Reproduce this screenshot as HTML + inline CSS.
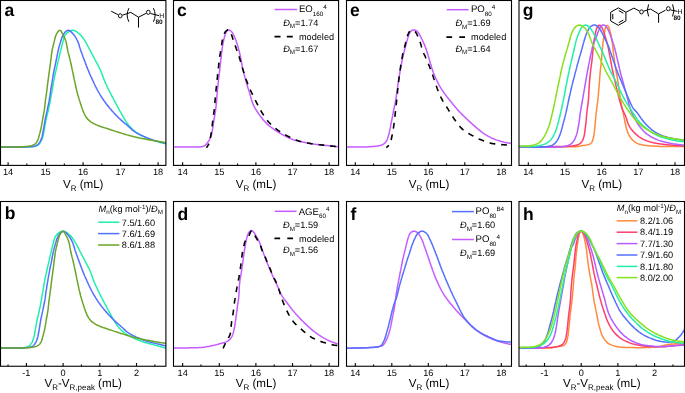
<!DOCTYPE html>
<html><head><meta charset="utf-8"><style>
html,body{margin:0;padding:0;background:#fff;}
body{width:685px;height:393px;overflow:hidden;position:relative;font-family:"Liberation Sans", sans-serif;}
svg text{font-family:"Liberation Sans", sans-serif;fill:#000;text-rendering:geometricPrecision;}
</style></head><body>
<svg xmlns="http://www.w3.org/2000/svg" width="685" height="393" viewBox="0 0 685 393" style="position:absolute;left:0;top:0;will-change:transform">
<line x1="8.10" y1="162.20" x2="8.10" y2="165.40" stroke="#000" stroke-width="1.1"/>
<line x1="45.60" y1="162.20" x2="45.60" y2="165.40" stroke="#000" stroke-width="1.1"/>
<line x1="83.10" y1="162.20" x2="83.10" y2="165.40" stroke="#000" stroke-width="1.1"/>
<line x1="120.60" y1="162.20" x2="120.60" y2="165.40" stroke="#000" stroke-width="1.1"/>
<line x1="158.10" y1="162.20" x2="158.10" y2="165.40" stroke="#000" stroke-width="1.1"/>
<line x1="26.85" y1="163.60" x2="26.85" y2="165.40" stroke="#000" stroke-width="1.1"/>
<line x1="64.35" y1="163.60" x2="64.35" y2="165.40" stroke="#000" stroke-width="1.1"/>
<line x1="101.85" y1="163.60" x2="101.85" y2="165.40" stroke="#000" stroke-width="1.1"/>
<line x1="139.35" y1="163.60" x2="139.35" y2="165.40" stroke="#000" stroke-width="1.1"/>
<text x="8.10" y="175.45" font-size="9.2" text-anchor="middle">14</text>
<text x="45.60" y="175.45" font-size="9.2" text-anchor="middle">15</text>
<text x="83.10" y="175.45" font-size="9.2" text-anchor="middle">16</text>
<text x="120.60" y="175.45" font-size="9.2" text-anchor="middle">17</text>
<text x="158.10" y="175.45" font-size="9.2" text-anchor="middle">18</text>
<text x="83.20" y="188.2" font-size="11.6" text-anchor="middle">V<tspan font-size="8.0" dy="3">R</tspan><tspan dy="-3"> (mL)</tspan></text>
<line x1="26.40" y1="363.05" x2="26.40" y2="366.25" stroke="#000" stroke-width="1.1"/>
<line x1="63.10" y1="363.05" x2="63.10" y2="366.25" stroke="#000" stroke-width="1.1"/>
<line x1="99.80" y1="363.05" x2="99.80" y2="366.25" stroke="#000" stroke-width="1.1"/>
<line x1="136.50" y1="363.05" x2="136.50" y2="366.25" stroke="#000" stroke-width="1.1"/>
<line x1="8.05" y1="364.45" x2="8.05" y2="366.25" stroke="#000" stroke-width="1.1"/>
<line x1="44.75" y1="364.45" x2="44.75" y2="366.25" stroke="#000" stroke-width="1.1"/>
<line x1="81.45" y1="364.45" x2="81.45" y2="366.25" stroke="#000" stroke-width="1.1"/>
<line x1="118.15" y1="364.45" x2="118.15" y2="366.25" stroke="#000" stroke-width="1.1"/>
<line x1="154.85" y1="364.45" x2="154.85" y2="366.25" stroke="#000" stroke-width="1.1"/>
<text x="26.40" y="375.8" font-size="9.2" text-anchor="middle">-1</text>
<text x="63.10" y="375.8" font-size="9.2" text-anchor="middle">0</text>
<text x="99.80" y="375.8" font-size="9.2" text-anchor="middle">1</text>
<text x="136.50" y="375.8" font-size="9.2" text-anchor="middle">2</text>
<text x="83.20" y="387.4" font-size="11.6" text-anchor="middle">V<tspan font-size="8.0" dy="3">R</tspan><tspan dy="-3">-V</tspan><tspan font-size="8.0" dy="3">R,peak</tspan><tspan dy="-3"> (mL)</tspan></text>
<line x1="182.65" y1="162.20" x2="182.65" y2="165.40" stroke="#000" stroke-width="1.1"/>
<line x1="219.27" y1="162.20" x2="219.27" y2="165.40" stroke="#000" stroke-width="1.1"/>
<line x1="255.89" y1="162.20" x2="255.89" y2="165.40" stroke="#000" stroke-width="1.1"/>
<line x1="292.51" y1="162.20" x2="292.51" y2="165.40" stroke="#000" stroke-width="1.1"/>
<line x1="329.13" y1="162.20" x2="329.13" y2="165.40" stroke="#000" stroke-width="1.1"/>
<line x1="200.96" y1="163.60" x2="200.96" y2="165.40" stroke="#000" stroke-width="1.1"/>
<line x1="237.58" y1="163.60" x2="237.58" y2="165.40" stroke="#000" stroke-width="1.1"/>
<line x1="274.20" y1="163.60" x2="274.20" y2="165.40" stroke="#000" stroke-width="1.1"/>
<line x1="310.82" y1="163.60" x2="310.82" y2="165.40" stroke="#000" stroke-width="1.1"/>
<text x="182.65" y="175.45" font-size="9.2" text-anchor="middle">14</text>
<text x="219.27" y="175.45" font-size="9.2" text-anchor="middle">15</text>
<text x="255.89" y="175.45" font-size="9.2" text-anchor="middle">16</text>
<text x="292.51" y="175.45" font-size="9.2" text-anchor="middle">17</text>
<text x="329.13" y="175.45" font-size="9.2" text-anchor="middle">18</text>
<text x="256.05" y="188.2" font-size="11.6" text-anchor="middle">V<tspan font-size="8.0" dy="3">R</tspan><tspan dy="-3"> (mL)</tspan></text>
<line x1="182.65" y1="363.05" x2="182.65" y2="366.25" stroke="#000" stroke-width="1.1"/>
<line x1="219.27" y1="363.05" x2="219.27" y2="366.25" stroke="#000" stroke-width="1.1"/>
<line x1="255.89" y1="363.05" x2="255.89" y2="366.25" stroke="#000" stroke-width="1.1"/>
<line x1="292.51" y1="363.05" x2="292.51" y2="366.25" stroke="#000" stroke-width="1.1"/>
<line x1="329.13" y1="363.05" x2="329.13" y2="366.25" stroke="#000" stroke-width="1.1"/>
<line x1="200.96" y1="364.45" x2="200.96" y2="366.25" stroke="#000" stroke-width="1.1"/>
<line x1="237.58" y1="364.45" x2="237.58" y2="366.25" stroke="#000" stroke-width="1.1"/>
<line x1="274.20" y1="364.45" x2="274.20" y2="366.25" stroke="#000" stroke-width="1.1"/>
<line x1="310.82" y1="364.45" x2="310.82" y2="366.25" stroke="#000" stroke-width="1.1"/>
<text x="182.65" y="375.8" font-size="9.2" text-anchor="middle">14</text>
<text x="219.27" y="375.8" font-size="9.2" text-anchor="middle">15</text>
<text x="255.89" y="375.8" font-size="9.2" text-anchor="middle">16</text>
<text x="292.51" y="375.8" font-size="9.2" text-anchor="middle">17</text>
<text x="329.13" y="375.8" font-size="9.2" text-anchor="middle">18</text>
<text x="256.05" y="387.4" font-size="11.6" text-anchor="middle">V<tspan font-size="8.0" dy="3">R</tspan><tspan dy="-3"> (mL)</tspan></text>
<line x1="355.30" y1="162.20" x2="355.30" y2="165.40" stroke="#000" stroke-width="1.1"/>
<line x1="391.80" y1="162.20" x2="391.80" y2="165.40" stroke="#000" stroke-width="1.1"/>
<line x1="428.30" y1="162.20" x2="428.30" y2="165.40" stroke="#000" stroke-width="1.1"/>
<line x1="464.80" y1="162.20" x2="464.80" y2="165.40" stroke="#000" stroke-width="1.1"/>
<line x1="501.30" y1="162.20" x2="501.30" y2="165.40" stroke="#000" stroke-width="1.1"/>
<line x1="373.55" y1="163.60" x2="373.55" y2="165.40" stroke="#000" stroke-width="1.1"/>
<line x1="410.05" y1="163.60" x2="410.05" y2="165.40" stroke="#000" stroke-width="1.1"/>
<line x1="446.55" y1="163.60" x2="446.55" y2="165.40" stroke="#000" stroke-width="1.1"/>
<line x1="483.05" y1="163.60" x2="483.05" y2="165.40" stroke="#000" stroke-width="1.1"/>
<text x="355.30" y="175.45" font-size="9.2" text-anchor="middle">14</text>
<text x="391.80" y="175.45" font-size="9.2" text-anchor="middle">15</text>
<text x="428.30" y="175.45" font-size="9.2" text-anchor="middle">16</text>
<text x="464.80" y="175.45" font-size="9.2" text-anchor="middle">17</text>
<text x="501.30" y="175.45" font-size="9.2" text-anchor="middle">18</text>
<text x="429.00" y="188.2" font-size="11.6" text-anchor="middle">V<tspan font-size="8.0" dy="3">R</tspan><tspan dy="-3"> (mL)</tspan></text>
<line x1="355.30" y1="363.05" x2="355.30" y2="366.25" stroke="#000" stroke-width="1.1"/>
<line x1="391.80" y1="363.05" x2="391.80" y2="366.25" stroke="#000" stroke-width="1.1"/>
<line x1="428.30" y1="363.05" x2="428.30" y2="366.25" stroke="#000" stroke-width="1.1"/>
<line x1="464.80" y1="363.05" x2="464.80" y2="366.25" stroke="#000" stroke-width="1.1"/>
<line x1="501.30" y1="363.05" x2="501.30" y2="366.25" stroke="#000" stroke-width="1.1"/>
<line x1="373.55" y1="364.45" x2="373.55" y2="366.25" stroke="#000" stroke-width="1.1"/>
<line x1="410.05" y1="364.45" x2="410.05" y2="366.25" stroke="#000" stroke-width="1.1"/>
<line x1="446.55" y1="364.45" x2="446.55" y2="366.25" stroke="#000" stroke-width="1.1"/>
<line x1="483.05" y1="364.45" x2="483.05" y2="366.25" stroke="#000" stroke-width="1.1"/>
<text x="355.30" y="375.8" font-size="9.2" text-anchor="middle">14</text>
<text x="391.80" y="375.8" font-size="9.2" text-anchor="middle">15</text>
<text x="428.30" y="375.8" font-size="9.2" text-anchor="middle">16</text>
<text x="464.80" y="375.8" font-size="9.2" text-anchor="middle">17</text>
<text x="501.30" y="375.8" font-size="9.2" text-anchor="middle">18</text>
<text x="429.00" y="387.4" font-size="11.6" text-anchor="middle">V<tspan font-size="8.0" dy="3">R</tspan><tspan dy="-3"> (mL)</tspan></text>
<line x1="528.30" y1="162.20" x2="528.30" y2="165.40" stroke="#000" stroke-width="1.1"/>
<line x1="564.98" y1="162.20" x2="564.98" y2="165.40" stroke="#000" stroke-width="1.1"/>
<line x1="601.66" y1="162.20" x2="601.66" y2="165.40" stroke="#000" stroke-width="1.1"/>
<line x1="638.34" y1="162.20" x2="638.34" y2="165.40" stroke="#000" stroke-width="1.1"/>
<line x1="675.02" y1="162.20" x2="675.02" y2="165.40" stroke="#000" stroke-width="1.1"/>
<line x1="546.64" y1="163.60" x2="546.64" y2="165.40" stroke="#000" stroke-width="1.1"/>
<line x1="583.32" y1="163.60" x2="583.32" y2="165.40" stroke="#000" stroke-width="1.1"/>
<line x1="620.00" y1="163.60" x2="620.00" y2="165.40" stroke="#000" stroke-width="1.1"/>
<line x1="656.68" y1="163.60" x2="656.68" y2="165.40" stroke="#000" stroke-width="1.1"/>
<text x="528.30" y="175.45" font-size="9.2" text-anchor="middle">14</text>
<text x="564.98" y="175.45" font-size="9.2" text-anchor="middle">15</text>
<text x="601.66" y="175.45" font-size="9.2" text-anchor="middle">16</text>
<text x="638.34" y="175.45" font-size="9.2" text-anchor="middle">17</text>
<text x="675.02" y="175.45" font-size="9.2" text-anchor="middle">18</text>
<text x="601.75" y="188.2" font-size="11.6" text-anchor="middle">V<tspan font-size="8.0" dy="3">R</tspan><tspan dy="-3"> (mL)</tspan></text>
<line x1="544.50" y1="363.05" x2="544.50" y2="366.25" stroke="#000" stroke-width="1.1"/>
<line x1="581.20" y1="363.05" x2="581.20" y2="366.25" stroke="#000" stroke-width="1.1"/>
<line x1="617.90" y1="363.05" x2="617.90" y2="366.25" stroke="#000" stroke-width="1.1"/>
<line x1="654.60" y1="363.05" x2="654.60" y2="366.25" stroke="#000" stroke-width="1.1"/>
<line x1="526.15" y1="364.45" x2="526.15" y2="366.25" stroke="#000" stroke-width="1.1"/>
<line x1="562.85" y1="364.45" x2="562.85" y2="366.25" stroke="#000" stroke-width="1.1"/>
<line x1="599.55" y1="364.45" x2="599.55" y2="366.25" stroke="#000" stroke-width="1.1"/>
<line x1="636.25" y1="364.45" x2="636.25" y2="366.25" stroke="#000" stroke-width="1.1"/>
<line x1="672.95" y1="364.45" x2="672.95" y2="366.25" stroke="#000" stroke-width="1.1"/>
<text x="544.50" y="375.8" font-size="9.2" text-anchor="middle">-1</text>
<text x="581.20" y="375.8" font-size="9.2" text-anchor="middle">0</text>
<text x="617.90" y="375.8" font-size="9.2" text-anchor="middle">1</text>
<text x="654.60" y="375.8" font-size="9.2" text-anchor="middle">2</text>
<text x="601.75" y="387.4" font-size="11.6" text-anchor="middle">V<tspan font-size="8.0" dy="3">R</tspan><tspan dy="-3">-V</tspan><tspan font-size="8.0" dy="3">R,peak</tspan><tspan dy="-3"> (mL)</tspan></text>
<defs>
<clipPath id="clip00"><rect x="0.5" y="0.5" width="165.4" height="164.9"/></clipPath>
<clipPath id="clip01"><rect x="0.5" y="201.5" width="165.4" height="164.75"/></clipPath>
<clipPath id="clip10"><rect x="173.5" y="0.5" width="165.10000000000002" height="164.9"/></clipPath>
<clipPath id="clip11"><rect x="173.5" y="201.5" width="165.10000000000002" height="164.75"/></clipPath>
<clipPath id="clip20"><rect x="346.5" y="0.5" width="165.0" height="164.9"/></clipPath>
<clipPath id="clip21"><rect x="346.5" y="201.5" width="165.0" height="164.75"/></clipPath>
<clipPath id="clip30"><rect x="519.0" y="0.5" width="165.5" height="164.9"/></clipPath>
<clipPath id="clip31"><rect x="519.0" y="201.5" width="165.5" height="164.75"/></clipPath>
</defs>
<path d="M1.0,147.1 L1.5,147.1 L2.1,147.1 L2.9,147.1 L3.6,147.1 L4.4,147.1 L5.1,147.1 L5.9,147.1 L6.6,147.1 L7.4,147.1 L8.1,147.1 L8.9,147.1 L9.6,147.1 L10.4,147.1 L11.1,147.1 L11.9,147.1 L12.6,147.1 L13.4,147.1 L14.1,147.1 L14.9,147.1 L15.6,147.1 L16.3,147.1 L17.1,147.1 L17.8,147.1 L18.6,147.1 L19.3,147.1 L20.1,147.1 L20.8,147.1 L21.6,147.1 L22.3,147.1 L23.1,147.1 L23.8,147.1 L24.6,147.1 L25.3,147.0 L26.1,147.0 L26.8,147.0 L27.6,147.0 L28.3,147.0 L29.1,146.9 L29.8,146.9 L30.6,146.9 L31.3,146.8 L32.1,146.8 L32.8,146.7 L33.6,146.6 L34.3,146.5 L35.0,146.3 L35.8,146.1 L36.5,145.9 L37.2,145.6 L37.8,145.2 L38.4,144.8 L38.9,144.3 L39.4,143.7 L39.9,143.1 L40.3,142.5 L40.7,141.9 L41.1,141.2 L41.4,140.5 L41.7,139.9 L42.0,139.2 L42.2,138.5 L42.5,137.7 L42.7,137.0 L42.9,136.3 L43.1,135.6 L43.3,134.9 L43.4,134.1 L43.6,133.4 L43.7,132.7 L43.8,131.9 L44.0,131.2 L44.1,130.4 L44.3,129.7 L44.4,129.0 L44.5,128.2 L44.7,127.5 L44.8,126.7 L44.9,126.0 L45.0,125.3 L45.2,124.5 L45.3,123.8 L45.4,123.1 L45.6,122.3 L45.7,121.6 L45.8,120.8 L46.0,120.1 L46.1,119.4 L46.3,118.6 L46.5,117.9 L46.6,117.2 L46.8,116.5 L47.0,115.7 L47.2,115.0 L47.4,114.3 L47.6,113.5 L47.7,112.8 L47.9,112.1 L48.1,111.4 L48.3,110.6 L48.4,109.9 L48.6,109.2 L48.7,108.4 L48.9,107.7 L49.0,107.0 L49.2,106.2 L49.3,105.5 L49.5,104.8 L49.6,104.0 L49.8,103.3 L49.9,102.5 L50.1,101.8 L50.2,101.1 L50.3,100.3 L50.5,99.6 L50.6,98.9 L50.8,98.1 L50.9,97.4 L51.0,96.6 L51.2,95.9 L51.3,95.2 L51.4,94.4 L51.5,93.7 L51.7,93.0 L51.8,92.2 L51.9,91.5 L52.1,90.7 L52.2,90.0 L52.3,89.3 L52.5,88.5 L52.6,87.8 L52.7,87.0 L52.8,86.3 L52.9,85.6 L53.1,84.8 L53.2,84.1 L53.3,83.3 L53.4,82.6 L53.6,81.9 L53.7,81.1 L53.8,80.4 L54.0,79.7 L54.1,78.9 L54.3,78.2 L54.4,77.4 L54.6,76.7 L54.7,76.0 L54.9,75.2 L55.1,74.5 L55.2,73.8 L55.4,73.1 L55.6,72.3 L55.7,71.6 L55.9,70.9 L56.1,70.1 L56.2,69.4 L56.4,68.7 L56.6,67.9 L56.7,67.2 L56.9,66.5 L57.1,65.7 L57.2,65.0 L57.4,64.3 L57.6,63.6 L57.7,62.8 L57.9,62.1 L58.1,61.4 L58.3,60.6 L58.4,59.9 L58.6,59.2 L58.8,58.4 L58.9,57.7 L59.1,57.0 L59.3,56.2 L59.5,55.5 L59.6,54.8 L59.8,54.1 L60.0,53.3 L60.2,52.6 L60.3,51.9 L60.5,51.1 L60.7,50.4 L60.9,49.7 L61.1,49.0 L61.2,48.2 L61.4,47.5 L61.6,46.8 L61.8,46.0 L61.9,45.3 L62.1,44.6 L62.3,43.9 L62.5,43.1 L62.7,42.4 L62.9,41.7 L63.1,41.0 L63.3,40.2 L63.5,39.5 L63.7,38.8 L63.9,38.1 L64.1,37.4 L64.4,36.7 L64.6,36.0 L65.0,35.3 L65.4,34.7 L65.9,34.1 L66.4,33.6 L66.9,33.0 L67.5,32.5 L68.0,32.1 L68.7,31.6 L69.3,31.2 L69.9,30.9 L70.6,30.6 L71.3,30.4 L72.1,30.2 L72.8,30.2 L73.5,30.3 L74.2,30.4 L74.9,30.7 L75.6,31.0 L76.2,31.4 L76.9,31.8 L77.5,32.3 L78.0,32.8 L78.6,33.2 L79.2,33.7 L79.7,34.2 L80.3,34.7 L80.8,35.3 L81.3,35.8 L81.8,36.4 L82.3,37.0 L82.7,37.6 L83.2,38.2 L83.6,38.8 L84.0,39.4 L84.4,40.1 L84.8,40.7 L85.2,41.3 L85.6,42.0 L86.0,42.6 L86.3,43.3 L86.7,43.9 L87.1,44.6 L87.4,45.2 L87.8,45.9 L88.1,46.6 L88.5,47.2 L88.8,47.9 L89.2,48.6 L89.5,49.2 L89.9,49.9 L90.2,50.6 L90.6,51.2 L90.9,51.9 L91.3,52.6 L91.6,53.2 L92.0,53.9 L92.3,54.5 L92.7,55.2 L93.0,55.9 L93.4,56.5 L93.7,57.2 L94.1,57.9 L94.4,58.5 L94.8,59.2 L95.1,59.8 L95.5,60.5 L95.8,61.2 L96.2,61.8 L96.5,62.5 L96.9,63.1 L97.3,63.8 L97.6,64.5 L98.0,65.1 L98.3,65.8 L98.7,66.4 L99.0,67.1 L99.4,67.8 L99.7,68.5 L100.0,69.1 L100.3,69.8 L100.6,70.5 L100.9,71.2 L101.2,71.9 L101.4,72.6 L101.7,73.3 L102.0,74.0 L102.2,74.7 L102.5,75.4 L102.7,76.1 L103.0,76.8 L103.2,77.5 L103.5,78.2 L103.8,78.9 L104.1,79.6 L104.3,80.3 L104.6,81.0 L104.9,81.7 L105.2,82.4 L105.5,83.1 L105.8,83.8 L106.2,84.4 L106.5,85.1 L106.8,85.8 L107.1,86.5 L107.4,87.2 L107.7,87.8 L108.1,88.5 L108.4,89.2 L108.7,89.9 L109.1,90.5 L109.4,91.2 L109.7,91.9 L110.1,92.5 L110.4,93.2 L110.8,93.9 L111.1,94.5 L111.5,95.2 L111.8,95.9 L112.2,96.5 L112.5,97.2 L112.9,97.9 L113.2,98.5 L113.6,99.2 L113.9,99.8 L114.3,100.5 L114.6,101.2 L115.0,101.8 L115.3,102.5 L115.7,103.1 L116.0,103.8 L116.4,104.5 L116.7,105.1 L117.1,105.8 L117.5,106.5 L117.8,107.1 L118.2,107.8 L118.5,108.4 L118.9,109.1 L119.3,109.7 L119.6,110.4 L120.0,111.1 L120.3,111.7 L120.7,112.4 L121.1,113.0 L121.4,113.7 L121.8,114.3 L122.2,115.0 L122.5,115.6 L122.9,116.3 L123.3,116.9 L123.7,117.6 L124.0,118.2 L124.4,118.9 L124.8,119.5 L125.2,120.2 L125.6,120.8 L126.0,121.4 L126.4,122.1 L126.8,122.7 L127.3,123.3 L127.7,123.9 L128.1,124.5 L128.6,125.1 L129.1,125.7 L129.6,126.2 L130.1,126.8 L130.6,127.4 L131.1,127.9 L131.6,128.4 L132.2,129.0 L132.7,129.5 L133.3,130.0 L133.8,130.4 L134.4,130.9 L135.0,131.4 L135.6,131.8 L136.2,132.3 L136.8,132.7 L137.4,133.1 L138.1,133.5 L138.7,133.9 L139.4,134.3 L140.0,134.7 L140.7,135.1 L141.3,135.4 L142.0,135.8 L142.7,136.1 L143.3,136.4 L144.0,136.7 L144.7,137.1 L145.4,137.4 L146.1,137.7 L146.8,137.9 L147.5,138.2 L148.1,138.5 L148.8,138.8 L149.5,139.1 L150.3,139.3 L151.0,139.6 L151.7,139.8 L152.4,140.1 L153.1,140.3 L153.8,140.5 L154.5,140.8 L155.2,141.0 L155.9,141.2 L156.7,141.4 L157.4,141.6 L158.1,141.9 L158.8,142.1 L159.5,142.3 L160.3,142.5 L161.0,142.7 L161.7,142.9 L162.4,143.1 L163.2,143.2 L163.9,143.4 L164.6,143.6 L165.2,143.7 L165.7,143.8 L165.7,143.8" fill="none" stroke="#1ef0a8" stroke-width="1.5" clip-path="url(#clip00)" stroke-linejoin="round"/>
<path d="M1.0,147.1 L1.5,147.1 L2.1,147.1 L2.9,147.1 L3.6,147.1 L4.3,147.0 L5.1,147.0 L5.8,147.0 L6.6,147.0 L7.3,147.0 L8.1,147.0 L8.8,147.0 L9.6,147.0 L10.3,147.0 L11.1,147.0 L11.8,147.0 L12.6,147.0 L13.3,147.0 L14.1,147.0 L14.8,147.0 L15.6,147.0 L16.3,147.0 L17.1,147.0 L17.8,147.0 L18.6,147.0 L19.3,147.0 L20.1,147.0 L20.8,147.0 L21.6,147.0 L22.3,147.0 L23.1,147.0 L23.8,147.0 L24.6,147.0 L25.3,146.9 L26.1,146.9 L26.8,146.9 L27.6,146.9 L28.3,146.8 L29.1,146.8 L29.8,146.8 L30.6,146.8 L31.3,146.7 L32.1,146.6 L32.8,146.5 L33.6,146.4 L34.3,146.2 L35.0,146.0 L35.7,145.8 L36.4,145.5 L37.0,145.1 L37.7,144.7 L38.2,144.2 L38.7,143.6 L39.2,143.0 L39.6,142.4 L40.0,141.8 L40.3,141.1 L40.7,140.5 L41.0,139.8 L41.3,139.1 L41.5,138.4 L41.7,137.7 L42.0,137.0 L42.2,136.2 L42.4,135.5 L42.5,134.8 L42.7,134.0 L42.8,133.3 L42.9,132.6 L43.1,131.8 L43.2,131.1 L43.3,130.4 L43.5,129.6 L43.6,128.9 L43.7,128.1 L43.8,127.4 L44.0,126.7 L44.1,125.9 L44.2,125.2 L44.3,124.4 L44.5,123.7 L44.6,123.0 L44.7,122.2 L44.8,121.5 L45.0,120.7 L45.1,120.0 L45.2,119.3 L45.4,118.5 L45.5,117.8 L45.7,117.1 L45.8,116.3 L46.0,115.6 L46.2,114.9 L46.3,114.1 L46.5,113.4 L46.6,112.7 L46.8,111.9 L46.9,111.2 L47.1,110.5 L47.3,109.7 L47.4,109.0 L47.6,108.3 L47.7,107.5 L47.9,106.8 L48.1,106.1 L48.2,105.3 L48.4,104.6 L48.5,103.9 L48.7,103.1 L48.8,102.4 L49.0,101.7 L49.1,100.9 L49.3,100.2 L49.4,99.4 L49.5,98.7 L49.6,98.0 L49.7,97.2 L49.9,96.5 L50.0,95.7 L50.1,95.0 L50.2,94.3 L50.3,93.5 L50.4,92.8 L50.5,92.0 L50.6,91.3 L50.7,90.5 L50.8,89.8 L50.9,89.1 L51.1,88.3 L51.2,87.6 L51.3,86.8 L51.4,86.1 L51.5,85.4 L51.6,84.6 L51.8,83.9 L51.9,83.1 L52.0,82.4 L52.1,81.7 L52.2,80.9 L52.4,80.2 L52.5,79.4 L52.6,78.7 L52.8,78.0 L52.9,77.2 L53.0,76.5 L53.1,75.7 L53.3,75.0 L53.4,74.3 L53.5,73.5 L53.7,72.8 L53.8,72.1 L53.9,71.3 L54.1,70.6 L54.2,69.8 L54.4,69.1 L54.5,68.4 L54.7,67.6 L54.8,66.9 L55.0,66.2 L55.1,65.4 L55.3,64.7 L55.5,64.0 L55.6,63.2 L55.8,62.5 L55.9,61.8 L56.1,61.0 L56.2,60.3 L56.4,59.6 L56.5,58.8 L56.7,58.1 L56.8,57.4 L57.0,56.6 L57.1,55.9 L57.2,55.2 L57.4,54.4 L57.5,53.7 L57.7,52.9 L57.8,52.2 L58.0,51.5 L58.1,50.7 L58.3,50.0 L58.5,49.3 L58.7,48.6 L58.8,47.8 L59.0,47.1 L59.2,46.4 L59.4,45.7 L59.6,44.9 L59.8,44.2 L60.0,43.5 L60.3,42.8 L60.5,42.1 L60.7,41.3 L60.9,40.6 L61.2,39.9 L61.4,39.2 L61.6,38.5 L61.8,37.8 L62.1,37.1 L62.4,36.4 L62.7,35.7 L63.0,35.0 L63.4,34.4 L63.8,33.8 L64.3,33.2 L64.7,32.6 L65.2,32.0 L65.7,31.5 L66.3,31.0 L66.9,30.6 L67.6,30.4 L68.3,30.3 L69.0,30.4 L69.6,30.7 L70.3,31.1 L70.9,31.6 L71.4,32.1 L71.9,32.6 L72.4,33.1 L72.9,33.7 L73.4,34.3 L73.9,34.8 L74.4,35.4 L74.8,36.0 L75.2,36.7 L75.6,37.3 L76.0,37.9 L76.4,38.6 L76.7,39.3 L77.0,39.9 L77.4,40.6 L77.7,41.3 L78.0,42.0 L78.3,42.7 L78.5,43.4 L78.8,44.1 L79.0,44.8 L79.2,45.5 L79.4,46.2 L79.6,47.0 L79.9,47.7 L80.1,48.4 L80.3,49.1 L80.5,49.8 L80.8,50.5 L81.0,51.2 L81.3,51.9 L81.5,52.6 L81.8,53.3 L82.1,54.1 L82.3,54.8 L82.6,55.5 L82.8,56.2 L83.1,56.9 L83.4,57.6 L83.6,58.3 L83.9,59.0 L84.2,59.7 L84.4,60.4 L84.7,61.1 L85.0,61.8 L85.2,62.5 L85.5,63.2 L85.7,63.9 L86.0,64.6 L86.3,65.3 L86.5,66.0 L86.8,66.7 L87.1,67.4 L87.3,68.1 L87.6,68.8 L87.9,69.5 L88.2,70.2 L88.5,70.9 L88.8,71.6 L89.0,72.3 L89.3,72.9 L89.6,73.6 L89.9,74.3 L90.2,75.0 L90.5,75.7 L90.8,76.4 L91.2,77.1 L91.5,77.7 L91.8,78.4 L92.1,79.1 L92.4,79.8 L92.7,80.5 L93.0,81.2 L93.4,81.8 L93.7,82.5 L94.0,83.2 L94.3,83.9 L94.6,84.5 L95.0,85.2 L95.3,85.9 L95.6,86.6 L96.0,87.2 L96.3,87.9 L96.6,88.6 L97.0,89.2 L97.3,89.9 L97.7,90.6 L98.1,91.2 L98.4,91.9 L98.8,92.5 L99.2,93.2 L99.6,93.8 L100.0,94.5 L100.3,95.1 L100.7,95.7 L101.1,96.4 L101.5,97.0 L101.9,97.6 L102.3,98.3 L102.8,98.9 L103.2,99.5 L103.6,100.1 L104.0,100.7 L104.5,101.4 L104.9,102.0 L105.3,102.6 L105.8,103.2 L106.2,103.8 L106.7,104.4 L107.2,105.0 L107.6,105.6 L108.1,106.1 L108.6,106.7 L109.0,107.3 L109.5,107.9 L110.0,108.5 L110.5,109.0 L111.0,109.6 L111.5,110.2 L111.9,110.7 L112.4,111.3 L112.9,111.8 L113.5,112.4 L114.0,113.0 L114.5,113.5 L115.0,114.1 L115.5,114.6 L116.0,115.1 L116.5,115.7 L117.1,116.2 L117.6,116.7 L118.1,117.3 L118.7,117.8 L119.2,118.3 L119.8,118.8 L120.3,119.3 L120.8,119.9 L121.4,120.4 L122.0,120.9 L122.5,121.3 L123.1,121.8 L123.7,122.3 L124.2,122.8 L124.8,123.3 L125.4,123.8 L126.0,124.2 L126.6,124.7 L127.1,125.2 L127.7,125.7 L128.2,126.2 L128.8,126.7 L129.3,127.2 L129.9,127.7 L130.4,128.2 L131.0,128.8 L131.5,129.3 L132.1,129.8 L132.7,130.2 L133.3,130.7 L133.9,131.2 L134.5,131.6 L135.1,132.0 L135.7,132.4 L136.4,132.8 L137.0,133.2 L137.7,133.5 L138.3,133.9 L139.0,134.2 L139.7,134.6 L140.3,134.9 L141.0,135.2 L141.7,135.5 L142.4,135.8 L143.1,136.1 L143.8,136.4 L144.5,136.7 L145.1,137.0 L145.8,137.3 L146.5,137.6 L147.2,137.9 L147.9,138.2 L148.6,138.4 L149.3,138.7 L150.0,139.0 L150.7,139.2 L151.4,139.5 L152.1,139.7 L152.9,139.9 L153.6,140.2 L154.3,140.4 L155.0,140.6 L155.7,140.8 L156.5,141.0 L157.2,141.2 L157.9,141.4 L158.6,141.6 L159.4,141.8 L160.1,142.0 L160.8,142.1 L161.5,142.3 L162.3,142.5 L163.0,142.6 L163.7,142.8 L164.5,142.9 L165.1,143.0 L165.6,143.1 L165.7,143.1" fill="none" stroke="#5470ff" stroke-width="1.5" clip-path="url(#clip00)" stroke-linejoin="round"/>
<path d="M1.0,147.1 L1.5,147.1 L2.1,147.1 L2.9,147.1 L3.6,147.1 L4.3,147.1 L5.1,147.1 L5.8,147.0 L6.6,147.0 L7.3,147.0 L8.1,147.0 L8.8,147.0 L9.6,147.0 L10.3,147.0 L11.1,147.0 L11.8,147.0 L12.6,147.0 L13.3,147.0 L14.1,147.0 L14.8,147.0 L15.6,147.0 L16.3,146.9 L17.1,146.9 L17.8,146.9 L18.6,146.9 L19.3,146.9 L20.1,146.9 L20.8,146.9 L21.6,146.8 L22.3,146.8 L23.1,146.8 L23.8,146.7 L24.6,146.6 L25.3,146.6 L26.1,146.5 L26.8,146.4 L27.6,146.3 L28.3,146.2 L29.1,146.1 L29.8,146.0 L30.5,145.9 L31.3,145.7 L32.0,145.5 L32.7,145.2 L33.4,144.9 L34.1,144.6 L34.7,144.2 L35.3,143.8 L35.8,143.3 L36.3,142.7 L36.7,142.1 L37.1,141.5 L37.4,140.8 L37.8,140.1 L38.0,139.4 L38.3,138.7 L38.5,138.0 L38.7,137.3 L38.9,136.5 L39.1,135.8 L39.3,135.1 L39.5,134.4 L39.7,133.7 L39.9,132.9 L40.1,132.2 L40.3,131.5 L40.5,130.8 L40.6,130.0 L40.8,129.3 L41.0,128.6 L41.1,127.8 L41.3,127.1 L41.4,126.4 L41.5,125.6 L41.7,124.9 L41.8,124.1 L41.9,123.4 L42.0,122.7 L42.2,121.9 L42.3,121.2 L42.4,120.4 L42.6,119.7 L42.7,119.0 L42.8,118.2 L43.0,117.5 L43.1,116.8 L43.3,116.0 L43.4,115.3 L43.5,114.5 L43.7,113.8 L43.8,113.1 L43.9,112.3 L44.0,111.6 L44.2,110.9 L44.3,110.1 L44.4,109.4 L44.5,108.6 L44.6,107.9 L44.7,107.1 L44.8,106.4 L44.8,105.6 L44.9,104.9 L45.0,104.2 L45.1,103.4 L45.2,102.7 L45.3,101.9 L45.4,101.2 L45.4,100.4 L45.5,99.7 L45.6,98.9 L45.7,98.2 L45.8,97.5 L46.0,96.7 L46.1,96.0 L46.2,95.2 L46.3,94.5 L46.4,93.7 L46.5,93.0 L46.6,92.3 L46.7,91.5 L46.8,90.8 L46.9,90.0 L47.0,89.3 L47.1,88.5 L47.2,87.8 L47.3,87.1 L47.3,86.3 L47.4,85.6 L47.5,84.8 L47.6,84.1 L47.7,83.3 L47.8,82.6 L47.9,81.8 L48.0,81.1 L48.1,80.3 L48.2,79.6 L48.3,78.9 L48.4,78.1 L48.5,77.4 L48.6,76.6 L48.7,75.9 L48.8,75.1 L48.9,74.4 L49.0,73.7 L49.1,72.9 L49.2,72.2 L49.3,71.4 L49.4,70.7 L49.5,70.0 L49.6,69.2 L49.7,68.5 L49.8,67.7 L49.9,67.0 L50.0,66.2 L50.1,65.5 L50.2,64.7 L50.3,64.0 L50.4,63.3 L50.5,62.5 L50.6,61.8 L50.7,61.0 L50.8,60.3 L50.9,59.5 L51.0,58.8 L51.1,58.1 L51.2,57.3 L51.2,56.6 L51.3,55.8 L51.4,55.1 L51.5,54.3 L51.6,53.6 L51.8,52.8 L51.9,52.1 L52.0,51.4 L52.1,50.6 L52.2,49.9 L52.4,49.1 L52.5,48.4 L52.7,47.7 L52.8,47.0 L53.0,46.2 L53.2,45.5 L53.4,44.8 L53.6,44.0 L53.8,43.3 L53.9,42.6 L54.1,41.9 L54.3,41.1 L54.5,40.4 L54.7,39.7 L54.8,38.9 L55.0,38.2 L55.2,37.5 L55.4,36.8 L55.6,36.1 L55.9,35.4 L56.2,34.7 L56.5,34.0 L56.9,33.3 L57.3,32.7 L57.7,32.1 L58.1,31.5 L58.6,30.9 L59.1,30.5 L59.7,30.4 L60.3,30.5 L60.9,30.9 L61.3,31.4 L61.7,32.1 L62.0,32.7 L62.4,33.4 L62.7,34.1 L63.1,34.7 L63.4,35.4 L63.8,36.1 L64.1,36.7 L64.4,37.4 L64.7,38.1 L65.0,38.8 L65.3,39.5 L65.5,40.2 L65.8,40.9 L66.0,41.6 L66.2,42.3 L66.3,43.1 L66.5,43.8 L66.6,44.5 L66.8,45.3 L66.9,46.0 L67.0,46.8 L67.1,47.5 L67.3,48.2 L67.4,49.0 L67.6,49.7 L67.7,50.4 L67.9,51.2 L68.0,51.9 L68.2,52.6 L68.4,53.4 L68.6,54.1 L68.8,54.8 L69.0,55.5 L69.2,56.3 L69.3,57.0 L69.5,57.7 L69.7,58.4 L69.9,59.2 L70.1,59.9 L70.2,60.6 L70.4,61.4 L70.6,62.1 L70.7,62.8 L70.9,63.6 L71.1,64.3 L71.2,65.0 L71.4,65.8 L71.5,66.5 L71.7,67.2 L71.9,68.0 L72.0,68.7 L72.2,69.4 L72.3,70.2 L72.5,70.9 L72.6,71.6 L72.8,72.4 L73.0,73.1 L73.1,73.8 L73.3,74.6 L73.4,75.3 L73.6,76.0 L73.7,76.8 L73.9,77.5 L74.0,78.2 L74.2,79.0 L74.3,79.7 L74.5,80.4 L74.6,81.2 L74.8,81.9 L75.0,82.6 L75.1,83.4 L75.3,84.1 L75.4,84.8 L75.6,85.6 L75.7,86.3 L75.9,87.0 L76.1,87.8 L76.2,88.5 L76.4,89.2 L76.6,90.0 L76.8,90.7 L77.0,91.4 L77.1,92.1 L77.3,92.9 L77.5,93.6 L77.7,94.3 L77.9,95.0 L78.1,95.8 L78.3,96.5 L78.5,97.2 L78.8,97.9 L79.0,98.6 L79.2,99.4 L79.4,100.1 L79.6,100.8 L79.9,101.5 L80.1,102.2 L80.3,102.9 L80.5,103.6 L80.8,104.4 L81.0,105.1 L81.3,105.8 L81.5,106.5 L81.7,107.2 L82.0,107.9 L82.2,108.6 L82.4,109.3 L82.7,110.0 L83.0,110.7 L83.3,111.4 L83.5,112.1 L83.8,112.8 L84.1,113.5 L84.5,114.2 L84.8,114.8 L85.2,115.5 L85.5,116.1 L85.9,116.8 L86.4,117.4 L86.8,118.0 L87.3,118.6 L87.7,119.2 L88.3,119.7 L88.8,120.2 L89.4,120.7 L89.9,121.2 L90.5,121.6 L91.2,122.1 L91.8,122.5 L92.4,122.8 L93.1,123.2 L93.8,123.6 L94.4,123.9 L95.1,124.2 L95.8,124.6 L96.5,124.9 L97.1,125.2 L97.8,125.4 L98.5,125.7 L99.2,126.0 L99.9,126.3 L100.6,126.5 L101.4,126.7 L102.1,127.0 L102.8,127.2 L103.5,127.4 L104.2,127.7 L104.9,127.9 L105.6,128.1 L106.4,128.3 L107.1,128.6 L107.8,128.8 L108.5,129.0 L109.2,129.2 L109.9,129.5 L110.6,129.7 L111.4,130.0 L112.1,130.2 L112.8,130.4 L113.5,130.7 L114.2,130.9 L114.9,131.1 L115.6,131.4 L116.3,131.6 L117.1,131.8 L117.8,132.0 L118.5,132.3 L119.2,132.5 L119.9,132.7 L120.6,132.9 L121.4,133.1 L122.1,133.4 L122.8,133.6 L123.5,133.8 L124.2,134.0 L124.9,134.2 L125.7,134.4 L126.4,134.7 L127.1,134.9 L127.8,135.1 L128.5,135.3 L129.3,135.5 L130.0,135.7 L130.7,135.9 L131.4,136.1 L132.2,136.3 L132.9,136.5 L133.6,136.6 L134.3,136.8 L135.1,137.0 L135.8,137.2 L136.5,137.3 L137.3,137.5 L138.0,137.7 L138.7,137.8 L139.5,138.0 L140.2,138.1 L140.9,138.3 L141.7,138.4 L142.4,138.6 L143.1,138.7 L143.9,138.8 L144.6,139.0 L145.4,139.1 L146.1,139.3 L146.8,139.4 L147.6,139.5 L148.3,139.7 L149.0,139.8 L149.8,139.9 L150.5,140.0 L151.3,140.2 L152.0,140.3 L152.7,140.4 L153.5,140.6 L154.2,140.7 L155.0,140.8 L155.7,140.9 L156.4,141.1 L157.2,141.2 L157.9,141.3 L158.7,141.4 L159.4,141.6 L160.1,141.7 L160.9,141.8 L161.6,141.9 L162.4,142.0 L163.1,142.1 L163.8,142.3 L164.5,142.4 L165.2,142.5 L165.6,142.5 L165.6,142.5" fill="none" stroke="#6aa527" stroke-width="1.5" clip-path="url(#clip00)" stroke-linejoin="round"/>
<path d="M-7.2,348.1 L-6.7,348.1 L-6.0,348.1 L-5.3,348.1 L-4.6,348.1 L-3.8,348.1 L-3.1,348.1 L-2.3,348.1 L-1.6,348.1 L-0.8,348.1 L-0.1,348.1 L0.7,348.1 L1.4,348.1 L2.2,348.1 L2.9,348.1 L3.7,348.1 L4.4,348.1 L5.2,348.1 L5.9,348.1 L6.7,348.1 L7.4,348.1 L8.2,348.1 L8.9,348.1 L9.7,348.1 L10.4,348.1 L11.2,348.1 L11.9,348.1 L12.7,348.1 L13.4,348.1 L14.2,348.1 L14.9,348.1 L15.7,348.1 L16.4,348.0 L17.2,348.0 L17.9,348.0 L18.7,348.0 L19.4,348.0 L20.2,347.9 L20.9,347.9 L21.7,347.9 L22.4,347.8 L23.2,347.8 L23.9,347.7 L24.7,347.6 L25.4,347.5 L26.1,347.3 L26.9,347.1 L27.6,346.8 L28.2,346.6 L28.9,346.2 L29.5,345.8 L30.0,345.2 L30.5,344.7 L30.9,344.1 L31.4,343.4 L31.7,342.8 L32.1,342.1 L32.4,341.5 L32.7,340.8 L33.0,340.1 L33.2,339.4 L33.4,338.7 L33.7,337.9 L33.9,337.2 L34.0,336.5 L34.2,335.8 L34.4,335.0 L34.5,334.3 L34.6,333.6 L34.8,332.8 L34.9,332.1 L35.0,331.3 L35.2,330.6 L35.3,329.9 L35.4,329.1 L35.6,328.4 L35.7,327.6 L35.8,326.9 L35.9,326.2 L36.1,325.4 L36.2,324.7 L36.3,323.9 L36.5,323.2 L36.6,322.5 L36.7,321.7 L36.9,321.0 L37.0,320.3 L37.2,319.5 L37.4,318.8 L37.5,318.1 L37.7,317.3 L37.9,316.6 L38.1,315.9 L38.2,315.2 L38.4,314.4 L38.6,313.7 L38.8,313.0 L38.9,312.2 L39.1,311.5 L39.3,310.8 L39.4,310.0 L39.6,309.3 L39.7,308.6 L39.9,307.8 L40.0,307.1 L40.2,306.4 L40.3,305.6 L40.4,304.9 L40.6,304.2 L40.7,303.4 L40.9,302.7 L41.0,301.9 L41.1,301.2 L41.3,300.5 L41.4,299.7 L41.5,299.0 L41.7,298.3 L41.8,297.5 L41.9,296.8 L42.1,296.0 L42.2,295.3 L42.3,294.6 L42.5,293.8 L42.6,293.1 L42.7,292.3 L42.8,291.6 L43.0,290.9 L43.1,290.1 L43.2,289.4 L43.3,288.6 L43.4,287.9 L43.6,287.2 L43.7,286.4 L43.8,285.7 L43.9,284.9 L44.0,284.2 L44.2,283.5 L44.3,282.7 L44.4,282.0 L44.6,281.2 L44.7,280.5 L44.8,279.8 L45.0,279.0 L45.1,278.3 L45.3,277.6 L45.5,276.8 L45.6,276.1 L45.8,275.4 L45.9,274.6 L46.1,273.9 L46.3,273.2 L46.4,272.4 L46.6,271.7 L46.8,271.0 L46.9,270.2 L47.1,269.5 L47.2,268.8 L47.4,268.1 L47.6,267.3 L47.7,266.6 L47.9,265.9 L48.1,265.1 L48.2,264.4 L48.4,263.7 L48.6,262.9 L48.7,262.2 L48.9,261.5 L49.1,260.7 L49.2,260.0 L49.4,259.3 L49.6,258.5 L49.7,257.8 L49.9,257.1 L50.1,256.4 L50.3,255.6 L50.4,254.9 L50.6,254.2 L50.8,253.4 L50.9,252.7 L51.1,252.0 L51.3,251.2 L51.5,250.5 L51.6,249.8 L51.8,249.1 L52.0,248.3 L52.2,247.6 L52.3,246.9 L52.5,246.1 L52.7,245.4 L52.9,244.7 L53.1,244.0 L53.3,243.2 L53.4,242.5 L53.6,241.8 L53.8,241.1 L54.0,240.3 L54.2,239.6 L54.4,238.9 L54.7,238.2 L54.9,237.5 L55.2,236.8 L55.6,236.1 L56.0,235.5 L56.5,235.0 L57.0,234.4 L57.5,233.9 L58.1,233.4 L58.6,232.9 L59.3,232.5 L59.9,232.1 L60.6,231.8 L61.2,231.5 L62.0,231.3 L62.7,231.2 L63.4,231.2 L64.2,231.3 L64.9,231.6 L65.5,231.9 L66.2,232.2 L66.8,232.6 L67.4,233.1 L68.0,233.6 L68.6,234.0 L69.1,234.5 L69.7,235.0 L70.2,235.5 L70.8,236.1 L71.3,236.6 L71.8,237.2 L72.2,237.8 L72.7,238.4 L73.1,239.0 L73.5,239.6 L73.9,240.2 L74.3,240.9 L74.7,241.5 L75.1,242.2 L75.5,242.8 L75.9,243.4 L76.3,244.1 L76.6,244.8 L77.0,245.4 L77.3,246.1 L77.7,246.7 L78.0,247.4 L78.4,248.1 L78.7,248.7 L79.0,249.4 L79.4,250.1 L79.7,250.8 L80.1,251.4 L80.4,252.1 L80.7,252.7 L81.1,253.4 L81.4,254.1 L81.8,254.7 L82.1,255.4 L82.5,256.1 L82.8,256.7 L83.2,257.4 L83.5,258.1 L83.9,258.7 L84.2,259.4 L84.5,260.1 L84.9,260.7 L85.2,261.4 L85.6,262.1 L85.9,262.7 L86.3,263.4 L86.6,264.1 L87.0,264.7 L87.3,265.4 L87.7,266.0 L88.0,266.7 L88.4,267.4 L88.7,268.0 L89.1,268.7 L89.4,269.4 L89.7,270.1 L90.0,270.8 L90.3,271.5 L90.6,272.1 L90.8,272.8 L91.1,273.5 L91.4,274.2 L91.6,275.0 L91.9,275.7 L92.1,276.4 L92.4,277.1 L92.6,277.8 L92.9,278.5 L93.1,279.2 L93.4,279.9 L93.7,280.6 L94.0,281.3 L94.2,282.0 L94.5,282.7 L94.8,283.4 L95.1,284.0 L95.4,284.7 L95.7,285.4 L96.0,286.1 L96.4,286.8 L96.7,287.5 L97.0,288.1 L97.3,288.8 L97.6,289.5 L97.9,290.2 L98.3,290.9 L98.6,291.5 L98.9,292.2 L99.3,292.9 L99.6,293.6 L99.9,294.2 L100.3,294.9 L100.6,295.6 L100.9,296.2 L101.3,296.9 L101.6,297.6 L102.0,298.2 L102.3,298.9 L102.7,299.6 L103.0,300.2 L103.4,300.9 L103.7,301.6 L104.1,302.2 L104.4,302.9 L104.7,303.5 L105.1,304.2 L105.4,304.9 L105.8,305.5 L106.1,306.2 L106.5,306.9 L106.8,307.5 L107.2,308.2 L107.6,308.9 L107.9,309.5 L108.3,310.2 L108.6,310.8 L109.0,311.5 L109.3,312.2 L109.7,312.8 L110.0,313.5 L110.4,314.1 L110.8,314.8 L111.1,315.5 L111.5,316.1 L111.8,316.8 L112.2,317.4 L112.6,318.1 L112.9,318.7 L113.3,319.4 L113.7,320.0 L114.1,320.7 L114.5,321.3 L114.9,321.9 L115.3,322.6 L115.7,323.2 L116.1,323.8 L116.5,324.5 L116.9,325.1 L117.4,325.7 L117.8,326.3 L118.3,326.8 L118.8,327.4 L119.3,328.0 L119.8,328.5 L120.3,329.1 L120.8,329.6 L121.4,330.1 L121.9,330.6 L122.5,331.1 L123.1,331.6 L123.6,332.1 L124.2,332.6 L124.8,333.0 L125.4,333.5 L126.0,333.9 L126.7,334.3 L127.3,334.7 L127.9,335.1 L128.6,335.5 L129.2,335.9 L129.9,336.2 L130.5,336.6 L131.2,337.0 L131.9,337.3 L132.5,337.6 L133.2,337.9 L133.9,338.3 L134.6,338.6 L135.3,338.9 L136.0,339.2 L136.7,339.4 L137.4,339.7 L138.1,340.0 L138.8,340.3 L139.5,340.5 L140.2,340.8 L140.9,341.0 L141.6,341.3 L142.3,341.5 L143.0,341.7 L143.7,342.0 L144.4,342.2 L145.2,342.4 L145.9,342.6 L146.6,342.8 L147.3,343.0 L148.0,343.2 L148.8,343.4 L149.5,343.6 L150.2,343.8 L150.9,344.0 L151.7,344.2 L152.4,344.4 L153.1,344.6 L153.8,344.8 L154.6,345.0 L155.3,345.2 L156.0,345.4 L156.7,345.6 L157.4,345.8 L158.2,346.0 L158.9,346.2 L159.6,346.4 L160.3,346.6 L161.1,346.8 L161.8,347.0 L162.5,347.2 L163.2,347.4 L163.9,347.6 L164.7,347.8 L165.4,348.0 L166.1,348.2 L166.8,348.4 L167.6,348.6 L168.3,348.8 L168.9,349.0 L169.5,349.2 L169.7,349.2" fill="none" stroke="#1ef0a8" stroke-width="1.5" clip-path="url(#clip01)" stroke-linejoin="round"/>
<path d="M-4.6,348.1 L-4.1,348.1 L-3.5,348.1 L-2.7,348.1 L-2.0,348.1 L-1.3,348.1 L-0.5,348.1 L0.2,348.1 L1.0,348.1 L1.7,348.0 L2.5,348.0 L3.2,348.0 L4.0,348.0 L4.7,348.0 L5.5,348.0 L6.2,348.0 L7.0,348.0 L7.7,348.0 L8.5,348.0 L9.2,348.0 L10.0,348.0 L10.7,348.0 L11.5,348.0 L12.2,348.0 L13.0,348.0 L13.7,348.0 L14.5,348.0 L15.2,348.0 L16.0,348.0 L16.7,348.0 L17.5,348.0 L18.2,348.0 L19.0,348.0 L19.7,348.0 L20.5,348.0 L21.2,347.9 L22.0,347.9 L22.7,347.9 L23.5,347.9 L24.2,347.8 L25.0,347.8 L25.7,347.8 L26.5,347.7 L27.2,347.7 L28.0,347.6 L28.7,347.5 L29.5,347.4 L30.2,347.2 L30.9,347.0 L31.6,346.7 L32.3,346.4 L32.9,346.0 L33.5,345.5 L34.0,345.0 L34.5,344.4 L34.9,343.8 L35.3,343.2 L35.7,342.6 L36.1,341.9 L36.4,341.2 L36.7,340.5 L36.9,339.8 L37.2,339.1 L37.4,338.4 L37.6,337.7 L37.8,337.0 L38.0,336.2 L38.1,335.5 L38.3,334.8 L38.4,334.0 L38.5,333.3 L38.7,332.5 L38.8,331.8 L38.9,331.1 L39.0,330.3 L39.2,329.6 L39.3,328.8 L39.4,328.1 L39.5,327.4 L39.7,326.6 L39.8,325.9 L39.9,325.1 L40.0,324.4 L40.1,323.7 L40.3,322.9 L40.4,322.2 L40.5,321.4 L40.6,320.7 L40.8,320.0 L40.9,319.2 L41.1,318.5 L41.2,317.8 L41.4,317.0 L41.5,316.3 L41.7,315.6 L41.8,314.8 L42.0,314.1 L42.2,313.4 L42.3,312.6 L42.5,311.9 L42.6,311.2 L42.8,310.4 L42.9,309.7 L43.1,309.0 L43.2,308.2 L43.4,307.5 L43.6,306.8 L43.7,306.0 L43.9,305.3 L44.0,304.6 L44.2,303.8 L44.3,303.1 L44.5,302.3 L44.6,301.6 L44.7,300.9 L44.8,300.1 L45.0,299.4 L45.1,298.6 L45.2,297.9 L45.3,297.2 L45.4,296.4 L45.5,295.7 L45.6,294.9 L45.7,294.2 L45.8,293.5 L45.9,292.7 L46.0,292.0 L46.1,291.2 L46.2,290.5 L46.4,289.7 L46.5,289.0 L46.6,288.3 L46.7,287.5 L46.8,286.8 L46.9,286.0 L47.0,285.3 L47.2,284.6 L47.3,283.8 L47.4,283.1 L47.5,282.3 L47.6,281.6 L47.8,280.9 L47.9,280.1 L48.0,279.4 L48.1,278.6 L48.3,277.9 L48.4,277.2 L48.5,276.4 L48.6,275.7 L48.8,274.9 L48.9,274.2 L49.0,273.5 L49.2,272.7 L49.3,272.0 L49.5,271.2 L49.6,270.5 L49.7,269.8 L49.9,269.0 L50.0,268.3 L50.2,267.6 L50.3,266.8 L50.5,266.1 L50.6,265.4 L50.8,264.6 L51.0,263.9 L51.1,263.2 L51.3,262.4 L51.4,261.7 L51.6,261.0 L51.7,260.2 L51.8,259.5 L52.0,258.8 L52.1,258.0 L52.3,257.3 L52.4,256.5 L52.5,255.8 L52.7,255.1 L52.8,254.3 L53.0,253.6 L53.1,252.9 L53.3,252.1 L53.4,251.4 L53.6,250.7 L53.8,249.9 L53.9,249.2 L54.1,248.5 L54.3,247.8 L54.5,247.0 L54.7,246.3 L54.9,245.6 L55.1,244.9 L55.3,244.1 L55.5,243.4 L55.8,242.7 L56.0,242.0 L56.2,241.3 L56.4,240.6 L56.6,239.8 L56.9,239.1 L57.1,238.4 L57.4,237.7 L57.6,237.0 L58.0,236.3 L58.3,235.7 L58.7,235.1 L59.2,234.4 L59.6,233.8 L60.1,233.3 L60.6,232.7 L61.1,232.2 L61.7,231.8 L62.3,231.4 L63.0,231.3 L63.7,231.4 L64.4,231.6 L65.0,232.0 L65.6,232.4 L66.2,232.9 L66.7,233.4 L67.2,234.0 L67.7,234.5 L68.2,235.1 L68.7,235.7 L69.1,236.3 L69.6,236.9 L70.0,237.5 L70.4,238.1 L70.8,238.8 L71.1,239.5 L71.5,240.1 L71.8,240.8 L72.1,241.5 L72.4,242.2 L72.7,242.8 L73.0,243.5 L73.2,244.2 L73.5,245.0 L73.7,245.7 L73.9,246.4 L74.1,247.1 L74.4,247.8 L74.6,248.5 L74.8,249.3 L75.0,250.0 L75.2,250.7 L75.5,251.4 L75.7,252.1 L76.0,252.8 L76.2,253.5 L76.5,254.2 L76.7,254.9 L77.0,255.6 L77.2,256.4 L77.5,257.1 L77.8,257.8 L78.0,258.5 L78.3,259.2 L78.5,259.9 L78.8,260.6 L79.1,261.3 L79.3,262.0 L79.6,262.7 L79.8,263.4 L80.1,264.1 L80.3,264.8 L80.6,265.5 L80.9,266.2 L81.1,266.9 L81.4,267.6 L81.6,268.3 L81.9,269.0 L82.2,269.7 L82.4,270.4 L82.7,271.1 L83.0,271.8 L83.3,272.5 L83.6,273.2 L83.9,273.9 L84.2,274.6 L84.4,275.3 L84.7,276.0 L85.0,276.6 L85.3,277.3 L85.6,278.0 L85.9,278.7 L86.3,279.4 L86.6,280.1 L86.9,280.8 L87.2,281.4 L87.5,282.1 L87.8,282.8 L88.1,283.5 L88.4,284.2 L88.7,284.8 L89.1,285.5 L89.4,286.2 L89.7,286.9 L90.0,287.6 L90.4,288.2 L90.7,288.9 L91.0,289.6 L91.4,290.2 L91.7,290.9 L92.1,291.6 L92.4,292.2 L92.8,292.9 L93.2,293.5 L93.5,294.2 L93.9,294.8 L94.3,295.5 L94.7,296.1 L95.1,296.8 L95.4,297.4 L95.8,298.1 L96.2,298.7 L96.6,299.3 L97.1,299.9 L97.5,300.6 L97.9,301.2 L98.3,301.8 L98.7,302.4 L99.2,303.0 L99.6,303.7 L100.0,304.3 L100.5,304.9 L100.9,305.5 L101.4,306.1 L101.8,306.7 L102.3,307.2 L102.8,307.8 L103.2,308.4 L103.7,309.0 L104.2,309.6 L104.7,310.2 L105.2,310.7 L105.6,311.3 L106.1,311.9 L106.6,312.4 L107.1,313.0 L107.6,313.6 L108.1,314.1 L108.6,314.7 L109.1,315.2 L109.7,315.8 L110.2,316.3 L110.7,316.9 L111.2,317.4 L111.7,317.9 L112.3,318.5 L112.8,319.0 L113.3,319.5 L113.9,320.0 L114.4,320.6 L115.0,321.1 L115.5,321.6 L116.1,322.1 L116.6,322.6 L117.2,323.1 L117.8,323.6 L118.3,324.0 L118.9,324.5 L119.5,325.0 L120.1,325.5 L120.6,326.0 L121.2,326.5 L121.7,327.0 L122.3,327.5 L122.8,328.0 L123.4,328.5 L123.9,329.1 L124.5,329.6 L125.0,330.1 L125.6,330.6 L126.1,331.1 L126.7,331.6 L127.3,332.0 L127.9,332.5 L128.5,332.9 L129.1,333.3 L129.8,333.7 L130.4,334.1 L131.0,334.5 L131.7,334.8 L132.4,335.2 L133.0,335.5 L133.7,335.9 L134.4,336.2 L135.1,336.5 L135.8,336.8 L136.4,337.1 L137.1,337.4 L137.8,337.7 L138.5,338.0 L139.2,338.3 L139.9,338.6 L140.6,338.9 L141.3,339.2 L142.0,339.5 L142.7,339.7 L143.4,340.0 L144.1,340.2 L144.8,340.5 L145.5,340.7 L146.2,341.0 L146.9,341.2 L147.6,341.4 L148.3,341.6 L149.1,341.8 L149.8,342.0 L150.5,342.2 L151.2,342.4 L152.0,342.6 L152.7,342.7 L153.4,342.9 L154.2,343.1 L154.9,343.2 L155.6,343.4 L156.4,343.6 L157.1,343.8 L157.8,343.9 L158.5,344.1 L159.3,344.3 L160.0,344.5 L160.7,344.7 L161.5,344.8 L162.2,345.0 L162.9,345.2 L163.6,345.4 L164.4,345.6 L165.1,345.7 L165.8,345.9 L166.6,346.1 L167.3,346.3 L168.0,346.5 L168.7,346.6 L169.3,346.8 L169.7,346.9 L169.7,346.9" fill="none" stroke="#5470ff" stroke-width="1.5" clip-path="url(#clip01)" stroke-linejoin="round"/>
<path d="M-4.6,348.1 L-4.1,348.1 L-3.5,348.1 L-2.7,348.1 L-2.0,348.1 L-1.2,348.1 L-0.5,348.1 L0.3,348.1 L1.0,348.1 L1.7,348.1 L2.5,348.1 L3.2,348.1 L4.0,348.1 L4.7,348.1 L5.5,348.1 L6.2,348.1 L7.0,348.1 L7.7,348.1 L8.5,348.1 L9.2,348.1 L10.0,348.1 L10.7,348.0 L11.5,348.0 L12.2,348.0 L13.0,348.0 L13.7,348.0 L14.5,348.0 L15.2,348.0 L16.0,348.0 L16.7,348.0 L17.5,348.0 L18.2,348.0 L19.0,348.0 L19.7,348.0 L20.5,347.9 L21.2,347.9 L22.0,347.9 L22.7,347.9 L23.5,347.9 L24.2,347.9 L25.0,347.9 L25.7,347.8 L26.5,347.8 L27.2,347.7 L28.0,347.7 L28.7,347.6 L29.5,347.6 L30.2,347.5 L31.0,347.4 L31.7,347.3 L32.5,347.2 L33.2,347.1 L33.9,346.9 L34.7,346.8 L35.4,346.6 L36.1,346.4 L36.8,346.1 L37.5,345.8 L38.1,345.4 L38.7,345.0 L39.3,344.5 L39.8,344.0 L40.2,343.4 L40.6,342.7 L41.0,342.1 L41.3,341.4 L41.6,340.7 L41.8,340.0 L42.0,339.3 L42.3,338.6 L42.4,337.8 L42.6,337.1 L42.8,336.4 L43.0,335.7 L43.2,334.9 L43.4,334.2 L43.6,333.5 L43.8,332.8 L44.0,332.0 L44.2,331.3 L44.4,330.6 L44.5,329.8 L44.7,329.1 L44.8,328.4 L45.0,327.6 L45.1,326.9 L45.2,326.2 L45.3,325.4 L45.5,324.7 L45.6,323.9 L45.7,323.2 L45.8,322.5 L46.0,321.7 L46.1,321.0 L46.2,320.2 L46.3,319.5 L46.5,318.8 L46.6,318.0 L46.8,317.3 L46.9,316.6 L47.0,315.8 L47.2,315.1 L47.3,314.3 L47.4,313.6 L47.5,312.9 L47.7,312.1 L47.8,311.4 L47.9,310.6 L48.0,309.9 L48.1,309.2 L48.2,308.4 L48.2,307.7 L48.3,306.9 L48.4,306.2 L48.5,305.4 L48.6,304.7 L48.7,303.9 L48.7,303.2 L48.8,302.4 L48.9,301.7 L49.0,301.0 L49.1,300.2 L49.2,299.5 L49.3,298.7 L49.4,298.0 L49.5,297.2 L49.6,296.5 L49.7,295.8 L49.8,295.0 L49.9,294.3 L50.0,293.5 L50.1,292.8 L50.2,292.0 L50.3,291.3 L50.4,290.6 L50.5,289.8 L50.6,289.1 L50.7,288.3 L50.8,287.6 L50.9,286.8 L51.0,286.1 L51.0,285.3 L51.1,284.6 L51.2,283.8 L51.3,283.1 L51.4,282.4 L51.5,281.6 L51.6,280.9 L51.7,280.1 L51.8,279.4 L51.9,278.6 L52.0,277.9 L52.1,277.2 L52.2,276.4 L52.3,275.7 L52.4,274.9 L52.5,274.2 L52.6,273.4 L52.7,272.7 L52.8,272.0 L52.9,271.2 L53.0,270.5 L53.1,269.7 L53.2,269.0 L53.3,268.2 L53.4,267.5 L53.5,266.7 L53.6,266.0 L53.7,265.3 L53.7,264.5 L53.8,263.8 L53.9,263.0 L54.0,262.3 L54.1,261.5 L54.2,260.8 L54.3,260.0 L54.4,259.3 L54.5,258.6 L54.6,257.8 L54.7,257.1 L54.8,256.3 L54.9,255.6 L55.0,254.8 L55.1,254.1 L55.2,253.4 L55.3,252.6 L55.4,251.9 L55.5,251.1 L55.7,250.4 L55.8,249.7 L56.0,248.9 L56.1,248.2 L56.3,247.5 L56.5,246.7 L56.7,246.0 L56.8,245.3 L57.0,244.6 L57.2,243.8 L57.4,243.1 L57.6,242.4 L57.8,241.6 L57.9,240.9 L58.1,240.2 L58.3,239.5 L58.5,238.7 L58.7,238.0 L58.9,237.3 L59.1,236.6 L59.4,235.9 L59.7,235.2 L60.0,234.5 L60.4,233.9 L60.8,233.2 L61.2,232.6 L61.7,232.1 L62.2,231.6 L62.8,231.4 L63.4,231.4 L63.9,231.8 L64.4,232.3 L64.8,232.9 L65.1,233.6 L65.5,234.3 L65.8,234.9 L66.1,235.6 L66.5,236.3 L66.8,236.9 L67.1,237.6 L67.5,238.3 L67.8,239.0 L68.0,239.7 L68.3,240.4 L68.6,241.1 L68.8,241.8 L69.0,242.5 L69.2,243.2 L69.4,244.0 L69.5,244.7 L69.7,245.4 L69.8,246.2 L69.9,246.9 L70.0,247.7 L70.2,248.4 L70.3,249.1 L70.4,249.9 L70.6,250.6 L70.7,251.3 L70.9,252.1 L71.0,252.8 L71.2,253.5 L71.4,254.3 L71.6,255.0 L71.8,255.7 L71.9,256.4 L72.1,257.2 L72.3,257.9 L72.5,258.6 L72.7,259.4 L72.9,260.1 L73.0,260.8 L73.2,261.5 L73.4,262.3 L73.5,263.0 L73.7,263.7 L73.9,264.5 L74.0,265.2 L74.2,265.9 L74.3,266.7 L74.5,267.4 L74.6,268.1 L74.8,268.9 L74.9,269.6 L75.1,270.3 L75.3,271.1 L75.4,271.8 L75.6,272.5 L75.7,273.3 L75.9,274.0 L76.0,274.7 L76.2,275.5 L76.3,276.2 L76.5,277.0 L76.6,277.7 L76.8,278.4 L76.9,279.2 L77.1,279.9 L77.2,280.6 L77.4,281.4 L77.5,282.1 L77.7,282.8 L77.8,283.6 L78.0,284.3 L78.1,285.0 L78.3,285.8 L78.4,286.5 L78.6,287.2 L78.8,288.0 L78.9,288.7 L79.1,289.4 L79.2,290.2 L79.4,290.9 L79.6,291.6 L79.8,292.3 L80.0,293.1 L80.1,293.8 L80.3,294.5 L80.5,295.3 L80.7,296.0 L80.9,296.7 L81.1,297.4 L81.3,298.1 L81.5,298.9 L81.7,299.6 L82.0,300.3 L82.2,301.0 L82.4,301.7 L82.6,302.5 L82.8,303.2 L83.1,303.9 L83.3,304.6 L83.5,305.3 L83.8,306.0 L84.0,306.7 L84.2,307.5 L84.4,308.2 L84.7,308.9 L84.9,309.6 L85.2,310.3 L85.4,311.0 L85.7,311.7 L86.0,312.4 L86.2,313.1 L86.5,313.8 L86.8,314.5 L87.1,315.2 L87.5,315.8 L87.8,316.5 L88.2,317.1 L88.6,317.8 L89.0,318.4 L89.4,319.0 L89.9,319.6 L90.4,320.2 L90.9,320.7 L91.4,321.3 L92.0,321.8 L92.5,322.2 L93.1,322.7 L93.8,323.1 L94.4,323.5 L95.0,323.9 L95.7,324.3 L96.3,324.6 L97.0,325.0 L97.7,325.3 L98.4,325.6 L99.0,325.9 L99.7,326.2 L100.4,326.5 L101.1,326.8 L101.8,327.1 L102.5,327.3 L103.2,327.6 L103.9,327.8 L104.6,328.1 L105.4,328.3 L106.1,328.5 L106.8,328.8 L107.5,329.0 L108.2,329.2 L108.9,329.5 L109.6,329.7 L110.4,329.9 L111.1,330.1 L111.8,330.4 L112.5,330.6 L113.2,330.9 L113.9,331.1 L114.6,331.4 L115.3,331.6 L116.0,331.8 L116.8,332.1 L117.5,332.3 L118.2,332.5 L118.9,332.8 L119.6,333.0 L120.3,333.2 L121.0,333.5 L121.8,333.7 L122.5,333.9 L123.2,334.1 L123.9,334.4 L124.6,334.6 L125.3,334.8 L126.0,335.0 L126.8,335.2 L127.5,335.5 L128.2,335.7 L128.9,335.9 L129.6,336.1 L130.4,336.3 L131.1,336.5 L131.8,336.7 L132.5,336.9 L133.2,337.1 L134.0,337.3 L134.7,337.5 L135.4,337.7 L136.2,337.9 L136.9,338.0 L137.6,338.2 L138.3,338.4 L139.1,338.5 L139.8,338.7 L140.5,338.9 L141.3,339.0 L142.0,339.2 L142.7,339.3 L143.5,339.5 L144.2,339.6 L144.9,339.8 L145.7,339.9 L146.4,340.1 L147.2,340.2 L147.9,340.3 L148.6,340.5 L149.4,340.6 L150.1,340.7 L150.8,340.9 L151.6,341.0 L152.3,341.1 L153.1,341.3 L153.8,341.4 L154.5,341.5 L155.3,341.7 L156.0,341.8 L156.8,341.9 L157.5,342.0 L158.2,342.2 L159.0,342.3 L159.7,342.4 L160.5,342.5 L161.2,342.7 L161.9,342.8 L162.7,342.9 L163.4,343.0 L164.2,343.1 L164.9,343.3 L165.6,343.4 L166.4,343.5 L167.1,343.6 L167.8,343.8 L168.6,343.9 L169.2,344.0 L169.6,344.0 L169.6,344.0" fill="none" stroke="#6aa527" stroke-width="1.5" clip-path="url(#clip01)" stroke-linejoin="round"/>
<path d="M173.9,146.9 L174.4,146.9 L175.0,146.9 L175.8,147.0 L176.5,147.0 L177.2,147.0 L178.0,147.0 L178.7,147.0 L179.5,147.0 L180.2,147.1 L181.0,147.1 L181.7,147.1 L182.5,147.1 L183.2,147.1 L184.0,147.1 L184.7,147.1 L185.5,147.1 L186.2,147.1 L187.0,147.1 L187.7,147.1 L188.5,147.1 L189.2,147.1 L190.0,147.1 L190.7,147.1 L191.5,147.1 L192.2,147.1 L193.0,147.1 L193.7,147.1 L194.5,147.1 L195.2,147.1 L196.0,147.1 L196.7,147.1 L197.5,147.1 L198.2,147.1 L199.0,147.0 L199.7,147.0 L200.5,146.9 L201.2,146.8 L202.0,146.7 L202.7,146.5 L203.4,146.3 L204.1,146.0 L204.7,145.6 L205.3,145.1 L205.8,144.6 L206.3,144.1 L206.8,143.5 L207.3,142.9 L207.8,142.3 L208.2,141.7 L208.6,141.1 L209.0,140.5 L209.4,139.8 L209.7,139.1 L210.1,138.5 L210.4,137.8 L210.7,137.1 L210.9,136.4 L211.2,135.7 L211.4,135.0 L211.6,134.2 L211.7,133.5 L211.9,132.8 L212.0,132.0 L212.2,131.3 L212.3,130.6 L212.4,129.8 L212.5,129.1 L212.7,128.4 L212.8,127.6 L212.9,126.9 L213.0,126.1 L213.1,125.4 L213.2,124.6 L213.3,123.9 L213.4,123.2 L213.5,122.4 L213.7,121.7 L213.8,120.9 L213.9,120.2 L214.0,119.5 L214.1,118.7 L214.3,118.0 L214.4,117.2 L214.5,116.5 L214.7,115.8 L214.8,115.0 L214.9,114.3 L215.0,113.5 L215.2,112.8 L215.3,112.1 L215.4,111.3 L215.5,110.6 L215.6,109.8 L215.7,109.1 L215.8,108.3 L215.9,107.6 L216.0,106.9 L216.1,106.1 L216.1,105.4 L216.2,104.6 L216.3,103.9 L216.4,103.1 L216.4,102.4 L216.5,101.6 L216.6,100.9 L216.6,100.1 L216.7,99.4 L216.7,98.6 L216.8,97.9 L216.9,97.2 L216.9,96.4 L217.0,95.7 L217.0,94.9 L217.1,94.2 L217.2,93.4 L217.2,92.7 L217.3,91.9 L217.4,91.2 L217.4,90.4 L217.5,89.7 L217.6,88.9 L217.7,88.2 L217.7,87.4 L217.8,86.7 L217.9,85.9 L217.9,85.2 L218.0,84.5 L218.1,83.7 L218.2,83.0 L218.3,82.2 L218.3,81.5 L218.4,80.7 L218.5,80.0 L218.6,79.2 L218.7,78.5 L218.8,77.7 L218.8,77.0 L218.9,76.3 L219.0,75.5 L219.1,74.8 L219.2,74.0 L219.3,73.3 L219.4,72.5 L219.5,71.8 L219.6,71.0 L219.7,70.3 L219.7,69.6 L219.8,68.8 L219.9,68.1 L220.0,67.3 L220.1,66.6 L220.2,65.8 L220.2,65.1 L220.3,64.3 L220.4,63.6 L220.5,62.8 L220.6,62.1 L220.7,61.4 L220.7,60.6 L220.8,59.9 L220.9,59.1 L221.0,58.4 L221.1,57.6 L221.2,56.9 L221.3,56.1 L221.3,55.4 L221.4,54.6 L221.5,53.9 L221.6,53.2 L221.7,52.4 L221.8,51.7 L221.9,50.9 L222.0,50.2 L222.0,49.4 L222.1,48.7 L222.2,47.9 L222.4,47.2 L222.5,46.5 L222.6,45.7 L222.7,45.0 L222.9,44.2 L223.0,43.5 L223.1,42.8 L223.3,42.0 L223.4,41.3 L223.6,40.6 L223.8,39.8 L223.9,39.1 L224.1,38.4 L224.3,37.7 L224.5,36.9 L224.7,36.2 L224.9,35.5 L225.2,34.8 L225.4,34.1 L225.6,33.4 L225.9,32.7 L226.2,32.0 L226.7,31.4 L227.1,30.8 L227.7,30.4 L228.3,30.1 L229.0,30.0 L229.6,30.1 L230.2,30.5 L230.8,30.9 L231.3,31.5 L231.8,32.0 L232.3,32.6 L232.7,33.2 L233.1,33.9 L233.4,34.5 L233.8,35.2 L234.1,35.9 L234.4,36.6 L234.7,37.3 L235.0,38.0 L235.3,38.6 L235.5,39.3 L235.8,40.0 L236.1,40.7 L236.3,41.5 L236.6,42.2 L236.8,42.9 L237.0,43.6 L237.2,44.3 L237.4,45.0 L237.7,45.8 L237.9,46.5 L238.1,47.2 L238.3,47.9 L238.5,48.6 L238.7,49.4 L238.9,50.1 L239.1,50.8 L239.2,51.5 L239.4,52.3 L239.6,53.0 L239.8,53.7 L239.9,54.5 L240.1,55.2 L240.3,55.9 L240.4,56.6 L240.6,57.4 L240.7,58.1 L240.9,58.9 L241.0,59.6 L241.2,60.3 L241.3,61.1 L241.4,61.8 L241.6,62.5 L241.7,63.3 L241.8,64.0 L242.0,64.8 L242.1,65.5 L242.2,66.2 L242.4,67.0 L242.5,67.7 L242.7,68.4 L242.8,69.2 L243.0,69.9 L243.2,70.6 L243.3,71.4 L243.5,72.1 L243.7,72.8 L243.9,73.5 L244.1,74.3 L244.3,75.0 L244.5,75.7 L244.7,76.4 L244.9,77.2 L245.1,77.9 L245.3,78.6 L245.5,79.3 L245.7,80.0 L245.9,80.8 L246.1,81.5 L246.3,82.2 L246.5,82.9 L246.7,83.7 L247.0,84.4 L247.2,85.1 L247.4,85.8 L247.6,86.5 L247.8,87.2 L248.0,88.0 L248.3,88.7 L248.5,89.4 L248.7,90.1 L248.9,90.8 L249.2,91.5 L249.4,92.3 L249.6,93.0 L249.8,93.7 L250.0,94.4 L250.2,95.1 L250.4,95.9 L250.6,96.6 L250.8,97.3 L251.0,98.0 L251.2,98.7 L251.4,99.5 L251.6,100.2 L251.9,100.9 L252.1,101.6 L252.3,102.3 L252.6,103.0 L252.9,103.7 L253.1,104.4 L253.5,105.1 L253.8,105.8 L254.1,106.4 L254.5,107.1 L254.9,107.8 L255.2,108.4 L255.6,109.1 L256.0,109.7 L256.4,110.3 L256.8,111.0 L257.2,111.6 L257.6,112.2 L258.0,112.8 L258.5,113.5 L258.9,114.1 L259.3,114.7 L259.8,115.3 L260.2,115.9 L260.7,116.5 L261.1,117.1 L261.6,117.7 L262.0,118.3 L262.5,118.9 L263.0,119.5 L263.4,120.0 L263.9,120.6 L264.4,121.2 L264.9,121.7 L265.4,122.3 L265.9,122.8 L266.5,123.4 L267.0,123.9 L267.6,124.4 L268.1,124.9 L268.7,125.4 L269.3,125.8 L269.9,126.3 L270.5,126.8 L271.1,127.2 L271.6,127.7 L272.3,128.1 L272.9,128.6 L273.5,129.0 L274.1,129.4 L274.7,129.9 L275.3,130.3 L276.0,130.7 L276.6,131.1 L277.2,131.5 L277.9,131.9 L278.5,132.3 L279.1,132.7 L279.8,133.0 L280.4,133.4 L281.1,133.8 L281.7,134.2 L282.4,134.5 L283.1,134.9 L283.7,135.2 L284.4,135.6 L285.0,136.0 L285.7,136.3 L286.4,136.6 L287.0,137.0 L287.7,137.3 L288.4,137.6 L289.1,138.0 L289.7,138.3 L290.4,138.6 L291.1,138.9 L291.8,139.1 L292.5,139.4 L293.2,139.7 L293.9,139.9 L294.6,140.2 L295.4,140.4 L296.1,140.6 L296.8,140.8 L297.5,140.9 L298.3,141.1 L299.0,141.3 L299.7,141.4 L300.5,141.6 L301.2,141.7 L301.9,141.8 L302.7,142.0 L303.4,142.2 L304.1,142.3 L304.9,142.5 L305.6,142.6 L306.3,142.8 L307.1,142.9 L307.8,143.1 L308.6,143.2 L309.3,143.3 L310.0,143.5 L310.8,143.6 L311.5,143.7 L312.2,143.8 L313.0,144.0 L313.7,144.1 L314.5,144.2 L315.2,144.3 L316.0,144.4 L316.7,144.5 L317.4,144.6 L318.2,144.6 L318.9,144.7 L319.7,144.8 L320.4,144.9 L321.2,144.9 L321.9,145.0 L322.7,145.1 L323.4,145.1 L324.2,145.2 L324.9,145.3 L325.7,145.4 L326.4,145.4 L327.1,145.5 L327.9,145.6 L328.6,145.7 L329.4,145.8 L330.1,145.9 L330.9,146.0 L331.6,146.1 L332.4,146.2 L333.1,146.2 L333.9,146.3 L334.6,146.4 L335.3,146.5 L336.1,146.6 L336.8,146.6 L337.5,146.7 L338.1,146.7 L338.3,146.8" fill="none" stroke="#c65cff" stroke-width="1.5" clip-path="url(#clip10)" stroke-linejoin="round"/>
<path d="M206.5,147.7 L206.8,147.3 L207.1,146.7 L207.5,146.1 L207.9,145.5 L208.3,144.8 L208.7,144.2 L209.1,143.6 L209.4,142.9 L209.6,142.2 L209.8,141.4 L209.9,140.7 L210.0,140.0 L210.2,139.2 L210.3,138.5 L210.4,137.7 L210.5,137.0 L210.7,136.3 L210.8,135.5 L211.0,134.8 L211.1,134.1 L211.2,133.3 L211.3,132.6 L211.5,131.8 L211.6,131.1 L211.7,130.4 L211.8,129.6 L211.9,128.9 L211.9,128.1 L212.0,127.4 L212.1,126.6 L212.2,125.9 L212.3,125.1 L212.3,124.4 L212.4,123.6 L212.5,122.9 L212.6,122.2 L212.7,121.4 L212.8,120.7 L212.9,119.9 L213.0,119.2 L213.1,118.4 L213.2,117.7 L213.3,117.0 L213.4,116.2 L213.5,115.5 L213.6,114.7 L213.7,114.0 L213.8,113.2 L213.9,112.5 L214.0,111.8 L214.1,111.0 L214.2,110.3 L214.3,109.5 L214.4,108.8 L214.4,108.0 L214.5,107.3 L214.6,106.5 L214.6,105.8 L214.7,105.0 L214.8,104.3 L214.8,103.5 L214.9,102.8 L214.9,102.1 L215.0,101.3 L215.1,100.6 L215.1,99.8 L215.2,99.1 L215.3,98.3 L215.3,97.6 L215.4,96.8 L215.5,96.1 L215.5,95.3 L215.6,94.6 L215.7,93.8 L215.7,93.1 L215.8,92.3 L215.9,91.6 L216.0,90.8 L216.0,90.1 L216.1,89.4 L216.2,88.6 L216.3,87.9 L216.3,87.1 L216.4,86.4 L216.5,85.6 L216.6,84.9 L216.6,84.1 L216.7,83.4 L216.8,82.6 L216.9,81.9 L217.0,81.1 L217.0,80.4 L217.1,79.7 L217.2,78.9 L217.3,78.2 L217.4,77.4 L217.5,76.7 L217.5,75.9 L217.6,75.2 L217.7,74.4 L217.8,73.7 L217.9,72.9 L218.0,72.2 L218.0,71.5 L218.1,70.7 L218.2,70.0 L218.3,69.2 L218.3,68.5 L218.4,67.7 L218.5,67.0 L218.6,66.2 L218.7,65.5 L218.7,64.7 L218.8,64.0 L218.9,63.3 L219.0,62.5 L219.1,61.8 L219.2,61.0 L219.3,60.3 L219.4,59.5 L219.5,58.8 L219.6,58.0 L219.7,57.3 L219.8,56.6 L219.9,55.8 L220.0,55.1 L220.1,54.3 L220.2,53.6 L220.4,52.9 L220.5,52.1 L220.6,51.4 L220.7,50.6 L220.9,49.9 L221.0,49.2 L221.1,48.4 L221.2,47.7 L221.3,46.9 L221.4,46.2 L221.6,45.5 L221.7,44.7 L221.8,44.0 L221.9,43.2 L222.0,42.5 L222.1,41.7 L222.3,41.0 L222.4,40.3 L222.5,39.5 L222.7,38.8 L222.9,38.1 L223.1,37.3 L223.3,36.6 L223.5,35.9 L223.7,35.2 L224.0,34.5 L224.3,33.8 L224.6,33.1 L224.9,32.5 L225.3,31.8 L225.8,31.3 L226.3,30.7 L226.9,30.3 L227.5,29.9 L228.1,29.8 L228.7,30.0 L229.3,30.4 L229.7,30.9 L230.1,31.6 L230.5,32.2 L230.8,32.9 L231.1,33.6 L231.4,34.3 L231.6,35.0 L231.9,35.7 L232.1,36.4 L232.3,37.1 L232.6,37.8 L232.8,38.6 L233.0,39.3 L233.2,40.0 L233.5,40.7 L233.7,41.4 L233.9,42.1 L234.2,42.8 L234.4,43.5 L234.7,44.2 L234.9,45.0 L235.2,45.7 L235.5,46.4 L235.7,47.1 L236.0,47.8 L236.2,48.5 L236.5,49.2 L236.7,49.9 L237.0,50.6 L237.3,51.3 L237.5,52.0 L237.8,52.7 L238.0,53.4 L238.2,54.1 L238.5,54.8 L238.7,55.5 L238.9,56.3 L239.2,57.0 L239.4,57.7 L239.6,58.4 L239.8,59.1 L240.1,59.8 L240.3,60.6 L240.5,61.3 L240.7,62.0 L240.9,62.7 L241.1,63.4 L241.4,64.2 L241.6,64.9 L241.8,65.6 L242.0,66.3 L242.2,67.0 L242.4,67.7 L242.6,68.5 L242.8,69.2 L243.1,69.9 L243.3,70.6 L243.5,71.3 L243.7,72.1 L243.9,72.8 L244.1,73.5 L244.3,74.2 L244.6,74.9 L244.8,75.6 L245.0,76.4 L245.3,77.1 L245.5,77.8 L245.8,78.5 L246.0,79.2 L246.3,79.9 L246.5,80.6 L246.8,81.3 L247.1,82.0 L247.3,82.7 L247.6,83.4 L247.9,84.1 L248.2,84.8 L248.5,85.5 L248.8,86.2 L249.1,86.9 L249.3,87.6 L249.6,88.2 L249.9,88.9 L250.2,89.6 L250.5,90.3 L250.8,91.0 L251.1,91.7 L251.5,92.4 L251.8,93.0 L252.1,93.7 L252.4,94.4 L252.7,95.1 L253.0,95.8 L253.4,96.4 L253.7,97.1 L254.0,97.8 L254.4,98.4 L254.7,99.1 L255.1,99.8 L255.4,100.4 L255.8,101.1 L256.1,101.8 L256.5,102.4 L256.8,103.1 L257.2,103.8 L257.5,104.4 L257.8,105.1 L258.2,105.8 L258.5,106.4 L258.9,107.1 L259.2,107.8 L259.6,108.4 L259.9,109.1 L260.3,109.7 L260.7,110.4 L261.0,111.0 L261.4,111.7 L261.8,112.3 L262.2,113.0 L262.6,113.6 L263.0,114.3 L263.4,114.9 L263.8,115.5 L264.2,116.2 L264.6,116.8 L265.0,117.4 L265.4,118.0 L265.9,118.6 L266.3,119.2 L266.8,119.8 L267.2,120.4 L267.7,121.0 L268.2,121.6 L268.7,122.1 L269.2,122.7 L269.7,123.2 L270.3,123.7 L270.8,124.3 L271.3,124.8 L271.9,125.3 L272.4,125.8 L273.0,126.3 L273.5,126.8 L274.1,127.3 L274.7,127.8 L275.3,128.2 L275.9,128.7 L276.5,129.2 L277.1,129.6 L277.7,130.1 L278.3,130.5 L278.9,130.9 L279.5,131.3 L280.1,131.8 L280.8,132.2 L281.4,132.6 L282.0,133.0 L282.7,133.3 L283.3,133.7 L284.0,134.1 L284.6,134.5 L285.3,134.8 L285.9,135.2 L286.6,135.5 L287.3,135.9 L287.9,136.2 L288.6,136.6 L289.3,136.9 L290.0,137.2 L290.6,137.6 L291.3,137.9 L292.0,138.2 L292.7,138.5 L293.4,138.8 L294.1,139.1 L294.7,139.4 L295.4,139.7 L296.1,139.9 L296.8,140.2 L297.5,140.5 L298.2,140.7 L299.0,141.0 L299.7,141.2 L300.4,141.4 L301.1,141.6 L301.8,141.8 L302.6,142.0 L303.3,142.2 L304.0,142.3 L304.8,142.5 L305.5,142.6 L306.2,142.8 L307.0,142.9 L307.7,143.0 L308.4,143.2 L309.2,143.3 L309.9,143.4 L310.7,143.6 L311.4,143.7 L312.1,143.8 L312.9,143.9 L313.6,144.1 L314.4,144.2 L315.1,144.3 L315.8,144.4 L316.6,144.5 L317.3,144.5 L318.1,144.6 L318.8,144.7 L319.6,144.8 L320.3,144.8 L321.1,144.9 L321.8,145.0 L322.6,145.1 L323.3,145.1 L324.1,145.2 L324.8,145.3 L325.5,145.4 L326.3,145.4 L327.0,145.5 L327.8,145.6 L328.5,145.7 L329.3,145.8 L330.0,145.9 L330.8,146.0 L331.5,146.1 L332.2,146.1 L333.0,146.2 L333.7,146.3 L334.5,146.4 L335.2,146.5 L336.0,146.5 L336.7,146.6 L337.4,146.7 L338.0,146.7 L338.3,146.8" fill="none" stroke="#000" stroke-width="1.6" stroke-dasharray="5.8,5.9" stroke-dashoffset="1.07" clip-path="url(#clip10)" stroke-linejoin="round"/>
<path d="M346.8,147.0 L347.3,147.0 L347.9,147.0 L348.7,147.0 L349.4,147.0 L350.2,147.0 L350.9,147.0 L351.7,147.0 L352.4,147.0 L353.1,147.0 L353.9,147.0 L354.6,147.0 L355.4,147.0 L356.1,147.0 L356.9,147.0 L357.6,147.0 L358.4,147.0 L359.1,147.0 L359.9,147.0 L360.6,147.0 L361.4,147.0 L362.1,147.0 L362.9,147.0 L363.6,147.0 L364.4,146.9 L365.1,146.9 L365.9,146.9 L366.6,146.9 L367.4,146.9 L368.1,146.8 L368.9,146.8 L369.6,146.8 L370.4,146.7 L371.1,146.7 L371.9,146.6 L372.6,146.5 L373.4,146.5 L374.1,146.4 L374.9,146.3 L375.6,146.3 L376.4,146.2 L377.1,146.1 L377.9,146.0 L378.6,145.9 L379.3,145.7 L380.1,145.5 L380.8,145.3 L381.5,145.1 L382.2,144.8 L382.9,144.5 L383.5,144.1 L384.1,143.7 L384.7,143.2 L385.2,142.7 L385.7,142.1 L386.1,141.5 L386.5,140.9 L386.9,140.2 L387.2,139.5 L387.5,138.8 L387.7,138.1 L388.0,137.4 L388.2,136.7 L388.4,136.0 L388.6,135.3 L388.8,134.6 L389.0,133.8 L389.2,133.1 L389.3,132.4 L389.5,131.6 L389.6,130.9 L389.8,130.2 L389.9,129.4 L390.1,128.7 L390.2,128.0 L390.4,127.2 L390.5,126.5 L390.7,125.7 L390.8,125.0 L390.9,124.3 L391.1,123.5 L391.2,122.8 L391.4,122.1 L391.5,121.3 L391.7,120.6 L391.8,119.9 L392.0,119.1 L392.1,118.4 L392.2,117.7 L392.4,116.9 L392.5,116.2 L392.7,115.4 L392.8,114.7 L393.0,114.0 L393.1,113.2 L393.2,112.5 L393.4,111.8 L393.5,111.0 L393.7,110.3 L393.8,109.6 L394.0,108.8 L394.1,108.1 L394.3,107.4 L394.4,106.6 L394.6,105.9 L394.7,105.2 L394.9,104.4 L395.0,103.7 L395.2,102.9 L395.3,102.2 L395.5,101.5 L395.6,100.7 L395.7,100.0 L395.9,99.3 L396.0,98.5 L396.1,97.8 L396.2,97.0 L396.3,96.3 L396.4,95.6 L396.5,94.8 L396.6,94.1 L396.7,93.3 L396.8,92.6 L397.0,91.8 L397.1,91.1 L397.2,90.4 L397.3,89.6 L397.4,88.9 L397.5,88.1 L397.6,87.4 L397.7,86.6 L397.8,85.9 L397.9,85.2 L398.0,84.4 L398.1,83.7 L398.2,82.9 L398.3,82.2 L398.5,81.4 L398.6,80.7 L398.7,80.0 L398.8,79.2 L398.9,78.5 L399.0,77.7 L399.2,77.0 L399.3,76.3 L399.4,75.5 L399.5,74.8 L399.6,74.0 L399.8,73.3 L399.9,72.6 L400.0,71.8 L400.1,71.1 L400.3,70.3 L400.4,69.6 L400.5,68.9 L400.7,68.1 L400.8,67.4 L400.9,66.6 L401.1,65.9 L401.2,65.2 L401.3,64.4 L401.5,63.7 L401.6,63.0 L401.7,62.2 L401.9,61.5 L402.0,60.8 L402.2,60.0 L402.3,59.3 L402.5,58.5 L402.6,57.8 L402.8,57.1 L403.0,56.4 L403.1,55.6 L403.3,54.9 L403.5,54.2 L403.7,53.4 L403.8,52.7 L404.0,52.0 L404.2,51.3 L404.4,50.5 L404.6,49.8 L404.8,49.1 L405.0,48.3 L405.2,47.6 L405.4,46.9 L405.6,46.2 L405.7,45.5 L405.9,44.7 L406.1,44.0 L406.3,43.3 L406.5,42.5 L406.7,41.8 L406.9,41.1 L407.1,40.4 L407.3,39.7 L407.5,38.9 L407.7,38.2 L408.0,37.5 L408.2,36.8 L408.4,36.1 L408.7,35.4 L408.9,34.7 L409.2,34.0 L409.5,33.3 L409.8,32.6 L410.2,32.0 L410.7,31.4 L411.2,30.9 L411.8,30.5 L412.5,30.2 L413.2,30.0 L413.9,29.9 L414.6,29.9 L415.3,30.1 L416.0,30.5 L416.6,30.9 L417.1,31.4 L417.6,31.9 L418.2,32.5 L418.6,33.0 L419.0,33.7 L419.4,34.3 L419.8,35.0 L420.1,35.6 L420.4,36.3 L420.8,37.0 L421.1,37.7 L421.4,38.3 L421.7,39.0 L422.1,39.7 L422.4,40.3 L422.7,41.0 L423.1,41.7 L423.4,42.4 L423.7,43.1 L424.0,43.7 L424.3,44.4 L424.6,45.1 L424.9,45.8 L425.1,46.5 L425.4,47.2 L425.7,47.9 L425.9,48.6 L426.2,49.3 L426.4,50.0 L426.6,50.8 L426.9,51.5 L427.1,52.2 L427.3,52.9 L427.6,53.6 L427.8,54.3 L428.0,55.0 L428.2,55.8 L428.4,56.5 L428.7,57.2 L428.9,57.9 L429.1,58.6 L429.3,59.4 L429.5,60.1 L429.7,60.8 L429.9,61.5 L430.1,62.2 L430.3,63.0 L430.5,63.7 L430.7,64.4 L430.9,65.1 L431.2,65.8 L431.4,66.6 L431.6,67.3 L431.8,68.0 L432.0,68.7 L432.3,69.4 L432.5,70.1 L432.7,70.9 L433.0,71.6 L433.2,72.3 L433.5,73.0 L433.8,73.7 L434.1,74.4 L434.3,75.1 L434.6,75.7 L434.9,76.4 L435.2,77.1 L435.5,77.8 L435.8,78.5 L436.1,79.2 L436.5,79.9 L436.8,80.5 L437.1,81.2 L437.4,81.9 L437.8,82.6 L438.1,83.2 L438.5,83.9 L438.8,84.5 L439.2,85.2 L439.5,85.9 L439.9,86.5 L440.3,87.2 L440.7,87.8 L441.1,88.4 L441.5,89.1 L441.9,89.7 L442.3,90.3 L442.7,90.9 L443.1,91.6 L443.6,92.2 L444.0,92.8 L444.4,93.4 L444.9,94.0 L445.3,94.6 L445.8,95.2 L446.2,95.8 L446.7,96.4 L447.1,97.0 L447.6,97.6 L448.1,98.2 L448.5,98.8 L449.0,99.3 L449.5,99.9 L450.0,100.5 L450.4,101.1 L450.9,101.7 L451.4,102.2 L451.9,102.8 L452.3,103.4 L452.8,104.0 L453.3,104.6 L453.8,105.2 L454.2,105.7 L454.7,106.3 L455.2,106.9 L455.7,107.5 L456.1,108.0 L456.6,108.6 L457.1,109.2 L457.6,109.7 L458.1,110.3 L458.6,110.9 L459.1,111.4 L459.7,111.9 L460.2,112.5 L460.7,113.0 L461.2,113.6 L461.7,114.1 L462.3,114.6 L462.8,115.1 L463.4,115.7 L463.9,116.2 L464.4,116.7 L465.0,117.2 L465.5,117.8 L466.1,118.3 L466.6,118.8 L467.1,119.3 L467.7,119.8 L468.2,120.3 L468.8,120.9 L469.3,121.4 L469.9,121.9 L470.4,122.4 L471.0,122.9 L471.5,123.4 L472.1,123.9 L472.6,124.4 L473.2,124.9 L473.7,125.4 L474.3,125.9 L474.9,126.4 L475.5,126.9 L476.0,127.4 L476.6,127.9 L477.2,128.3 L477.7,128.8 L478.3,129.3 L478.9,129.8 L479.5,130.3 L480.0,130.7 L480.6,131.2 L481.2,131.7 L481.8,132.1 L482.4,132.6 L483.0,133.0 L483.6,133.4 L484.3,133.9 L484.9,134.3 L485.5,134.6 L486.2,135.0 L486.8,135.4 L487.5,135.8 L488.1,136.2 L488.8,136.5 L489.4,136.9 L490.1,137.2 L490.8,137.6 L491.4,137.9 L492.1,138.2 L492.8,138.5 L493.5,138.8 L494.2,139.1 L494.9,139.4 L495.6,139.7 L496.3,139.9 L497.0,140.1 L497.7,140.4 L498.4,140.6 L499.2,140.8 L499.9,141.0 L500.6,141.2 L501.3,141.4 L502.0,141.6 L502.8,141.8 L503.5,142.0 L504.2,142.2 L505.0,142.4 L505.7,142.5 L506.4,142.7 L507.2,142.8 L507.9,143.0 L508.6,143.1 L509.4,143.2 L510.1,143.3 L510.6,143.3 L510.9,143.4" fill="none" stroke="#c65cff" stroke-width="1.5" clip-path="url(#clip20)" stroke-linejoin="round"/>
<path d="M386.2,147.6 L386.6,147.3 L387.1,146.9 L387.7,146.4 L388.3,146.0 L388.8,145.5 L389.4,145.0 L389.9,144.4 L390.3,143.8 L390.5,143.1 L390.7,142.4 L390.9,141.7 L391.0,140.9 L391.2,140.2 L391.3,139.5 L391.4,138.7 L391.6,138.0 L391.7,137.3 L391.9,136.5 L392.0,135.8 L392.2,135.1 L392.3,134.3 L392.5,133.6 L392.6,132.9 L392.8,132.1 L392.9,131.4 L393.0,130.6 L393.2,129.9 L393.3,129.2 L393.4,128.4 L393.5,127.7 L393.6,126.9 L393.7,126.2 L393.8,125.4 L393.9,124.7 L394.0,124.0 L394.1,123.2 L394.2,122.5 L394.3,121.7 L394.4,121.0 L394.5,120.2 L394.6,119.5 L394.7,118.7 L394.7,118.0 L394.8,117.3 L394.9,116.5 L395.0,115.8 L395.1,115.0 L395.2,114.3 L395.2,113.5 L395.3,112.8 L395.4,112.0 L395.5,111.3 L395.6,110.5 L395.7,109.8 L395.7,109.1 L395.8,108.3 L395.9,107.6 L396.0,106.8 L396.1,106.1 L396.1,105.3 L396.2,104.6 L396.3,103.8 L396.4,103.1 L396.4,102.3 L396.5,101.6 L396.6,100.9 L396.7,100.1 L396.8,99.4 L396.8,98.6 L396.9,97.9 L397.0,97.1 L397.1,96.4 L397.1,95.6 L397.2,94.9 L397.3,94.1 L397.4,93.4 L397.4,92.6 L397.5,91.9 L397.6,91.2 L397.6,90.4 L397.7,89.7 L397.8,88.9 L397.9,88.2 L397.9,87.4 L398.0,86.7 L398.1,85.9 L398.2,85.2 L398.3,84.4 L398.4,83.7 L398.4,82.9 L398.5,82.2 L398.6,81.5 L398.7,80.7 L398.8,80.0 L398.9,79.2 L399.0,78.5 L399.1,77.7 L399.1,77.0 L399.2,76.2 L399.3,75.5 L399.4,74.8 L399.5,74.0 L399.6,73.3 L399.7,72.5 L399.8,71.8 L399.9,71.0 L400.0,70.3 L400.2,69.6 L400.3,68.8 L400.4,68.1 L400.5,67.3 L400.6,66.6 L400.7,65.9 L400.8,65.1 L401.0,64.4 L401.1,63.6 L401.2,62.9 L401.3,62.2 L401.4,61.4 L401.6,60.7 L401.7,59.9 L401.8,59.2 L402.0,58.5 L402.1,57.7 L402.2,57.0 L402.4,56.2 L402.5,55.5 L402.6,54.8 L402.8,54.0 L402.9,53.3 L403.1,52.6 L403.2,51.8 L403.4,51.1 L403.6,50.4 L403.8,49.7 L404.1,48.9 L404.3,48.2 L404.5,47.5 L404.7,46.8 L404.9,46.1 L405.1,45.3 L405.2,44.6 L405.4,43.9 L405.5,43.1 L405.7,42.4 L405.8,41.7 L406.0,40.9 L406.2,40.2 L406.4,39.5 L406.6,38.8 L406.8,38.0 L407.0,37.3 L407.2,36.6 L407.4,35.9 L407.7,35.2 L408.0,34.5 L408.3,33.8 L408.6,33.1 L408.9,32.5 L409.3,31.8 L409.8,31.3 L410.3,30.7 L410.9,30.3 L411.5,30.0 L412.2,29.9 L412.9,30.1 L413.5,30.4 L414.2,30.8 L414.7,31.3 L415.3,31.8 L415.7,32.4 L416.2,33.0 L416.6,33.6 L416.9,34.3 L417.2,34.9 L417.5,35.6 L417.8,36.3 L418.1,37.0 L418.3,37.7 L418.6,38.4 L418.9,39.1 L419.2,39.8 L419.5,40.5 L419.8,41.2 L420.0,41.9 L420.3,42.6 L420.5,43.3 L420.8,44.0 L421.0,44.7 L421.2,45.5 L421.4,46.2 L421.5,46.9 L421.7,47.6 L421.9,48.4 L422.1,49.1 L422.3,49.8 L422.5,50.5 L422.8,51.2 L423.0,51.9 L423.4,52.6 L423.7,53.3 L424.0,54.0 L424.3,54.6 L424.7,55.3 L425.0,56.0 L425.3,56.7 L425.6,57.4 L425.9,58.1 L426.2,58.7 L426.5,59.4 L426.7,60.1 L427.0,60.8 L427.3,61.5 L427.6,62.2 L427.9,62.9 L428.2,63.6 L428.5,64.3 L428.8,65.0 L429.1,65.7 L429.4,66.3 L429.7,67.0 L429.9,67.7 L430.2,68.4 L430.5,69.1 L430.8,69.8 L431.1,70.5 L431.3,71.2 L431.6,71.9 L431.9,72.6 L432.1,73.3 L432.4,74.0 L432.6,74.7 L432.8,75.5 L433.1,76.2 L433.3,76.9 L433.5,77.6 L433.7,78.3 L434.0,79.0 L434.2,79.8 L434.4,80.5 L434.6,81.2 L434.9,81.9 L435.1,82.6 L435.3,83.3 L435.6,84.0 L435.8,84.7 L436.1,85.4 L436.3,86.1 L436.6,86.8 L436.9,87.6 L437.1,88.3 L437.4,89.0 L437.7,89.7 L437.9,90.4 L438.2,91.1 L438.5,91.7 L438.8,92.4 L439.1,93.1 L439.3,93.8 L439.6,94.5 L439.9,95.2 L440.3,95.9 L440.6,96.6 L440.9,97.2 L441.2,97.9 L441.6,98.6 L441.9,99.3 L442.3,99.9 L442.6,100.6 L443.0,101.2 L443.4,101.9 L443.8,102.5 L444.2,103.1 L444.6,103.8 L445.0,104.4 L445.4,105.0 L445.8,105.7 L446.2,106.3 L446.6,106.9 L447.0,107.5 L447.4,108.2 L447.8,108.8 L448.2,109.4 L448.6,110.1 L449.0,110.7 L449.4,111.4 L449.8,112.0 L450.2,112.7 L450.6,113.3 L451.0,113.9 L451.3,114.6 L451.7,115.2 L452.1,115.8 L452.5,116.5 L453.0,117.1 L453.4,117.7 L453.8,118.4 L454.2,119.0 L454.6,119.6 L455.1,120.2 L455.5,120.8 L455.9,121.4 L456.4,122.0 L456.8,122.6 L457.3,123.2 L457.7,123.9 L458.2,124.4 L458.6,125.0 L459.1,125.6 L459.6,126.2 L460.0,126.8 L460.5,127.3 L461.1,127.9 L461.6,128.4 L462.1,128.9 L462.7,129.4 L463.3,129.9 L463.9,130.3 L464.5,130.8 L465.1,131.2 L465.7,131.6 L466.3,132.1 L467.0,132.5 L467.6,132.9 L468.3,133.2 L468.9,133.6 L469.5,134.0 L470.2,134.4 L470.9,134.7 L471.5,135.1 L472.2,135.5 L472.8,135.8 L473.5,136.2 L474.1,136.5 L474.8,136.9 L475.5,137.2 L476.1,137.6 L476.8,137.9 L477.5,138.2 L478.2,138.6 L478.8,138.9 L479.5,139.2 L480.2,139.5 L480.9,139.8 L481.6,140.1 L482.3,140.3 L483.0,140.6 L483.7,140.9 L484.4,141.1 L485.1,141.4 L485.8,141.6 L486.5,141.9 L487.2,142.1 L487.9,142.4 L488.7,142.6 L489.4,142.8 L490.1,143.0 L490.8,143.2 L491.5,143.4 L492.3,143.5 L493.0,143.7 L493.8,143.8 L494.5,143.9 L495.2,144.0 L496.0,144.1 L496.7,144.2 L497.5,144.2 L498.2,144.3 L499.0,144.4 L499.7,144.5 L500.5,144.5 L501.2,144.6 L502.0,144.6 L502.7,144.7 L503.5,144.8 L504.2,144.8 L505.0,144.9 L505.7,145.0 L506.4,145.0 L507.2,145.1 L507.9,145.2 L508.7,145.3 L509.4,145.3 L510.1,145.4 L510.7,145.4 L511.0,145.5" fill="none" stroke="#000" stroke-width="1.6" stroke-dasharray="5.8,5.9" stroke-dashoffset="2.17" clip-path="url(#clip20)" stroke-linejoin="round"/>
<path d="M173.9,348.0 L174.4,348.0 L175.0,348.0 L175.8,348.0 L176.5,348.0 L177.2,348.0 L178.0,348.0 L178.7,348.0 L179.5,348.0 L180.2,348.0 L181.0,347.9 L181.7,347.9 L182.5,347.9 L183.2,347.9 L184.0,347.9 L184.7,347.9 L185.5,347.9 L186.2,347.9 L187.0,347.9 L187.7,347.9 L188.5,347.9 L189.2,347.8 L190.0,347.8 L190.7,347.8 L191.5,347.8 L192.2,347.8 L193.0,347.8 L193.7,347.8 L194.5,347.8 L195.2,347.7 L196.0,347.7 L196.7,347.7 L197.5,347.7 L198.2,347.7 L199.0,347.6 L199.7,347.6 L200.5,347.6 L201.2,347.5 L202.0,347.4 L202.7,347.4 L203.5,347.3 L204.2,347.2 L205.0,347.1 L205.7,346.9 L206.4,346.8 L207.2,346.6 L207.9,346.5 L208.6,346.4 L209.4,346.2 L210.1,346.0 L210.8,345.9 L211.6,345.7 L212.3,345.6 L213.0,345.4 L213.8,345.3 L214.5,345.1 L215.2,344.9 L216.0,344.8 L216.7,344.6 L217.4,344.4 L218.2,344.2 L218.9,344.0 L219.6,343.8 L220.3,343.6 L221.1,343.4 L221.8,343.2 L222.5,343.0 L223.2,342.8 L223.9,342.6 L224.6,342.4 L225.4,342.1 L226.1,341.9 L226.7,341.6 L227.4,341.2 L228.1,340.9 L228.7,340.4 L229.2,339.9 L229.8,339.4 L230.3,338.9 L230.7,338.3 L231.2,337.7 L231.6,337.1 L232.0,336.4 L232.3,335.7 L232.5,335.0 L232.8,334.3 L233.0,333.6 L233.2,332.9 L233.4,332.2 L233.6,331.4 L233.8,330.7 L233.9,330.0 L234.1,329.2 L234.3,328.5 L234.4,327.8 L234.6,327.0 L234.7,326.3 L234.8,325.6 L235.0,324.8 L235.1,324.1 L235.2,323.3 L235.3,322.6 L235.4,321.9 L235.5,321.1 L235.6,320.4 L235.7,319.6 L235.8,318.9 L235.9,318.1 L236.0,317.4 L236.1,316.7 L236.2,315.9 L236.3,315.2 L236.4,314.4 L236.5,313.7 L236.6,312.9 L236.7,312.2 L236.8,311.5 L236.9,310.7 L237.0,310.0 L237.1,309.2 L237.1,308.5 L237.2,307.7 L237.3,307.0 L237.4,306.2 L237.5,305.5 L237.6,304.8 L237.8,304.0 L237.9,303.3 L238.0,302.5 L238.1,301.8 L238.2,301.1 L238.4,300.3 L238.5,299.6 L238.6,298.8 L238.6,298.1 L238.7,297.3 L238.8,296.6 L238.8,295.8 L238.9,295.1 L238.9,294.3 L239.0,293.6 L239.0,292.9 L239.1,292.1 L239.1,291.4 L239.1,290.6 L239.2,289.9 L239.2,289.1 L239.2,288.4 L239.3,287.6 L239.3,286.9 L239.4,286.1 L239.4,285.4 L239.5,284.6 L239.6,283.9 L239.6,283.1 L239.7,282.4 L239.8,281.6 L239.9,280.9 L240.0,280.1 L240.1,279.4 L240.2,278.7 L240.4,277.9 L240.5,277.2 L240.6,276.4 L240.7,275.7 L240.9,275.0 L241.0,274.2 L241.1,273.5 L241.3,272.7 L241.4,272.0 L241.5,271.3 L241.6,270.5 L241.7,269.8 L241.8,269.0 L241.9,268.3 L242.0,267.6 L242.1,266.8 L242.2,266.1 L242.4,265.3 L242.5,264.6 L242.6,263.8 L242.7,263.1 L242.8,262.4 L242.9,261.6 L243.0,260.9 L243.1,260.1 L243.2,259.4 L243.3,258.6 L243.4,257.9 L243.5,257.2 L243.6,256.4 L243.7,255.7 L243.8,254.9 L243.9,254.2 L244.0,253.4 L244.1,252.7 L244.2,252.0 L244.3,251.2 L244.4,250.5 L244.5,249.7 L244.7,249.0 L244.8,248.3 L244.9,247.5 L245.1,246.8 L245.2,246.0 L245.3,245.3 L245.5,244.6 L245.6,243.8 L245.7,243.1 L245.8,242.3 L246.0,241.6 L246.1,240.9 L246.3,240.1 L246.4,239.4 L246.6,238.7 L246.8,237.9 L247.0,237.2 L247.2,236.5 L247.4,235.8 L247.7,235.1 L247.9,234.4 L248.2,233.7 L248.5,233.0 L248.9,232.4 L249.3,231.8 L249.8,231.3 L250.4,230.9 L251.1,230.6 L251.7,230.6 L252.3,230.9 L252.9,231.3 L253.4,231.9 L253.8,232.5 L254.3,233.1 L254.7,233.7 L255.1,234.3 L255.5,235.0 L255.9,235.6 L256.3,236.3 L256.6,236.9 L257.0,237.5 L257.4,238.2 L257.8,238.8 L258.1,239.5 L258.5,240.2 L258.8,240.8 L259.1,241.5 L259.4,242.2 L259.7,242.9 L260.0,243.6 L260.2,244.3 L260.5,245.0 L260.7,245.7 L261.0,246.4 L261.2,247.1 L261.5,247.8 L261.8,248.5 L262.0,249.2 L262.3,250.0 L262.5,250.7 L262.8,251.4 L263.0,252.1 L263.3,252.8 L263.5,253.5 L263.8,254.2 L264.1,254.9 L264.3,255.6 L264.6,256.3 L264.9,257.0 L265.2,257.7 L265.4,258.4 L265.7,259.1 L266.0,259.8 L266.3,260.5 L266.5,261.2 L266.8,261.9 L267.1,262.6 L267.4,263.3 L267.6,264.0 L267.9,264.7 L268.2,265.3 L268.5,266.0 L268.7,266.7 L269.0,267.4 L269.3,268.1 L269.6,268.8 L269.9,269.5 L270.2,270.2 L270.5,270.9 L270.8,271.6 L271.1,272.3 L271.4,273.0 L271.7,273.6 L272.0,274.3 L272.3,275.0 L272.6,275.7 L272.9,276.4 L273.3,277.0 L273.6,277.7 L273.9,278.4 L274.2,279.1 L274.6,279.7 L274.9,280.4 L275.2,281.1 L275.5,281.8 L275.8,282.5 L276.2,283.1 L276.5,283.8 L276.8,284.5 L277.1,285.2 L277.4,285.9 L277.7,286.6 L278.0,287.3 L278.3,287.9 L278.6,288.6 L278.8,289.3 L279.1,290.0 L279.4,290.7 L279.7,291.4 L280.0,292.1 L280.3,292.8 L280.6,293.5 L281.0,294.1 L281.3,294.8 L281.7,295.4 L282.1,296.1 L282.5,296.7 L282.9,297.3 L283.3,297.9 L283.8,298.6 L284.2,299.2 L284.7,299.7 L285.2,300.3 L285.6,300.9 L286.1,301.5 L286.5,302.1 L287.0,302.7 L287.4,303.3 L287.9,303.9 L288.3,304.5 L288.8,305.1 L289.2,305.7 L289.7,306.3 L290.1,306.9 L290.6,307.5 L291.0,308.1 L291.5,308.7 L292.0,309.3 L292.4,309.9 L292.9,310.5 L293.4,311.0 L293.9,311.6 L294.3,312.2 L294.8,312.8 L295.3,313.3 L295.8,313.9 L296.3,314.5 L296.8,315.0 L297.3,315.6 L297.8,316.1 L298.3,316.7 L298.8,317.2 L299.4,317.8 L299.9,318.3 L300.4,318.8 L300.9,319.4 L301.4,319.9 L302.0,320.5 L302.5,321.0 L303.0,321.5 L303.6,322.0 L304.1,322.6 L304.6,323.1 L305.2,323.6 L305.7,324.1 L306.2,324.7 L306.8,325.2 L307.3,325.7 L307.9,326.2 L308.4,326.7 L309.0,327.2 L309.5,327.7 L310.1,328.2 L310.7,328.7 L311.2,329.2 L311.8,329.7 L312.4,330.2 L313.0,330.6 L313.6,331.1 L314.2,331.5 L314.8,332.0 L315.3,332.5 L315.9,332.9 L316.6,333.4 L317.2,333.8 L317.8,334.2 L318.4,334.7 L319.0,335.1 L319.6,335.5 L320.3,335.9 L320.9,336.3 L321.5,336.7 L322.2,337.1 L322.8,337.5 L323.5,337.9 L324.1,338.2 L324.8,338.6 L325.4,338.9 L326.1,339.3 L326.8,339.7 L327.4,340.0 L328.1,340.3 L328.8,340.6 L329.5,341.0 L330.1,341.3 L330.8,341.5 L331.5,341.8 L332.2,342.1 L332.9,342.3 L333.6,342.6 L334.4,342.8 L335.1,343.0 L335.8,343.3 L336.5,343.5 L337.2,343.7 L337.8,343.8 L338.3,343.9 L338.3,343.9" fill="none" stroke="#c65cff" stroke-width="1.5" clip-path="url(#clip11)" stroke-linejoin="round"/>
<path d="M223.0,348.5 L223.2,348.1 L223.5,347.5 L223.8,346.8 L224.1,346.1 L224.4,345.4 L224.7,344.8 L225.0,344.1 L225.3,343.4 L225.7,342.7 L226.0,342.1 L226.4,341.4 L226.8,340.8 L227.2,340.2 L227.5,339.5 L227.9,338.9 L228.3,338.2 L228.6,337.5 L229.0,336.9 L229.3,336.2 L229.7,335.5 L229.9,334.8 L230.2,334.1 L230.4,333.4 L230.5,332.7 L230.6,331.9 L230.7,331.2 L230.8,330.4 L230.8,329.7 L230.9,329.0 L231.0,328.2 L231.0,327.5 L231.1,326.7 L231.2,326.0 L231.2,325.2 L231.3,324.5 L231.4,323.7 L231.5,323.0 L231.6,322.2 L231.6,321.5 L231.7,320.7 L231.9,320.0 L232.0,319.3 L232.1,318.5 L232.2,317.8 L232.4,317.1 L232.5,316.3 L232.7,315.6 L232.8,314.8 L233.0,314.1 L233.1,313.4 L233.2,312.6 L233.3,311.9 L233.4,311.1 L233.5,310.4 L233.6,309.7 L233.7,308.9 L233.8,308.2 L233.9,307.4 L234.0,306.7 L234.1,305.9 L234.2,305.2 L234.2,304.4 L234.3,303.7 L234.4,303.0 L234.5,302.2 L234.6,301.5 L234.7,300.7 L234.8,300.0 L235.0,299.2 L235.1,298.5 L235.2,297.8 L235.3,297.0 L235.4,296.3 L235.5,295.5 L235.7,294.8 L235.8,294.1 L235.9,293.3 L236.1,292.6 L236.2,291.8 L236.3,291.1 L236.4,290.4 L236.6,289.6 L236.7,288.9 L236.8,288.2 L237.0,287.4 L237.1,286.7 L237.3,285.9 L237.4,285.2 L237.6,284.5 L237.7,283.7 L237.9,283.0 L238.0,282.3 L238.2,281.5 L238.3,280.8 L238.4,280.1 L238.6,279.3 L238.7,278.6 L238.9,277.9 L239.0,277.1 L239.1,276.4 L239.2,275.6 L239.4,274.9 L239.5,274.2 L239.6,273.4 L239.7,272.7 L239.8,271.9 L239.9,271.2 L240.1,270.4 L240.2,269.7 L240.3,269.0 L240.4,268.2 L240.5,267.5 L240.6,266.7 L240.7,266.0 L240.8,265.2 L240.9,264.5 L241.0,263.8 L241.1,263.0 L241.2,262.3 L241.3,261.5 L241.4,260.8 L241.5,260.0 L241.6,259.3 L241.6,258.6 L241.7,257.8 L241.8,257.1 L241.9,256.3 L242.0,255.6 L242.1,254.8 L242.2,254.1 L242.3,253.3 L242.4,252.6 L242.5,251.9 L242.7,251.1 L242.9,250.4 L243.0,249.7 L243.2,248.9 L243.4,248.2 L243.6,247.5 L243.7,246.8 L243.9,246.0 L244.0,245.3 L244.2,244.6 L244.3,243.8 L244.5,243.1 L244.7,242.4 L245.0,241.7 L245.3,241.0 L245.7,240.4 L246.1,239.8 L246.6,239.2 L247.1,238.6 L247.6,238.1 L248.0,237.5 L248.4,236.8 L248.8,236.2 L249.1,235.5 L249.4,234.8 L249.6,234.1 L249.9,233.4 L250.2,232.7 L250.5,232.1 L250.9,231.4 L251.3,231.0 L251.8,230.8 L252.3,231.0 L252.8,231.4 L253.1,232.0 L253.5,232.7 L253.8,233.4 L254.1,234.0 L254.4,234.7 L254.8,235.4 L255.2,236.0 L255.5,236.7 L255.9,237.3 L256.3,238.0 L256.7,238.6 L257.0,239.3 L257.4,239.9 L257.8,240.6 L258.2,241.2 L258.6,241.9 L258.9,242.5 L259.3,243.2 L259.7,243.8 L260.0,244.5 L260.3,245.2 L260.6,245.9 L260.8,246.6 L261.1,247.3 L261.3,248.0 L261.5,248.7 L261.7,249.4 L262.0,250.1 L262.3,250.8 L262.5,251.5 L262.8,252.2 L263.1,252.9 L263.5,253.6 L263.8,254.3 L264.1,254.9 L264.4,255.6 L264.7,256.3 L265.1,257.0 L265.4,257.7 L265.7,258.3 L266.0,259.0 L266.2,259.7 L266.5,260.4 L266.8,261.1 L267.1,261.8 L267.4,262.5 L267.7,263.2 L268.0,263.9 L268.3,264.6 L268.6,265.2 L268.9,265.9 L269.2,266.6 L269.5,267.3 L269.8,268.0 L270.1,268.7 L270.4,269.4 L270.7,270.1 L270.9,270.8 L271.2,271.5 L271.5,272.2 L271.8,272.9 L272.0,273.6 L272.3,274.3 L272.6,275.0 L272.9,275.7 L273.1,276.4 L273.5,277.0 L273.8,277.7 L274.1,278.4 L274.5,279.0 L274.8,279.7 L275.2,280.4 L275.5,281.0 L275.9,281.7 L276.2,282.4 L276.5,283.0 L276.8,283.7 L277.1,284.4 L277.4,285.1 L277.7,285.8 L278.0,286.5 L278.2,287.2 L278.4,287.9 L278.7,288.6 L278.9,289.4 L279.1,290.1 L279.3,290.8 L279.6,291.5 L279.8,292.2 L280.0,292.9 L280.2,293.7 L280.4,294.4 L280.6,295.1 L280.9,295.8 L281.1,296.5 L281.3,297.2 L281.6,298.0 L281.8,298.7 L282.1,299.4 L282.3,300.1 L282.6,300.8 L282.9,301.5 L283.1,302.2 L283.4,302.9 L283.7,303.6 L284.0,304.3 L284.2,305.0 L284.5,305.6 L284.8,306.3 L285.1,307.0 L285.4,307.7 L285.7,308.4 L286.0,309.1 L286.4,309.8 L286.7,310.4 L287.0,311.1 L287.3,311.8 L287.7,312.4 L288.0,313.1 L288.4,313.8 L288.7,314.4 L289.1,315.1 L289.5,315.7 L289.8,316.4 L290.2,317.0 L290.6,317.7 L291.0,318.3 L291.4,319.0 L291.8,319.6 L292.3,320.2 L292.7,320.8 L293.2,321.4 L293.6,322.0 L294.1,322.5 L294.6,323.1 L295.1,323.6 L295.7,324.2 L296.2,324.7 L296.7,325.2 L297.3,325.7 L297.8,326.2 L298.4,326.7 L299.0,327.2 L299.5,327.7 L300.1,328.2 L300.7,328.7 L301.2,329.2 L301.8,329.7 L302.4,330.2 L302.9,330.7 L303.5,331.2 L304.0,331.7 L304.6,332.2 L305.2,332.7 L305.7,333.2 L306.3,333.6 L306.9,334.1 L307.5,334.6 L308.1,335.0 L308.7,335.5 L309.3,335.9 L309.9,336.3 L310.5,336.7 L311.2,337.1 L311.8,337.5 L312.5,337.9 L313.2,338.2 L313.8,338.5 L314.5,338.9 L315.2,339.2 L315.9,339.5 L316.6,339.8 L317.2,340.1 L317.9,340.4 L318.6,340.6 L319.3,340.9 L320.0,341.2 L320.7,341.4 L321.4,341.7 L322.2,341.9 L322.9,342.2 L323.6,342.4 L324.3,342.6 L325.0,342.8 L325.7,343.1 L326.4,343.3 L327.2,343.5 L327.9,343.7 L328.6,343.9 L329.3,344.1 L330.1,344.3 L330.8,344.5 L331.5,344.6 L332.2,344.8 L333.0,344.9 L333.7,345.1 L334.5,345.2 L335.2,345.3 L336.0,345.4 L336.7,345.5 L337.4,345.5 L338.0,345.6 L338.2,345.6" fill="none" stroke="#000" stroke-width="1.6" stroke-dasharray="5.8,5.9" stroke-dashoffset="11.62" clip-path="url(#clip11)" stroke-linejoin="round"/>
<path d="M346.8,348.2 L347.3,348.2 L347.9,348.2 L348.7,348.2 L349.4,348.2 L350.1,348.2 L350.9,348.2 L351.6,348.2 L352.4,348.1 L353.1,348.1 L353.9,348.1 L354.6,348.1 L355.4,348.1 L356.1,348.1 L356.9,348.1 L357.6,348.0 L358.4,348.0 L359.1,348.0 L359.9,348.0 L360.6,347.9 L361.4,347.9 L362.1,347.9 L362.9,347.9 L363.6,347.8 L364.4,347.8 L365.1,347.8 L365.9,347.8 L366.6,347.7 L367.4,347.7 L368.1,347.7 L368.9,347.6 L369.6,347.6 L370.4,347.6 L371.1,347.5 L371.9,347.5 L372.6,347.4 L373.4,347.3 L374.1,347.3 L374.9,347.2 L375.6,347.1 L376.4,347.1 L377.1,347.0 L377.9,346.9 L378.6,346.8 L379.3,346.6 L380.1,346.4 L380.8,346.2 L381.5,346.0 L382.2,345.7 L382.8,345.3 L383.4,344.8 L383.9,344.3 L384.3,343.7 L384.7,343.1 L385.1,342.4 L385.5,341.8 L385.8,341.1 L386.1,340.4 L386.5,339.8 L386.8,339.1 L387.1,338.4 L387.4,337.7 L387.7,337.0 L387.9,336.3 L388.2,335.6 L388.4,334.9 L388.7,334.2 L388.9,333.5 L389.1,332.8 L389.3,332.0 L389.5,331.3 L389.7,330.6 L389.9,329.9 L390.1,329.1 L390.3,328.4 L390.4,327.7 L390.6,326.9 L390.8,326.2 L390.9,325.5 L391.1,324.7 L391.2,324.0 L391.3,323.3 L391.5,322.5 L391.6,321.8 L391.8,321.1 L391.9,320.3 L392.0,319.6 L392.2,318.8 L392.3,318.1 L392.5,317.4 L392.6,316.6 L392.8,315.9 L392.9,315.2 L393.1,314.4 L393.2,313.7 L393.4,313.0 L393.5,312.2 L393.7,311.5 L393.8,310.8 L394.0,310.0 L394.1,309.3 L394.2,308.5 L394.3,307.8 L394.5,307.1 L394.6,306.3 L394.7,305.6 L394.8,304.8 L394.9,304.1 L395.0,303.3 L395.1,302.6 L395.2,301.9 L395.3,301.1 L395.4,300.4 L395.5,299.6 L395.6,298.9 L395.7,298.1 L395.8,297.4 L395.9,296.7 L396.0,295.9 L396.1,295.2 L396.2,294.4 L396.3,293.7 L396.4,293.0 L396.6,292.2 L396.7,291.5 L396.8,290.7 L396.9,290.0 L397.1,289.3 L397.2,288.5 L397.3,287.8 L397.4,287.0 L397.6,286.3 L397.7,285.6 L397.8,284.8 L398.0,284.1 L398.1,283.3 L398.3,282.6 L398.4,281.9 L398.5,281.1 L398.7,280.4 L398.8,279.7 L399.0,278.9 L399.1,278.2 L399.3,277.5 L399.4,276.7 L399.5,276.0 L399.7,275.2 L399.8,274.5 L400.0,273.8 L400.1,273.0 L400.3,272.3 L400.4,271.6 L400.6,270.8 L400.7,270.1 L400.9,269.4 L401.0,268.6 L401.1,267.9 L401.3,267.2 L401.4,266.4 L401.6,265.7 L401.7,264.9 L401.8,264.2 L402.0,263.5 L402.1,262.7 L402.3,262.0 L402.4,261.3 L402.6,260.5 L402.7,259.8 L402.9,259.1 L403.0,258.3 L403.2,257.6 L403.4,256.9 L403.5,256.1 L403.7,255.4 L403.9,254.7 L404.1,253.9 L404.2,253.2 L404.4,252.5 L404.6,251.8 L404.8,251.0 L405.0,250.3 L405.2,249.6 L405.4,248.9 L405.5,248.1 L405.7,247.4 L405.9,246.7 L406.1,245.9 L406.2,245.2 L406.4,244.5 L406.6,243.8 L406.8,243.0 L406.9,242.3 L407.1,241.6 L407.3,240.8 L407.5,240.1 L407.7,239.4 L407.9,238.7 L408.1,238.0 L408.4,237.2 L408.6,236.5 L408.9,235.8 L409.1,235.1 L409.4,234.4 L409.8,233.8 L410.2,233.2 L410.7,232.7 L411.3,232.2 L411.9,231.8 L412.6,231.5 L413.3,231.2 L414.0,231.2 L414.7,231.2 L415.4,231.4 L416.1,231.7 L416.7,232.1 L417.3,232.5 L417.9,233.0 L418.4,233.5 L418.9,234.1 L419.3,234.8 L419.7,235.4 L420.0,236.0 L420.4,236.7 L420.8,237.4 L421.1,238.0 L421.5,238.7 L421.8,239.4 L422.1,240.0 L422.4,240.7 L422.7,241.4 L422.9,242.1 L423.2,242.8 L423.4,243.5 L423.7,244.3 L423.9,245.0 L424.1,245.7 L424.4,246.4 L424.6,247.1 L424.9,247.8 L425.1,248.5 L425.4,249.2 L425.7,249.9 L425.9,250.6 L426.2,251.3 L426.4,252.0 L426.7,252.7 L426.9,253.4 L427.2,254.2 L427.4,254.9 L427.7,255.6 L427.9,256.3 L428.1,257.0 L428.4,257.7 L428.6,258.4 L428.9,259.1 L429.1,259.8 L429.3,260.6 L429.6,261.3 L429.8,262.0 L430.0,262.7 L430.3,263.4 L430.5,264.1 L430.8,264.8 L431.0,265.5 L431.2,266.2 L431.5,266.9 L431.7,267.6 L432.0,268.4 L432.3,269.1 L432.5,269.8 L432.8,270.5 L433.0,271.2 L433.3,271.9 L433.5,272.6 L433.8,273.3 L434.1,274.0 L434.3,274.7 L434.6,275.4 L434.9,276.1 L435.1,276.8 L435.4,277.5 L435.7,278.2 L436.0,278.9 L436.3,279.6 L436.6,280.2 L436.9,280.9 L437.2,281.6 L437.5,282.3 L437.8,283.0 L438.1,283.7 L438.4,284.3 L438.8,285.0 L439.1,285.7 L439.4,286.4 L439.8,287.0 L440.1,287.7 L440.4,288.4 L440.8,289.1 L441.1,289.7 L441.5,290.4 L441.8,291.0 L442.2,291.7 L442.6,292.3 L443.0,293.0 L443.3,293.6 L443.7,294.3 L444.1,294.9 L444.5,295.5 L445.0,296.2 L445.4,296.8 L445.8,297.4 L446.2,298.0 L446.7,298.6 L447.1,299.2 L447.6,299.8 L448.0,300.4 L448.5,301.0 L448.9,301.6 L449.4,302.2 L449.9,302.8 L450.3,303.4 L450.8,303.9 L451.3,304.5 L451.8,305.1 L452.3,305.7 L452.7,306.3 L453.2,306.8 L453.7,307.4 L454.2,308.0 L454.7,308.5 L455.2,309.1 L455.7,309.7 L456.2,310.2 L456.7,310.8 L457.2,311.3 L457.7,311.9 L458.2,312.4 L458.7,313.0 L459.2,313.5 L459.7,314.1 L460.2,314.6 L460.8,315.2 L461.3,315.7 L461.8,316.3 L462.3,316.8 L462.8,317.3 L463.4,317.9 L463.9,318.4 L464.4,318.9 L464.9,319.5 L465.5,320.0 L466.0,320.5 L466.5,321.1 L467.0,321.6 L467.6,322.2 L468.1,322.7 L468.6,323.2 L469.1,323.8 L469.7,324.3 L470.2,324.8 L470.7,325.4 L471.3,325.9 L471.8,326.4 L472.3,326.9 L472.9,327.4 L473.5,327.9 L474.0,328.4 L474.6,328.9 L475.2,329.4 L475.8,329.8 L476.3,330.3 L477.0,330.8 L477.6,331.2 L478.2,331.6 L478.8,332.0 L479.4,332.4 L480.1,332.9 L480.7,333.3 L481.3,333.6 L482.0,334.0 L482.6,334.4 L483.3,334.8 L483.9,335.1 L484.6,335.5 L485.2,335.9 L485.9,336.2 L486.6,336.5 L487.3,336.9 L487.9,337.2 L488.6,337.5 L489.3,337.8 L490.0,338.1 L490.7,338.4 L491.3,338.7 L492.0,339.0 L492.7,339.3 L493.4,339.6 L494.1,339.9 L494.8,340.1 L495.5,340.4 L496.2,340.6 L496.9,340.9 L497.7,341.1 L498.4,341.4 L499.1,341.6 L499.8,341.8 L500.5,342.0 L501.3,342.2 L502.0,342.4 L502.7,342.6 L503.4,342.8 L504.2,342.9 L504.9,343.1 L505.6,343.3 L506.3,343.5 L507.1,343.6 L507.8,343.8 L508.5,343.9 L509.3,344.1 L510.0,344.2 L510.6,344.3 L511.0,344.4 L511.0,344.4" fill="none" stroke="#c65cff" stroke-width="1.5" clip-path="url(#clip21)" stroke-linejoin="round"/>
<path d="M346.8,348.2 L347.3,348.2 L347.9,348.2 L348.7,348.2 L349.4,348.2 L350.1,348.2 L350.9,348.2 L351.6,348.2 L352.4,348.1 L353.1,348.1 L353.9,348.1 L354.6,348.1 L355.4,348.1 L356.1,348.1 L356.9,348.1 L357.6,348.0 L358.4,348.0 L359.1,348.0 L359.9,348.0 L360.6,347.9 L361.4,347.9 L362.1,347.9 L362.9,347.9 L363.6,347.8 L364.4,347.8 L365.1,347.8 L365.9,347.8 L366.6,347.7 L367.4,347.7 L368.1,347.7 L368.9,347.7 L369.6,347.6 L370.4,347.6 L371.1,347.5 L371.9,347.5 L372.6,347.4 L373.4,347.4 L374.1,347.3 L374.9,347.2 L375.6,347.2 L376.4,347.1 L377.1,347.0 L377.8,346.8 L378.6,346.7 L379.3,346.4 L380.0,346.1 L380.6,345.8 L381.2,345.3 L381.7,344.8 L382.2,344.3 L382.6,343.6 L383.0,343.0 L383.3,342.3 L383.6,341.6 L383.9,340.9 L384.2,340.3 L384.5,339.6 L384.8,338.9 L385.0,338.1 L385.3,337.4 L385.5,336.7 L385.7,336.0 L385.9,335.3 L386.1,334.6 L386.3,333.8 L386.5,333.1 L386.7,332.4 L386.9,331.7 L387.1,331.0 L387.3,330.2 L387.5,329.5 L387.7,328.8 L387.9,328.1 L388.1,327.3 L388.3,326.6 L388.5,325.9 L388.7,325.2 L388.8,324.4 L389.0,323.7 L389.2,323.0 L389.4,322.2 L389.6,321.5 L389.7,320.8 L389.9,320.1 L390.1,319.3 L390.3,318.6 L390.5,317.9 L390.6,317.1 L390.8,316.4 L391.0,315.7 L391.2,315.0 L391.3,314.2 L391.5,313.5 L391.7,312.8 L391.9,312.0 L392.0,311.3 L392.2,310.6 L392.4,309.9 L392.6,309.1 L392.8,308.4 L393.0,307.7 L393.2,307.0 L393.4,306.2 L393.6,305.5 L393.8,304.8 L394.1,304.1 L394.3,303.4 L394.6,302.7 L394.9,302.0 L395.2,301.3 L395.4,300.6 L395.7,299.9 L396.0,299.2 L396.2,298.5 L396.5,297.8 L396.7,297.1 L396.9,296.3 L397.1,295.6 L397.3,294.9 L397.5,294.2 L397.6,293.4 L397.8,292.7 L398.0,292.0 L398.2,291.3 L398.3,290.5 L398.5,289.8 L398.7,289.1 L398.8,288.3 L399.0,287.6 L399.2,286.9 L399.4,286.1 L399.6,285.4 L399.8,284.7 L400.0,284.0 L400.2,283.2 L400.4,282.5 L400.6,281.8 L400.8,281.1 L401.0,280.4 L401.2,279.6 L401.4,278.9 L401.6,278.2 L401.9,277.5 L402.1,276.8 L402.3,276.1 L402.5,275.3 L402.7,274.6 L403.0,273.9 L403.2,273.2 L403.4,272.5 L403.6,271.8 L403.8,271.0 L404.1,270.3 L404.3,269.6 L404.5,268.9 L404.7,268.2 L404.9,267.4 L405.1,266.7 L405.3,266.0 L405.5,265.3 L405.8,264.6 L406.0,263.9 L406.2,263.1 L406.4,262.4 L406.6,261.7 L406.8,261.0 L407.1,260.3 L407.3,259.6 L407.5,258.8 L407.8,258.1 L408.0,257.4 L408.3,256.7 L408.5,256.0 L408.8,255.3 L409.0,254.6 L409.2,253.9 L409.5,253.2 L409.7,252.4 L409.9,251.7 L410.1,251.0 L410.3,250.3 L410.6,249.6 L410.8,248.9 L411.0,248.1 L411.3,247.4 L411.5,246.7 L411.8,246.0 L412.0,245.3 L412.3,244.6 L412.5,243.9 L412.8,243.2 L413.1,242.5 L413.3,241.8 L413.6,241.1 L413.9,240.4 L414.2,239.7 L414.5,239.1 L414.9,238.4 L415.2,237.7 L415.5,237.0 L415.8,236.4 L416.2,235.7 L416.6,235.0 L417.0,234.4 L417.4,233.8 L417.9,233.3 L418.5,232.8 L419.1,232.3 L419.7,231.9 L420.3,231.6 L421.0,231.3 L421.7,231.2 L422.5,231.2 L423.2,231.3 L423.9,231.6 L424.5,231.9 L425.1,232.3 L425.8,232.7 L426.3,233.2 L426.8,233.8 L427.3,234.3 L427.7,235.0 L428.1,235.6 L428.4,236.3 L428.8,237.0 L429.1,237.6 L429.4,238.3 L429.7,239.0 L430.0,239.7 L430.4,240.3 L430.7,241.0 L431.0,241.7 L431.3,242.4 L431.6,243.1 L431.9,243.8 L432.2,244.4 L432.5,245.1 L432.8,245.8 L433.0,246.5 L433.3,247.2 L433.6,247.9 L433.9,248.6 L434.2,249.3 L434.4,250.0 L434.7,250.7 L435.0,251.4 L435.3,252.1 L435.5,252.8 L435.8,253.5 L436.1,254.2 L436.3,254.9 L436.6,255.6 L436.9,256.3 L437.1,257.0 L437.4,257.7 L437.7,258.4 L437.9,259.1 L438.2,259.8 L438.4,260.5 L438.7,261.2 L438.9,261.9 L439.2,262.6 L439.5,263.3 L439.7,264.1 L440.0,264.8 L440.2,265.5 L440.5,266.2 L440.8,266.9 L441.0,267.6 L441.3,268.3 L441.6,269.0 L441.9,269.7 L442.1,270.4 L442.4,271.1 L442.7,271.7 L443.0,272.4 L443.2,273.1 L443.5,273.8 L443.8,274.5 L444.1,275.2 L444.4,275.9 L444.7,276.6 L444.9,277.3 L445.2,278.0 L445.5,278.7 L445.8,279.4 L446.1,280.1 L446.4,280.8 L446.7,281.5 L447.0,282.2 L447.3,282.8 L447.6,283.5 L447.9,284.2 L448.2,284.9 L448.5,285.6 L448.8,286.3 L449.1,287.0 L449.4,287.6 L449.7,288.3 L450.0,289.0 L450.3,289.7 L450.6,290.4 L450.9,291.1 L451.2,291.7 L451.6,292.4 L451.9,293.1 L452.2,293.8 L452.5,294.5 L452.8,295.1 L453.2,295.8 L453.5,296.5 L453.8,297.2 L454.1,297.8 L454.5,298.5 L454.8,299.2 L455.1,299.9 L455.5,300.5 L455.8,301.2 L456.1,301.9 L456.5,302.5 L456.8,303.2 L457.1,303.9 L457.4,304.6 L457.8,305.3 L458.1,305.9 L458.4,306.6 L458.7,307.3 L459.0,308.0 L459.4,308.6 L459.7,309.3 L460.0,310.0 L460.4,310.7 L460.7,311.3 L461.0,312.0 L461.4,312.7 L461.7,313.3 L462.1,314.0 L462.5,314.6 L462.8,315.3 L463.2,315.9 L463.6,316.6 L464.0,317.2 L464.5,317.8 L464.9,318.4 L465.4,319.0 L465.8,319.6 L466.3,320.2 L466.8,320.8 L467.2,321.3 L467.7,321.9 L468.2,322.5 L468.7,323.0 L469.2,323.6 L469.8,324.1 L470.3,324.7 L470.8,325.2 L471.3,325.7 L471.9,326.2 L472.4,326.7 L473.0,327.2 L473.6,327.7 L474.1,328.2 L474.7,328.7 L475.3,329.1 L475.9,329.6 L476.5,330.0 L477.1,330.5 L477.7,330.9 L478.4,331.3 L479.0,331.7 L479.6,332.1 L480.3,332.5 L480.9,332.9 L481.6,333.3 L482.2,333.7 L482.9,334.0 L483.5,334.4 L484.2,334.7 L484.9,335.0 L485.5,335.4 L486.2,335.7 L486.9,336.0 L487.6,336.3 L488.3,336.7 L488.9,337.0 L489.6,337.3 L490.3,337.6 L491.0,337.9 L491.7,338.2 L492.3,338.5 L493.0,338.8 L493.7,339.1 L494.4,339.4 L495.1,339.7 L495.8,340.0 L496.5,340.2 L497.2,340.5 L497.9,340.7 L498.7,340.8 L499.4,341.0 L500.1,341.1 L500.9,341.2 L501.6,341.3 L502.4,341.4 L503.1,341.5 L503.9,341.6 L504.6,341.7 L505.4,341.8 L506.1,341.8 L506.8,341.9 L507.6,342.0 L508.3,342.0 L509.1,342.0 L509.8,342.1 L510.5,342.1 L510.9,342.1 L510.9,342.1" fill="none" stroke="#5470ff" stroke-width="1.5" clip-path="url(#clip21)" stroke-linejoin="round"/>
<path d="M519.7,146.9 L520.1,146.9 L520.8,146.9 L521.5,146.9 L522.2,146.9 L523.0,146.9 L523.7,146.9 L524.4,146.9 L525.2,146.9 L525.9,146.9 L526.7,146.9 L527.4,146.9 L528.2,146.9 L528.9,146.9 L529.7,146.9 L530.4,146.9 L531.2,146.9 L531.9,146.9 L532.7,146.9 L533.4,146.9 L534.2,146.9 L534.9,146.9 L535.7,146.9 L536.4,146.9 L537.2,146.9 L537.9,146.9 L538.7,146.9 L539.4,146.9 L540.2,146.9 L540.9,146.9 L541.7,146.9 L542.4,146.9 L543.2,146.9 L543.9,146.9 L544.7,146.9 L545.4,146.9 L546.2,146.9 L546.9,146.9 L547.7,146.9 L548.4,146.9 L549.2,146.9 L549.9,146.9 L550.7,146.9 L551.4,146.8 L552.2,146.8 L552.9,146.8 L553.7,146.8 L554.4,146.8 L555.2,146.8 L555.9,146.8 L556.7,146.8 L557.4,146.8 L558.2,146.8 L558.9,146.8 L559.7,146.8 L560.4,146.8 L561.2,146.8 L561.9,146.8 L562.7,146.8 L563.4,146.8 L564.2,146.8 L564.9,146.8 L565.7,146.8 L566.4,146.8 L567.2,146.8 L567.9,146.8 L568.7,146.8 L569.4,146.7 L570.2,146.7 L570.9,146.7 L571.7,146.7 L572.4,146.7 L573.2,146.7 L573.9,146.7 L574.7,146.7 L575.4,146.7 L576.2,146.6 L576.9,146.5 L577.7,146.5 L578.4,146.4 L579.2,146.2 L579.9,146.1 L580.6,146.0 L581.4,145.8 L582.1,145.7 L582.9,145.6 L583.6,145.5 L584.3,145.4 L585.1,145.3 L585.8,145.2 L586.6,145.1 L587.3,144.9 L588.0,144.7 L588.7,144.5 L589.4,144.2 L590.1,143.9 L590.7,143.5 L591.2,143.0 L591.7,142.4 L592.1,141.8 L592.4,141.1 L592.6,140.4 L592.8,139.7 L593.0,139.0 L593.2,138.3 L593.4,137.5 L593.6,136.8 L593.7,136.1 L593.9,135.3 L594.0,134.6 L594.1,133.8 L594.2,133.1 L594.3,132.4 L594.4,131.6 L594.5,130.9 L594.6,130.1 L594.6,129.4 L594.7,128.6 L594.8,127.9 L594.9,127.1 L594.9,126.4 L595.0,125.6 L595.1,124.9 L595.2,124.2 L595.2,123.4 L595.3,122.7 L595.4,121.9 L595.4,121.2 L595.5,120.4 L595.6,119.7 L595.6,118.9 L595.7,118.2 L595.8,117.4 L595.8,116.7 L595.9,115.9 L596.0,115.2 L596.1,114.4 L596.1,113.7 L596.2,113.0 L596.3,112.2 L596.4,111.5 L596.5,110.7 L596.6,110.0 L596.6,109.2 L596.7,108.5 L596.8,107.7 L596.9,107.0 L597.0,106.3 L597.1,105.5 L597.2,104.8 L597.3,104.0 L597.4,103.3 L597.5,102.5 L597.6,101.8 L597.7,101.0 L597.8,100.3 L597.8,99.6 L597.9,98.8 L598.0,98.1 L598.1,97.3 L598.2,96.6 L598.2,95.8 L598.3,95.1 L598.4,94.3 L598.4,93.6 L598.5,92.8 L598.6,92.1 L598.6,91.3 L598.7,90.6 L598.8,89.9 L598.8,89.1 L598.9,88.4 L599.0,87.6 L599.0,86.9 L599.1,86.1 L599.2,85.4 L599.2,84.6 L599.3,83.9 L599.3,83.1 L599.4,82.4 L599.5,81.6 L599.5,80.9 L599.6,80.1 L599.6,79.4 L599.7,78.6 L599.7,77.9 L599.8,77.1 L599.8,76.4 L599.9,75.6 L600.0,74.9 L600.0,74.1 L600.1,73.4 L600.1,72.7 L600.2,71.9 L600.3,71.2 L600.4,70.4 L600.4,69.7 L600.5,68.9 L600.6,68.2 L600.7,67.4 L600.8,66.7 L600.9,65.9 L601.0,65.2 L601.0,64.5 L601.1,63.7 L601.2,63.0 L601.3,62.2 L601.4,61.5 L601.4,60.7 L601.5,60.0 L601.6,59.2 L601.6,58.5 L601.7,57.7 L601.7,57.0 L601.8,56.2 L601.8,55.5 L601.9,54.7 L601.9,54.0 L602.0,53.2 L602.0,52.5 L602.1,51.7 L602.1,51.0 L602.2,50.3 L602.3,49.5 L602.3,48.8 L602.4,48.0 L602.5,47.3 L602.6,46.5 L602.7,45.8 L602.7,45.0 L602.8,44.3 L602.9,43.5 L603.0,42.8 L603.1,42.1 L603.2,41.3 L603.3,40.6 L603.4,39.8 L603.5,39.1 L603.6,38.3 L603.7,37.6 L603.8,36.9 L603.9,36.1 L604.0,35.4 L604.1,34.6 L604.2,33.9 L604.4,33.1 L604.5,32.4 L604.6,31.7 L604.8,30.9 L604.9,30.2 L605.1,29.5 L605.2,28.7 L605.4,28.0 L605.7,27.3 L606.0,26.6 L606.3,26.0 L606.7,25.6 L607.2,25.4 L607.6,25.5 L608.0,25.8 L608.4,26.4 L608.7,27.1 L609.0,27.7 L609.2,28.4 L609.5,29.2 L609.7,29.9 L609.9,30.6 L610.1,31.3 L610.2,32.1 L610.4,32.8 L610.6,33.5 L610.8,34.2 L610.9,35.0 L611.1,35.7 L611.2,36.4 L611.4,37.2 L611.5,37.9 L611.6,38.7 L611.8,39.4 L611.9,40.1 L612.0,40.9 L612.1,41.6 L612.2,42.4 L612.4,43.1 L612.5,43.8 L612.6,44.6 L612.7,45.3 L612.7,46.1 L612.8,46.8 L612.9,47.6 L613.0,48.3 L613.1,49.1 L613.1,49.8 L613.2,50.6 L613.3,51.3 L613.4,52.0 L613.4,52.8 L613.5,53.5 L613.6,54.3 L613.7,55.0 L613.8,55.8 L613.9,56.5 L614.0,57.3 L614.1,58.0 L614.2,58.7 L614.3,59.5 L614.4,60.2 L614.5,61.0 L614.6,61.7 L614.7,62.5 L614.8,63.2 L614.9,63.9 L615.0,64.7 L615.1,65.4 L615.2,66.2 L615.4,66.9 L615.5,67.6 L615.6,68.4 L615.7,69.1 L615.8,69.9 L616.0,70.6 L616.1,71.3 L616.2,72.1 L616.4,72.8 L616.5,73.6 L616.6,74.3 L616.8,75.0 L616.9,75.8 L617.1,76.5 L617.2,77.2 L617.3,78.0 L617.5,78.7 L617.6,79.5 L617.7,80.2 L617.8,80.9 L618.0,81.7 L618.1,82.4 L618.2,83.2 L618.3,83.9 L618.4,84.6 L618.5,85.4 L618.6,86.1 L618.7,86.9 L618.8,87.6 L618.9,88.4 L619.0,89.1 L619.0,89.9 L619.1,90.6 L619.2,91.3 L619.3,92.1 L619.4,92.8 L619.5,93.6 L619.6,94.3 L619.7,95.1 L619.8,95.8 L620.0,96.5 L620.1,97.3 L620.2,98.0 L620.3,98.8 L620.5,99.5 L620.6,100.2 L620.7,101.0 L620.9,101.7 L621.0,102.5 L621.2,103.2 L621.3,103.9 L621.4,104.7 L621.6,105.4 L621.7,106.1 L621.9,106.9 L622.0,107.6 L622.2,108.3 L622.3,109.1 L622.5,109.8 L622.6,110.5 L622.8,111.3 L623.0,112.0 L623.1,112.7 L623.3,113.5 L623.4,114.2 L623.6,114.9 L623.7,115.7 L623.9,116.4 L624.0,117.1 L624.2,117.9 L624.3,118.6 L624.5,119.4 L624.6,120.1 L624.7,120.8 L624.9,121.6 L625.0,122.3 L625.2,123.0 L625.3,123.8 L625.5,124.5 L625.7,125.2 L625.8,126.0 L626.0,126.7 L626.2,127.4 L626.3,128.2 L626.5,128.9 L626.7,129.6 L627.0,130.3 L627.2,131.0 L627.5,131.7 L627.7,132.4 L628.0,133.1 L628.3,133.8 L628.7,134.5 L629.0,135.1 L629.4,135.8 L629.7,136.4 L630.1,137.1 L630.6,137.7 L631.0,138.3 L631.5,138.9 L632.0,139.4 L632.5,140.0 L633.1,140.5 L633.6,141.0 L634.2,141.4 L634.8,141.9 L635.4,142.3 L636.0,142.7 L636.7,143.1 L637.4,143.4 L638.0,143.7 L638.7,144.0 L639.5,144.2 L640.2,144.4 L640.9,144.6 L641.6,144.7 L642.4,144.9 L643.1,145.1 L643.8,145.2 L644.6,145.3 L645.3,145.4 L646.1,145.5 L646.8,145.6 L647.6,145.7 L648.3,145.7 L649.1,145.8 L649.8,145.8 L650.6,145.9 L651.3,145.9 L652.0,146.0 L652.8,146.0 L653.5,146.1 L654.3,146.1 L655.0,146.2 L655.8,146.2 L656.5,146.2 L657.3,146.3 L658.0,146.3 L658.8,146.3 L659.5,146.4 L660.3,146.4 L661.0,146.4 L661.8,146.4 L662.5,146.5 L663.3,146.5 L664.0,146.5 L664.8,146.5 L665.5,146.5 L666.3,146.5 L667.0,146.5 L667.8,146.5 L668.5,146.5 L669.3,146.5 L670.0,146.5 L670.8,146.5 L671.5,146.6 L672.3,146.6 L673.0,146.6 L673.8,146.6 L674.5,146.6 L675.3,146.6 L676.0,146.6 L676.8,146.6 L677.5,146.6 L678.3,146.6 L679.0,146.6 L679.8,146.6 L680.5,146.6 L681.3,146.6 L682.0,146.6 L682.7,146.6 L683.3,146.6 L683.8,146.6 L683.9,146.6" fill="none" stroke="#ff8a3d" stroke-width="1.5" clip-path="url(#clip30)" stroke-linejoin="round"/>
<path d="M519.7,146.9 L520.1,146.9 L520.8,146.9 L521.5,146.9 L522.2,146.9 L523.0,146.9 L523.7,146.9 L524.4,146.9 L525.2,146.9 L525.9,146.9 L526.7,146.9 L527.4,146.9 L528.2,146.9 L528.9,146.9 L529.7,146.9 L530.4,146.9 L531.2,146.9 L531.9,146.9 L532.7,146.9 L533.4,146.9 L534.2,146.9 L534.9,146.9 L535.7,146.9 L536.4,146.8 L537.2,146.8 L537.9,146.8 L538.7,146.8 L539.4,146.8 L540.2,146.8 L540.9,146.8 L541.7,146.8 L542.4,146.8 L543.2,146.8 L543.9,146.8 L544.7,146.8 L545.4,146.8 L546.2,146.8 L546.9,146.7 L547.7,146.7 L548.4,146.7 L549.2,146.7 L549.9,146.7 L550.7,146.7 L551.4,146.7 L552.2,146.7 L552.9,146.7 L553.7,146.7 L554.4,146.6 L555.2,146.6 L555.9,146.6 L556.7,146.6 L557.4,146.6 L558.2,146.6 L558.9,146.6 L559.7,146.5 L560.4,146.5 L561.2,146.5 L561.9,146.5 L562.7,146.5 L563.4,146.5 L564.2,146.4 L564.9,146.4 L565.7,146.4 L566.4,146.4 L567.2,146.4 L567.9,146.3 L568.7,146.3 L569.4,146.3 L570.2,146.2 L570.9,146.2 L571.7,146.1 L572.4,146.0 L573.2,145.8 L573.9,145.7 L574.6,145.5 L575.4,145.4 L576.1,145.2 L576.8,145.0 L577.5,144.7 L578.2,144.5 L578.9,144.2 L579.5,143.8 L580.2,143.4 L580.8,142.9 L581.3,142.4 L581.7,141.9 L582.1,141.2 L582.5,140.6 L582.8,139.9 L583.1,139.2 L583.3,138.5 L583.6,137.8 L583.8,137.1 L584.0,136.3 L584.2,135.6 L584.3,134.9 L584.5,134.1 L584.6,133.4 L584.7,132.7 L584.8,131.9 L584.9,131.2 L585.0,130.4 L585.1,129.7 L585.2,129.0 L585.3,128.2 L585.4,127.5 L585.5,126.7 L585.5,126.0 L585.6,125.2 L585.7,124.5 L585.8,123.7 L585.9,123.0 L586.0,122.2 L586.0,121.5 L586.1,120.8 L586.2,120.0 L586.2,119.3 L586.3,118.5 L586.4,117.8 L586.4,117.0 L586.5,116.3 L586.6,115.5 L586.6,114.8 L586.7,114.0 L586.8,113.3 L586.9,112.5 L586.9,111.8 L587.0,111.0 L587.1,110.3 L587.2,109.6 L587.3,108.8 L587.4,108.1 L587.5,107.3 L587.6,106.6 L587.7,105.8 L587.8,105.1 L587.9,104.4 L588.0,103.6 L588.1,102.9 L588.2,102.1 L588.3,101.4 L588.3,100.6 L588.4,99.9 L588.5,99.1 L588.5,98.4 L588.6,97.6 L588.6,96.9 L588.7,96.1 L588.7,95.4 L588.7,94.6 L588.8,93.9 L588.8,93.1 L588.9,92.4 L588.9,91.6 L588.9,90.9 L589.0,90.2 L589.0,89.4 L589.1,88.7 L589.1,87.9 L589.2,87.2 L589.2,86.4 L589.3,85.7 L589.3,84.9 L589.4,84.2 L589.4,83.4 L589.5,82.7 L589.5,81.9 L589.6,81.2 L589.7,80.4 L589.7,79.7 L589.8,78.9 L589.9,78.2 L589.9,77.4 L590.0,76.7 L590.1,75.9 L590.2,75.2 L590.2,74.5 L590.3,73.7 L590.4,73.0 L590.5,72.2 L590.6,71.5 L590.6,70.7 L590.7,70.0 L590.8,69.2 L590.9,68.5 L591.0,67.7 L591.1,67.0 L591.2,66.3 L591.3,65.5 L591.4,64.8 L591.5,64.0 L591.6,63.3 L591.7,62.5 L591.8,61.8 L591.9,61.1 L592.0,60.3 L592.0,59.6 L592.1,58.8 L592.2,58.1 L592.3,57.3 L592.3,56.6 L592.4,55.8 L592.5,55.1 L592.6,54.3 L592.6,53.6 L592.7,52.8 L592.8,52.1 L592.9,51.4 L592.9,50.6 L593.0,49.9 L593.1,49.1 L593.2,48.4 L593.3,47.6 L593.3,46.9 L593.4,46.1 L593.5,45.4 L593.6,44.6 L593.7,43.9 L593.8,43.2 L593.9,42.4 L594.0,41.7 L594.1,40.9 L594.2,40.2 L594.3,39.4 L594.4,38.7 L594.6,38.0 L594.7,37.2 L594.9,36.5 L595.0,35.8 L595.1,35.0 L595.3,34.3 L595.4,33.5 L595.5,32.8 L595.7,32.1 L595.8,31.3 L596.0,30.6 L596.2,29.9 L596.4,29.2 L596.6,28.4 L596.9,27.8 L597.2,27.1 L597.6,26.5 L598.0,25.9 L598.5,25.5 L599.1,25.2 L599.7,25.2 L600.2,25.5 L600.7,25.9 L601.2,26.5 L601.6,27.1 L602.0,27.8 L602.3,28.4 L602.6,29.1 L602.9,29.8 L603.2,30.5 L603.5,31.2 L603.7,31.9 L604.0,32.6 L604.2,33.3 L604.5,34.0 L604.7,34.7 L604.9,35.5 L605.1,36.2 L605.3,36.9 L605.6,37.6 L605.8,38.3 L606.0,39.1 L606.2,39.8 L606.4,40.5 L606.6,41.2 L606.8,41.9 L607.0,42.7 L607.2,43.4 L607.4,44.1 L607.6,44.8 L607.8,45.6 L607.9,46.3 L608.1,47.0 L608.3,47.8 L608.4,48.5 L608.6,49.2 L608.7,50.0 L608.8,50.7 L609.0,51.4 L609.1,52.2 L609.3,52.9 L609.4,53.6 L609.5,54.4 L609.7,55.1 L609.8,55.9 L610.0,56.6 L610.1,57.3 L610.2,58.1 L610.4,58.8 L610.5,59.5 L610.6,60.3 L610.8,61.0 L610.9,61.8 L611.0,62.5 L611.2,63.2 L611.3,64.0 L611.4,64.7 L611.6,65.4 L611.7,66.2 L611.8,66.9 L612.0,67.7 L612.1,68.4 L612.3,69.1 L612.4,69.9 L612.6,70.6 L612.7,71.3 L612.9,72.1 L613.0,72.8 L613.2,73.5 L613.4,74.3 L613.5,75.0 L613.7,75.7 L613.9,76.5 L614.0,77.2 L614.2,77.9 L614.4,78.6 L614.6,79.4 L614.7,80.1 L614.9,80.8 L615.1,81.6 L615.2,82.3 L615.4,83.0 L615.6,83.8 L615.8,84.5 L615.9,85.2 L616.1,86.0 L616.3,86.7 L616.4,87.4 L616.6,88.1 L616.8,88.9 L616.9,89.6 L617.1,90.3 L617.3,91.1 L617.4,91.8 L617.6,92.5 L617.8,93.3 L618.0,94.0 L618.2,94.7 L618.3,95.4 L618.5,96.2 L618.7,96.9 L618.9,97.6 L619.1,98.3 L619.3,99.1 L619.5,99.8 L619.7,100.5 L619.9,101.2 L620.1,102.0 L620.3,102.7 L620.5,103.4 L620.7,104.1 L620.9,104.8 L621.1,105.6 L621.4,106.3 L621.6,107.0 L621.8,107.7 L622.1,108.4 L622.3,109.1 L622.6,109.8 L622.9,110.5 L623.2,111.2 L623.6,111.8 L623.9,112.5 L624.2,113.2 L624.6,113.8 L624.9,114.5 L625.2,115.2 L625.5,115.9 L625.8,116.6 L626.0,117.3 L626.3,118.0 L626.5,118.7 L626.7,119.4 L626.9,120.2 L627.1,120.9 L627.4,121.6 L627.6,122.3 L627.8,123.0 L628.1,123.7 L628.4,124.4 L628.7,125.1 L629.1,125.7 L629.5,126.4 L629.8,127.0 L630.2,127.7 L630.7,128.3 L631.1,128.9 L631.6,129.5 L632.0,130.1 L632.5,130.6 L633.0,131.2 L633.5,131.8 L634.0,132.3 L634.5,132.8 L635.1,133.4 L635.6,133.9 L636.2,134.4 L636.7,134.9 L637.3,135.4 L637.9,135.9 L638.4,136.3 L639.0,136.8 L639.7,137.2 L640.3,137.6 L640.9,138.0 L641.6,138.4 L642.2,138.8 L642.9,139.1 L643.6,139.4 L644.2,139.7 L644.9,140.0 L645.6,140.3 L646.3,140.6 L647.0,140.9 L647.7,141.1 L648.4,141.4 L649.1,141.6 L649.9,141.8 L650.6,142.1 L651.3,142.3 L652.0,142.4 L652.8,142.6 L653.5,142.8 L654.2,142.9 L655.0,143.1 L655.7,143.2 L656.4,143.3 L657.2,143.4 L657.9,143.6 L658.7,143.7 L659.4,143.8 L660.1,143.9 L660.9,144.0 L661.6,144.1 L662.4,144.2 L663.1,144.3 L663.9,144.4 L664.6,144.5 L665.4,144.6 L666.1,144.6 L666.8,144.7 L667.6,144.8 L668.3,144.9 L669.1,144.9 L669.8,145.0 L670.6,145.1 L671.3,145.1 L672.1,145.2 L672.8,145.3 L673.6,145.3 L674.3,145.4 L675.1,145.5 L675.8,145.5 L676.6,145.6 L677.3,145.6 L678.1,145.7 L678.8,145.7 L679.6,145.8 L680.3,145.8 L681.0,145.8 L681.8,145.9 L682.5,145.9 L683.2,146.0 L683.7,146.0 L683.9,146.0" fill="none" stroke="#ff3d6e" stroke-width="1.5" clip-path="url(#clip30)" stroke-linejoin="round"/>
<path d="M519.7,146.9 L520.1,146.9 L520.8,146.9 L521.5,146.9 L522.2,146.9 L523.0,146.9 L523.7,146.9 L524.5,146.9 L525.2,146.9 L526.0,146.9 L526.7,146.9 L527.5,146.9 L528.2,146.9 L529.0,146.9 L529.7,146.9 L530.5,146.9 L531.2,146.9 L532.0,146.9 L532.7,146.9 L533.5,146.9 L534.2,146.9 L535.0,146.9 L535.7,146.9 L536.5,146.9 L537.2,146.9 L538.0,146.9 L538.7,146.9 L539.5,146.9 L540.2,146.9 L541.0,146.9 L541.7,146.9 L542.5,146.9 L543.2,146.9 L544.0,146.9 L544.7,146.9 L545.5,146.9 L546.2,146.9 L547.0,146.9 L547.7,146.9 L548.5,146.9 L549.2,146.9 L550.0,146.9 L550.7,146.9 L551.5,146.9 L552.2,146.9 L553.0,146.9 L553.7,146.9 L554.5,146.9 L555.2,146.9 L555.9,146.9 L556.7,146.9 L557.4,146.9 L558.2,146.9 L558.9,146.9 L559.7,146.9 L560.4,146.9 L561.2,146.8 L561.9,146.8 L562.7,146.7 L563.4,146.6 L564.2,146.5 L564.9,146.3 L565.6,146.2 L566.4,146.0 L567.1,145.8 L567.8,145.6 L568.5,145.3 L569.2,145.0 L569.8,144.7 L570.5,144.3 L571.1,143.8 L571.7,143.4 L572.2,142.8 L572.7,142.3 L573.2,141.7 L573.6,141.1 L574.0,140.5 L574.4,139.9 L574.8,139.2 L575.1,138.5 L575.4,137.8 L575.7,137.1 L575.9,136.4 L576.2,135.7 L576.4,135.0 L576.7,134.3 L576.9,133.6 L577.1,132.9 L577.2,132.1 L577.4,131.4 L577.6,130.7 L577.7,129.9 L577.9,129.2 L578.0,128.5 L578.1,127.7 L578.3,127.0 L578.4,126.3 L578.6,125.5 L578.7,124.8 L578.8,124.0 L578.9,123.3 L579.0,122.6 L579.1,121.8 L579.2,121.1 L579.3,120.3 L579.4,119.6 L579.5,118.8 L579.6,118.1 L579.7,117.4 L579.8,116.6 L579.9,115.9 L580.0,115.1 L580.1,114.4 L580.2,113.6 L580.3,112.9 L580.4,112.2 L580.5,111.4 L580.7,110.7 L580.8,109.9 L580.9,109.2 L581.0,108.5 L581.2,107.7 L581.3,107.0 L581.4,106.2 L581.5,105.5 L581.7,104.8 L581.8,104.0 L581.9,103.3 L582.1,102.5 L582.2,101.8 L582.3,101.1 L582.4,100.3 L582.6,99.6 L582.7,98.8 L582.8,98.1 L583.0,97.4 L583.1,96.6 L583.2,95.9 L583.3,95.2 L583.5,94.4 L583.6,93.7 L583.7,92.9 L583.9,92.2 L584.0,91.5 L584.1,90.7 L584.2,90.0 L584.4,89.2 L584.5,88.5 L584.6,87.8 L584.8,87.0 L584.9,86.3 L585.0,85.5 L585.1,84.8 L585.3,84.1 L585.4,83.3 L585.5,82.6 L585.6,81.8 L585.8,81.1 L585.9,80.4 L586.0,79.6 L586.1,78.9 L586.2,78.1 L586.4,77.4 L586.5,76.7 L586.6,75.9 L586.7,75.2 L586.9,74.5 L587.0,73.7 L587.1,73.0 L587.3,72.2 L587.4,71.5 L587.5,70.8 L587.7,70.0 L587.8,69.3 L588.0,68.6 L588.1,67.8 L588.3,67.1 L588.4,66.3 L588.5,65.6 L588.7,64.9 L588.8,64.1 L589.0,63.4 L589.1,62.7 L589.3,61.9 L589.5,61.2 L589.6,60.5 L589.8,59.7 L589.9,59.0 L590.1,58.3 L590.2,57.5 L590.3,56.8 L590.5,56.1 L590.6,55.3 L590.8,54.6 L590.9,53.9 L591.1,53.1 L591.3,52.4 L591.4,51.7 L591.6,50.9 L591.8,50.2 L591.9,49.5 L592.1,48.7 L592.3,48.0 L592.4,47.3 L592.6,46.5 L592.8,45.8 L593.0,45.1 L593.2,44.4 L593.4,43.6 L593.6,42.9 L593.9,42.2 L594.1,41.5 L594.5,40.9 L594.9,40.3 L595.3,39.6 L595.6,39.0 L595.9,38.3 L596.2,37.6 L596.4,36.9 L596.6,36.2 L596.9,35.5 L597.1,34.7 L597.3,34.0 L597.6,33.3 L597.9,32.6 L598.1,31.9 L598.4,31.2 L598.7,30.5 L598.9,29.8 L599.2,29.1 L599.5,28.4 L599.8,27.8 L600.2,27.1 L600.6,26.5 L601.1,26.0 L601.7,25.6 L602.3,25.2 L603.0,25.0 L603.7,25.0 L604.3,25.2 L604.9,25.5 L605.5,26.0 L606.0,26.5 L606.5,27.1 L607.0,27.7 L607.4,28.3 L607.7,29.0 L608.1,29.6 L608.4,30.3 L608.7,31.0 L609.0,31.7 L609.3,32.4 L609.6,33.1 L609.8,33.8 L610.1,34.5 L610.4,35.2 L610.6,35.9 L610.9,36.6 L611.1,37.3 L611.4,38.0 L611.6,38.7 L611.8,39.4 L612.1,40.1 L612.3,40.8 L612.6,41.5 L612.8,42.2 L613.1,42.9 L613.3,43.7 L613.6,44.4 L613.8,45.1 L614.0,45.8 L614.2,46.5 L614.4,47.3 L614.6,48.0 L614.8,48.7 L615.0,49.4 L615.2,50.2 L615.3,50.9 L615.5,51.6 L615.7,52.3 L615.9,53.1 L616.1,53.8 L616.2,54.5 L616.4,55.3 L616.6,56.0 L616.8,56.7 L616.9,57.4 L617.1,58.2 L617.3,58.9 L617.4,59.6 L617.6,60.4 L617.8,61.1 L617.9,61.8 L618.1,62.6 L618.3,63.3 L618.4,64.0 L618.6,64.8 L618.7,65.5 L618.9,66.2 L619.1,67.0 L619.3,67.7 L619.4,68.4 L619.6,69.1 L619.8,69.9 L620.0,70.6 L620.1,71.3 L620.3,72.1 L620.5,72.8 L620.7,73.5 L620.9,74.2 L621.1,75.0 L621.3,75.7 L621.5,76.4 L621.7,77.1 L621.9,77.8 L622.1,78.6 L622.3,79.3 L622.5,80.0 L622.7,80.7 L622.9,81.5 L623.1,82.2 L623.3,82.9 L623.5,83.6 L623.7,84.4 L623.9,85.1 L624.1,85.8 L624.3,86.5 L624.5,87.2 L624.7,88.0 L624.9,88.7 L625.1,89.4 L625.3,90.1 L625.5,90.8 L625.7,91.6 L625.9,92.3 L626.1,93.0 L626.3,93.7 L626.5,94.5 L626.7,95.2 L626.9,95.9 L627.1,96.6 L627.3,97.3 L627.5,98.1 L627.7,98.8 L627.9,99.5 L628.0,100.3 L628.2,101.0 L628.4,101.7 L628.6,102.5 L628.7,103.2 L628.9,103.9 L629.1,104.6 L629.3,105.4 L629.5,106.1 L629.7,106.8 L629.9,107.5 L630.1,108.3 L630.3,109.0 L630.5,109.7 L630.8,110.4 L631.1,111.1 L631.4,111.8 L631.7,112.5 L632.0,113.1 L632.3,113.8 L632.6,114.5 L632.9,115.2 L633.3,115.8 L633.6,116.5 L634.0,117.2 L634.3,117.8 L634.7,118.5 L635.0,119.2 L635.4,119.8 L635.8,120.5 L636.2,121.1 L636.5,121.8 L636.9,122.4 L637.3,123.0 L637.7,123.7 L638.1,124.3 L638.5,124.9 L639.0,125.5 L639.4,126.1 L639.9,126.7 L640.3,127.3 L640.8,127.9 L641.3,128.5 L641.8,129.0 L642.3,129.6 L642.8,130.2 L643.3,130.7 L643.8,131.3 L644.3,131.8 L644.9,132.3 L645.4,132.8 L646.0,133.3 L646.6,133.8 L647.2,134.2 L647.8,134.7 L648.4,135.1 L649.0,135.5 L649.7,135.9 L650.3,136.3 L650.9,136.7 L651.6,137.0 L652.3,137.4 L652.9,137.8 L653.6,138.1 L654.3,138.4 L654.9,138.7 L655.6,139.0 L656.3,139.3 L657.0,139.6 L657.7,139.9 L658.4,140.1 L659.1,140.4 L659.8,140.6 L660.5,140.9 L661.3,141.1 L662.0,141.3 L662.7,141.5 L663.4,141.7 L664.1,141.9 L664.9,142.1 L665.6,142.3 L666.3,142.5 L667.1,142.6 L667.8,142.8 L668.5,143.0 L669.3,143.1 L670.0,143.2 L670.7,143.4 L671.5,143.5 L672.2,143.6 L672.9,143.8 L673.7,143.9 L674.4,144.0 L675.2,144.1 L675.9,144.2 L676.7,144.3 L677.4,144.4 L678.1,144.5 L678.9,144.6 L679.6,144.7 L680.4,144.8 L681.1,144.8 L681.9,144.9 L682.6,145.0 L683.2,145.0 L683.7,145.1 L683.9,145.1" fill="none" stroke="#b45cff" stroke-width="1.5" clip-path="url(#clip30)" stroke-linejoin="round"/>
<path d="M519.7,146.7 L520.1,146.7 L520.8,146.7 L521.5,146.8 L522.2,146.8 L522.9,146.8 L523.7,146.8 L524.4,146.8 L525.2,146.8 L525.9,146.8 L526.7,146.8 L527.4,146.8 L528.2,146.9 L528.9,146.9 L529.7,146.9 L530.4,146.9 L531.2,146.9 L531.9,146.9 L532.7,146.9 L533.4,146.9 L534.2,146.9 L534.9,146.9 L535.7,146.9 L536.4,146.9 L537.2,146.9 L537.9,146.9 L538.7,146.9 L539.4,146.9 L540.2,146.9 L540.9,146.9 L541.7,146.9 L542.4,146.9 L543.2,146.9 L543.9,146.8 L544.7,146.8 L545.4,146.7 L546.2,146.6 L546.9,146.5 L547.7,146.4 L548.4,146.3 L549.1,146.2 L549.9,146.0 L550.6,145.8 L551.3,145.6 L552.0,145.4 L552.7,145.0 L553.3,144.7 L553.9,144.2 L554.5,143.7 L555.0,143.2 L555.5,142.7 L556.0,142.1 L556.5,141.5 L556.9,140.9 L557.3,140.3 L557.7,139.6 L558.1,139.0 L558.4,138.3 L558.7,137.6 L559.0,136.9 L559.3,136.3 L559.6,135.6 L559.9,134.9 L560.1,134.2 L560.4,133.5 L560.6,132.8 L560.9,132.0 L561.1,131.3 L561.3,130.6 L561.5,129.9 L561.7,129.2 L561.9,128.4 L562.1,127.7 L562.3,127.0 L562.5,126.3 L562.7,125.5 L562.9,124.8 L563.0,124.1 L563.2,123.4 L563.4,122.6 L563.6,121.9 L563.8,121.2 L564.0,120.5 L564.2,119.7 L564.4,119.0 L564.6,118.3 L564.8,117.6 L564.9,116.8 L565.1,116.1 L565.3,115.4 L565.5,114.7 L565.7,113.9 L565.8,113.2 L566.0,112.5 L566.2,111.7 L566.4,111.0 L566.5,110.3 L566.7,109.5 L566.8,108.8 L567.0,108.1 L567.1,107.3 L567.3,106.6 L567.5,105.9 L567.6,105.1 L567.8,104.4 L567.9,103.7 L568.1,102.9 L568.2,102.2 L568.4,101.5 L568.5,100.7 L568.7,100.0 L568.9,99.3 L569.0,98.5 L569.2,97.8 L569.3,97.1 L569.5,96.3 L569.7,95.6 L569.8,94.9 L570.0,94.1 L570.2,93.4 L570.3,92.7 L570.5,91.9 L570.6,91.2 L570.8,90.5 L571.0,89.7 L571.2,89.0 L571.3,88.3 L571.5,87.6 L571.7,86.8 L571.8,86.1 L572.0,85.4 L572.2,84.6 L572.4,83.9 L572.6,83.2 L572.7,82.5 L572.9,81.7 L573.1,81.0 L573.3,80.3 L573.5,79.6 L573.7,78.8 L573.9,78.1 L574.1,77.4 L574.3,76.7 L574.5,75.9 L574.6,75.2 L574.8,74.5 L575.0,73.8 L575.2,73.0 L575.4,72.3 L575.6,71.6 L575.8,70.9 L576.0,70.1 L576.2,69.4 L576.4,68.7 L576.6,68.0 L576.8,67.2 L576.9,66.5 L577.1,65.8 L577.3,65.1 L577.5,64.3 L577.7,63.6 L577.9,62.9 L578.1,62.2 L578.3,61.4 L578.5,60.7 L578.7,60.0 L578.9,59.3 L579.1,58.5 L579.3,57.8 L579.5,57.1 L579.7,56.4 L579.9,55.7 L580.2,54.9 L580.4,54.2 L580.6,53.5 L580.8,52.8 L581.0,52.1 L581.2,51.3 L581.4,50.6 L581.6,49.9 L581.8,49.2 L582.0,48.5 L582.2,47.7 L582.4,47.0 L582.6,46.3 L582.8,45.6 L583.0,44.8 L583.2,44.1 L583.4,43.4 L583.6,42.7 L583.8,42.0 L584.0,41.2 L584.2,40.5 L584.4,39.8 L584.7,39.1 L584.9,38.3 L585.1,37.6 L585.3,36.9 L585.5,36.2 L585.8,35.5 L586.0,34.8 L586.3,34.1 L586.6,33.4 L586.9,32.7 L587.2,32.0 L587.5,31.4 L587.9,30.7 L588.2,30.0 L588.5,29.3 L588.9,28.7 L589.3,28.1 L589.7,27.5 L590.2,26.9 L590.8,26.5 L591.4,26.0 L592.1,25.7 L592.7,25.3 L593.4,25.1 L594.1,25.0 L594.8,25.0 L595.5,25.2 L596.2,25.5 L596.8,25.8 L597.5,26.3 L598.0,26.7 L598.6,27.2 L599.1,27.8 L599.5,28.4 L599.9,29.0 L600.3,29.7 L600.7,30.3 L601.0,31.0 L601.4,31.6 L601.7,32.3 L602.1,33.0 L602.4,33.6 L602.8,34.3 L603.1,35.0 L603.4,35.6 L603.8,36.3 L604.1,37.0 L604.4,37.7 L604.7,38.3 L605.0,39.0 L605.4,39.7 L605.7,40.4 L606.0,41.0 L606.4,41.7 L606.7,42.4 L607.0,43.1 L607.3,43.8 L607.6,44.4 L607.9,45.1 L608.2,45.8 L608.5,46.5 L608.8,47.2 L609.0,47.9 L609.3,48.6 L609.5,49.3 L609.8,50.0 L610.0,50.7 L610.3,51.4 L610.5,52.2 L610.8,52.9 L611.0,53.6 L611.3,54.3 L611.5,55.0 L611.8,55.7 L612.0,56.4 L612.3,57.1 L612.5,57.8 L612.8,58.5 L613.0,59.2 L613.2,60.0 L613.5,60.7 L613.7,61.4 L614.0,62.1 L614.2,62.8 L614.4,63.5 L614.7,64.2 L614.9,64.9 L615.2,65.6 L615.4,66.3 L615.6,67.1 L615.9,67.8 L616.1,68.5 L616.4,69.2 L616.7,69.9 L616.9,70.6 L617.2,71.3 L617.5,72.0 L617.7,72.7 L618.0,73.4 L618.3,74.1 L618.6,74.8 L618.9,75.5 L619.2,76.1 L619.4,76.8 L619.7,77.5 L620.0,78.2 L620.3,78.9 L620.6,79.6 L620.9,80.3 L621.2,81.0 L621.5,81.7 L621.8,82.4 L622.1,83.1 L622.3,83.8 L622.6,84.5 L622.9,85.1 L623.2,85.8 L623.5,86.5 L623.8,87.2 L624.0,87.9 L624.3,88.6 L624.6,89.3 L624.9,90.0 L625.2,90.7 L625.5,91.4 L625.7,92.1 L626.0,92.8 L626.3,93.5 L626.6,94.2 L626.9,94.8 L627.2,95.5 L627.5,96.2 L627.8,96.9 L628.1,97.6 L628.4,98.3 L628.7,99.0 L629.0,99.7 L629.3,100.3 L629.6,101.0 L629.9,101.7 L630.2,102.4 L630.5,103.1 L630.8,103.8 L631.2,104.5 L631.5,105.1 L631.8,105.8 L632.2,106.5 L632.5,107.1 L632.9,107.8 L633.3,108.4 L633.7,109.0 L634.2,109.6 L634.7,110.1 L635.2,110.7 L635.8,111.2 L636.3,111.7 L636.8,112.3 L637.3,112.9 L637.7,113.5 L638.2,114.1 L638.6,114.7 L639.0,115.3 L639.4,115.9 L639.8,116.6 L640.3,117.2 L640.7,117.8 L641.1,118.4 L641.6,119.0 L642.0,119.6 L642.5,120.2 L642.9,120.8 L643.4,121.4 L643.9,121.9 L644.4,122.5 L644.9,123.1 L645.4,123.6 L645.9,124.2 L646.4,124.7 L646.9,125.2 L647.5,125.8 L648.0,126.3 L648.6,126.8 L649.1,127.3 L649.7,127.8 L650.2,128.3 L650.8,128.8 L651.3,129.3 L651.9,129.8 L652.5,130.3 L653.1,130.7 L653.7,131.2 L654.3,131.6 L655.0,132.0 L655.6,132.4 L656.3,132.7 L656.9,133.1 L657.6,133.5 L658.2,133.8 L658.9,134.2 L659.6,134.5 L660.2,134.8 L660.9,135.1 L661.6,135.4 L662.3,135.7 L663.0,136.0 L663.7,136.2 L664.4,136.4 L665.2,136.6 L665.9,136.8 L666.6,137.0 L667.3,137.2 L668.1,137.4 L668.8,137.6 L669.5,137.8 L670.2,138.0 L671.0,138.1 L671.7,138.3 L672.4,138.5 L673.2,138.6 L673.9,138.8 L674.6,138.9 L675.4,139.1 L676.1,139.2 L676.9,139.3 L677.6,139.4 L678.3,139.6 L679.1,139.6 L679.8,139.7 L680.6,139.8 L681.3,139.9 L682.1,139.9 L682.8,140.0 L683.4,140.0 L683.8,140.0 L683.8,140.0" fill="none" stroke="#5470ff" stroke-width="1.5" clip-path="url(#clip30)" stroke-linejoin="round"/>
<path d="M519.7,146.5 L520.1,146.5 L520.8,146.5 L521.5,146.5 L522.2,146.5 L523.0,146.5 L523.7,146.5 L524.4,146.5 L525.2,146.5 L525.9,146.5 L526.7,146.4 L527.4,146.4 L528.2,146.4 L528.9,146.4 L529.7,146.4 L530.4,146.4 L531.2,146.4 L531.9,146.3 L532.7,146.3 L533.4,146.3 L534.2,146.3 L534.9,146.2 L535.7,146.2 L536.4,146.1 L537.2,146.0 L537.9,145.9 L538.7,145.8 L539.4,145.7 L540.1,145.5 L540.9,145.3 L541.6,145.1 L542.3,144.9 L543.0,144.7 L543.7,144.4 L544.4,144.2 L545.1,143.9 L545.8,143.6 L546.5,143.2 L547.1,142.8 L547.7,142.4 L548.3,142.0 L548.9,141.5 L549.5,141.0 L550.0,140.5 L550.6,140.0 L551.1,139.4 L551.5,138.8 L552.0,138.2 L552.4,137.6 L552.8,137.0 L553.2,136.3 L553.5,135.7 L553.9,135.0 L554.2,134.3 L554.5,133.7 L554.8,133.0 L555.1,132.3 L555.4,131.6 L555.7,130.9 L556.0,130.2 L556.2,129.5 L556.4,128.8 L556.7,128.1 L556.9,127.4 L557.1,126.6 L557.3,125.9 L557.5,125.2 L557.7,124.5 L557.9,123.7 L558.1,123.0 L558.3,122.3 L558.5,121.6 L558.7,120.9 L558.9,120.1 L559.1,119.4 L559.2,118.7 L559.4,117.9 L559.6,117.2 L559.8,116.5 L560.0,115.8 L560.1,115.0 L560.3,114.3 L560.5,113.6 L560.6,112.8 L560.8,112.1 L561.0,111.4 L561.1,110.6 L561.3,109.9 L561.5,109.2 L561.6,108.4 L561.8,107.7 L561.9,107.0 L562.1,106.2 L562.3,105.5 L562.4,104.8 L562.6,104.0 L562.7,103.3 L562.9,102.6 L563.0,101.8 L563.2,101.1 L563.3,100.4 L563.5,99.6 L563.6,98.9 L563.8,98.2 L563.9,97.4 L564.1,96.7 L564.2,96.0 L564.3,95.2 L564.5,94.5 L564.6,93.7 L564.8,93.0 L564.9,92.3 L565.0,91.5 L565.2,90.8 L565.3,90.1 L565.5,89.3 L565.6,88.6 L565.7,87.9 L565.9,87.1 L566.0,86.4 L566.2,85.6 L566.3,84.9 L566.5,84.2 L566.6,83.4 L566.8,82.7 L566.9,82.0 L567.0,81.2 L567.2,80.5 L567.3,79.8 L567.5,79.0 L567.6,78.3 L567.8,77.5 L567.9,76.8 L568.1,76.1 L568.2,75.3 L568.4,74.6 L568.5,73.9 L568.7,73.1 L568.8,72.4 L569.0,71.7 L569.1,70.9 L569.3,70.2 L569.4,69.5 L569.6,68.7 L569.8,68.0 L569.9,67.3 L570.1,66.5 L570.3,65.8 L570.4,65.1 L570.6,64.4 L570.8,63.6 L570.9,62.9 L571.1,62.2 L571.3,61.4 L571.4,60.7 L571.6,60.0 L571.8,59.2 L572.0,58.5 L572.1,57.8 L572.3,57.0 L572.5,56.3 L572.7,55.6 L572.8,54.9 L573.0,54.1 L573.2,53.4 L573.4,52.7 L573.5,51.9 L573.7,51.2 L573.9,50.5 L574.1,49.8 L574.2,49.0 L574.4,48.3 L574.5,47.6 L574.7,46.8 L574.9,46.1 L575.0,45.4 L575.2,44.6 L575.3,43.9 L575.5,43.2 L575.7,42.4 L575.9,41.7 L576.0,41.0 L576.2,40.3 L576.4,39.5 L576.7,38.8 L576.9,38.1 L577.1,37.4 L577.4,36.7 L577.6,36.0 L577.9,35.3 L578.2,34.6 L578.5,33.9 L578.8,33.2 L579.1,32.5 L579.4,31.8 L579.7,31.2 L580.0,30.5 L580.3,29.8 L580.6,29.1 L581.0,28.4 L581.3,27.8 L581.8,27.2 L582.3,26.7 L582.8,26.2 L583.4,25.8 L584.1,25.4 L584.8,25.2 L585.5,25.1 L586.2,25.2 L586.8,25.4 L587.5,25.8 L588.1,26.2 L588.7,26.6 L589.3,27.1 L589.8,27.7 L590.3,28.2 L590.8,28.8 L591.2,29.4 L591.6,30.0 L592.0,30.6 L592.4,31.3 L592.8,31.9 L593.2,32.6 L593.6,33.2 L593.9,33.9 L594.3,34.5 L594.6,35.2 L594.9,35.9 L595.2,36.6 L595.6,37.3 L595.9,37.9 L596.2,38.6 L596.5,39.3 L596.8,40.0 L597.1,40.7 L597.4,41.3 L597.8,42.0 L598.1,42.7 L598.4,43.4 L598.7,44.0 L599.1,44.7 L599.4,45.4 L599.7,46.1 L600.0,46.8 L600.3,47.4 L600.6,48.1 L601.0,48.8 L601.3,49.5 L601.6,50.2 L601.9,50.9 L602.2,51.5 L602.5,52.2 L602.8,52.9 L603.1,53.6 L603.4,54.3 L603.7,55.0 L604.0,55.7 L604.3,56.3 L604.6,57.0 L604.9,57.7 L605.1,58.4 L605.4,59.1 L605.7,59.8 L606.0,60.5 L606.3,61.2 L606.5,61.9 L606.8,62.6 L607.1,63.3 L607.4,64.0 L607.7,64.7 L608.0,65.4 L608.2,66.1 L608.5,66.8 L608.8,67.5 L609.1,68.2 L609.4,68.8 L609.7,69.5 L610.0,70.2 L610.3,70.9 L610.7,71.6 L611.0,72.2 L611.3,72.9 L611.7,73.6 L612.0,74.2 L612.4,74.9 L612.8,75.5 L613.1,76.2 L613.5,76.9 L613.8,77.5 L614.2,78.2 L614.5,78.8 L614.9,79.5 L615.2,80.2 L615.6,80.8 L615.9,81.5 L616.3,82.2 L616.6,82.8 L616.9,83.5 L617.2,84.2 L617.5,84.9 L617.9,85.6 L618.2,86.2 L618.5,86.9 L618.8,87.6 L619.1,88.3 L619.4,89.0 L619.7,89.7 L620.0,90.3 L620.4,91.0 L620.7,91.7 L621.0,92.4 L621.3,93.1 L621.6,93.7 L622.0,94.4 L622.3,95.1 L622.6,95.8 L623.0,96.4 L623.3,97.1 L623.7,97.7 L624.1,98.4 L624.4,99.0 L624.8,99.7 L625.2,100.3 L625.6,101.0 L625.9,101.6 L626.3,102.3 L626.7,102.9 L627.1,103.5 L627.5,104.2 L627.9,104.8 L628.3,105.5 L628.7,106.1 L629.1,106.7 L629.5,107.4 L629.9,108.0 L630.3,108.6 L630.7,109.2 L631.1,109.9 L631.5,110.5 L631.9,111.1 L632.3,111.8 L632.7,112.4 L633.1,113.1 L633.5,113.7 L633.9,114.3 L634.3,115.0 L634.7,115.6 L635.2,116.2 L635.6,116.8 L636.0,117.5 L636.4,118.1 L636.8,118.7 L637.3,119.3 L637.7,119.9 L638.2,120.5 L638.7,121.1 L639.2,121.6 L639.7,122.2 L640.2,122.8 L640.7,123.3 L641.2,123.8 L641.7,124.4 L642.3,124.9 L642.8,125.4 L643.4,125.9 L644.0,126.4 L644.5,126.9 L645.1,127.3 L645.7,127.8 L646.3,128.3 L646.8,128.8 L647.4,129.2 L648.0,129.7 L648.6,130.2 L649.2,130.6 L649.8,131.1 L650.4,131.5 L651.0,132.0 L651.6,132.4 L652.3,132.8 L652.9,133.2 L653.6,133.5 L654.2,133.9 L654.9,134.2 L655.6,134.6 L656.2,134.9 L656.9,135.2 L657.6,135.5 L658.3,135.8 L659.0,136.1 L659.7,136.4 L660.4,136.7 L661.1,136.9 L661.8,137.2 L662.5,137.4 L663.2,137.6 L663.9,137.9 L664.6,138.1 L665.4,138.3 L666.1,138.5 L666.8,138.6 L667.5,138.8 L668.3,139.0 L669.0,139.2 L669.7,139.4 L670.5,139.5 L671.2,139.7 L671.9,139.9 L672.6,140.0 L673.4,140.2 L674.1,140.3 L674.9,140.5 L675.6,140.6 L676.3,140.8 L677.1,140.9 L677.8,141.0 L678.5,141.1 L679.3,141.2 L680.0,141.3 L680.8,141.4 L681.5,141.5 L682.2,141.6 L682.9,141.6 L683.5,141.6 L683.9,141.7 L683.9,141.7" fill="none" stroke="#1ef0a8" stroke-width="1.5" clip-path="url(#clip30)" stroke-linejoin="round"/>
<path d="M519.7,146.1 L520.1,146.1 L520.8,146.1 L521.5,146.1 L522.2,146.1 L523.0,146.1 L523.7,146.1 L524.4,146.1 L525.2,146.1 L525.9,146.1 L526.7,146.0 L527.4,146.0 L528.2,145.9 L528.9,145.9 L529.7,145.8 L530.4,145.7 L531.2,145.6 L531.9,145.5 L532.7,145.3 L533.4,145.2 L534.1,145.0 L534.8,144.8 L535.5,144.5 L536.2,144.2 L536.9,143.9 L537.6,143.6 L538.2,143.2 L538.9,142.8 L539.5,142.4 L540.0,141.9 L540.6,141.4 L541.1,140.9 L541.6,140.3 L542.1,139.7 L542.5,139.1 L543.0,138.5 L543.4,137.9 L543.8,137.3 L544.2,136.7 L544.6,136.0 L544.9,135.3 L545.3,134.7 L545.6,134.0 L545.9,133.3 L546.3,132.7 L546.6,132.0 L546.9,131.3 L547.2,130.6 L547.4,129.9 L547.7,129.2 L548.0,128.5 L548.3,127.8 L548.5,127.1 L548.8,126.4 L549.0,125.7 L549.3,125.0 L549.5,124.3 L549.7,123.5 L549.9,122.8 L550.1,122.1 L550.4,121.4 L550.5,120.7 L550.7,119.9 L550.9,119.2 L551.1,118.5 L551.3,117.8 L551.5,117.0 L551.6,116.3 L551.8,115.6 L552.0,114.8 L552.1,114.1 L552.3,113.4 L552.5,112.6 L552.6,111.9 L552.8,111.2 L553.0,110.5 L553.1,109.7 L553.3,109.0 L553.5,108.3 L553.6,107.5 L553.8,106.8 L553.9,106.1 L554.1,105.3 L554.2,104.6 L554.4,103.9 L554.5,103.1 L554.7,102.4 L554.9,101.6 L555.0,100.9 L555.2,100.2 L555.3,99.4 L555.5,98.7 L555.6,98.0 L555.8,97.2 L555.9,96.5 L556.1,95.8 L556.2,95.0 L556.4,94.3 L556.5,93.6 L556.7,92.8 L556.8,92.1 L557.0,91.4 L557.1,90.6 L557.3,89.9 L557.4,89.2 L557.6,88.4 L557.7,87.7 L557.9,87.0 L558.0,86.2 L558.2,85.5 L558.3,84.8 L558.5,84.0 L558.7,83.3 L558.8,82.6 L559.0,81.8 L559.1,81.1 L559.2,80.3 L559.4,79.6 L559.5,78.9 L559.7,78.1 L559.8,77.4 L560.0,76.7 L560.2,75.9 L560.3,75.2 L560.5,74.5 L560.6,73.7 L560.8,73.0 L560.9,72.3 L561.1,71.5 L561.3,70.8 L561.4,70.1 L561.6,69.3 L561.8,68.6 L561.9,67.9 L562.1,67.2 L562.3,66.4 L562.5,65.7 L562.6,65.0 L562.8,64.2 L563.0,63.5 L563.2,62.8 L563.4,62.1 L563.6,61.3 L563.7,60.6 L563.9,59.9 L564.1,59.2 L564.3,58.4 L564.5,57.7 L564.7,57.0 L564.9,56.3 L565.2,55.6 L565.4,54.8 L565.6,54.1 L565.8,53.4 L566.0,52.7 L566.2,52.0 L566.4,51.2 L566.6,50.5 L566.9,49.8 L567.1,49.1 L567.3,48.4 L567.5,47.6 L567.7,46.9 L567.9,46.2 L568.1,45.5 L568.3,44.8 L568.5,44.0 L568.7,43.3 L569.0,42.6 L569.2,41.9 L569.4,41.2 L569.6,40.4 L569.8,39.7 L570.0,39.0 L570.1,38.3 L570.3,37.5 L570.5,36.8 L570.7,36.1 L570.9,35.4 L571.2,34.6 L571.4,33.9 L571.7,33.2 L572.0,32.6 L572.3,31.9 L572.6,31.2 L572.9,30.5 L573.3,29.9 L573.7,29.2 L574.1,28.6 L574.5,28.0 L575.0,27.4 L575.5,26.9 L576.0,26.4 L576.7,26.0 L577.3,25.6 L578.0,25.3 L578.7,25.2 L579.4,25.1 L580.1,25.2 L580.8,25.3 L581.5,25.6 L582.1,26.0 L582.8,26.4 L583.4,26.8 L584.0,27.3 L584.5,27.8 L585.0,28.3 L585.5,28.9 L585.9,29.5 L586.4,30.1 L586.8,30.8 L587.2,31.4 L587.5,32.1 L587.9,32.7 L588.3,33.4 L588.6,34.0 L588.9,34.7 L589.2,35.4 L589.5,36.1 L589.7,36.8 L590.0,37.5 L590.2,38.2 L590.5,38.9 L590.7,39.6 L591.0,40.3 L591.3,41.0 L591.6,41.7 L591.9,42.4 L592.2,43.1 L592.5,43.8 L592.8,44.5 L593.1,45.1 L593.4,45.8 L593.7,46.5 L594.1,47.2 L594.4,47.8 L594.8,48.5 L595.1,49.2 L595.5,49.8 L595.9,50.5 L596.2,51.1 L596.6,51.8 L596.9,52.4 L597.3,53.1 L597.7,53.8 L598.0,54.4 L598.3,55.1 L598.7,55.8 L599.0,56.4 L599.3,57.1 L599.6,57.8 L600.0,58.5 L600.3,59.2 L600.6,59.8 L600.9,60.5 L601.2,61.2 L601.5,61.9 L601.8,62.6 L602.1,63.2 L602.5,63.9 L602.8,64.6 L603.1,65.3 L603.4,66.0 L603.7,66.7 L604.0,67.3 L604.3,68.0 L604.7,68.7 L605.0,69.4 L605.3,70.0 L605.7,70.7 L606.0,71.4 L606.3,72.0 L606.7,72.7 L607.0,73.4 L607.4,74.0 L607.8,74.7 L608.1,75.3 L608.5,76.0 L608.9,76.7 L609.2,77.3 L609.6,78.0 L610.0,78.6 L610.3,79.3 L610.7,79.9 L611.0,80.6 L611.4,81.2 L611.8,81.9 L612.1,82.6 L612.5,83.2 L612.8,83.9 L613.2,84.6 L613.5,85.2 L613.9,85.9 L614.2,86.6 L614.5,87.2 L614.9,87.9 L615.2,88.5 L615.6,89.2 L615.9,89.9 L616.3,90.5 L616.6,91.2 L617.0,91.9 L617.3,92.5 L617.7,93.2 L618.0,93.9 L618.4,94.5 L618.8,95.2 L619.1,95.8 L619.5,96.5 L619.9,97.1 L620.2,97.8 L620.6,98.4 L621.0,99.1 L621.4,99.7 L621.8,100.4 L622.1,101.0 L622.5,101.7 L622.9,102.3 L623.3,102.9 L623.7,103.6 L624.1,104.2 L624.5,104.9 L624.9,105.5 L625.3,106.1 L625.7,106.8 L626.1,107.4 L626.5,108.0 L626.9,108.6 L627.4,109.3 L627.8,109.9 L628.2,110.5 L628.6,111.1 L629.1,111.7 L629.5,112.3 L629.9,112.9 L630.4,113.5 L630.8,114.1 L631.3,114.7 L631.7,115.3 L632.2,115.9 L632.7,116.5 L633.1,117.1 L633.6,117.7 L634.1,118.3 L634.6,118.8 L635.0,119.4 L635.5,120.0 L636.1,120.5 L636.6,121.1 L637.1,121.6 L637.6,122.1 L638.2,122.6 L638.7,123.2 L639.3,123.7 L639.8,124.2 L640.4,124.7 L641.0,125.2 L641.5,125.6 L642.1,126.1 L642.7,126.6 L643.3,127.0 L643.9,127.5 L644.5,127.9 L645.1,128.3 L645.8,128.7 L646.4,129.1 L647.0,129.6 L647.7,129.9 L648.3,130.3 L648.9,130.7 L649.6,131.1 L650.3,131.4 L650.9,131.8 L651.6,132.1 L652.3,132.5 L652.9,132.8 L653.6,133.1 L654.3,133.4 L655.0,133.7 L655.7,134.0 L656.4,134.3 L657.1,134.5 L657.8,134.8 L658.5,135.1 L659.2,135.3 L659.9,135.6 L660.6,135.8 L661.3,136.0 L662.0,136.3 L662.8,136.5 L663.5,136.7 L664.2,136.9 L664.9,137.0 L665.7,137.2 L666.4,137.4 L667.1,137.5 L667.9,137.7 L668.6,137.8 L669.3,138.0 L670.1,138.1 L670.8,138.2 L671.5,138.4 L672.3,138.5 L673.0,138.6 L673.8,138.7 L674.5,138.8 L675.3,138.9 L676.0,139.0 L676.7,139.1 L677.5,139.2 L678.2,139.3 L679.0,139.4 L679.7,139.5 L680.5,139.6 L681.2,139.6 L681.9,139.7 L682.7,139.8 L683.3,139.8 L683.8,139.9 L683.9,139.9" fill="none" stroke="#86e01e" stroke-width="1.5" clip-path="url(#clip30)" stroke-linejoin="round"/>
<path d="M493.6,348.1 L494.0,348.1 L494.7,348.1 L495.4,348.1 L496.1,348.1 L496.9,348.1 L497.6,348.1 L498.3,348.1 L499.1,348.1 L499.8,348.1 L500.6,348.1 L501.3,348.1 L502.1,348.1 L502.8,348.1 L503.6,348.1 L504.3,348.1 L505.1,348.1 L505.8,348.1 L506.6,348.1 L507.3,348.1 L508.1,348.1 L508.8,348.1 L509.6,348.1 L510.3,348.1 L511.1,348.1 L511.8,348.1 L512.6,348.1 L513.3,348.1 L514.1,348.1 L514.8,348.1 L515.6,348.1 L516.3,348.1 L517.1,348.1 L517.8,348.1 L518.6,348.1 L519.3,348.1 L520.1,348.1 L520.8,348.1 L521.6,348.1 L522.3,348.0 L523.1,348.0 L523.8,348.0 L524.6,348.0 L525.3,348.0 L526.1,348.0 L526.8,348.0 L527.6,348.0 L528.3,348.0 L529.1,348.0 L529.8,348.0 L530.6,348.0 L531.3,348.0 L532.1,348.0 L532.8,348.0 L533.6,348.0 L534.3,348.0 L535.1,348.0 L535.8,348.0 L536.6,348.0 L537.3,348.0 L538.1,348.0 L538.8,348.0 L539.6,348.0 L540.3,348.0 L541.1,348.0 L541.8,348.0 L542.6,347.9 L543.3,347.9 L544.1,347.9 L544.8,347.9 L545.6,347.9 L546.3,347.9 L547.1,347.9 L547.8,347.9 L548.6,347.9 L549.3,347.9 L550.1,347.8 L550.8,347.8 L551.6,347.7 L552.3,347.6 L553.1,347.5 L553.8,347.3 L554.5,347.2 L555.3,347.1 L556.0,347.0 L556.8,346.8 L557.5,346.7 L558.3,346.6 L559.0,346.5 L559.7,346.4 L560.5,346.3 L561.2,346.2 L561.9,346.0 L562.7,345.8 L563.3,345.5 L564.0,345.2 L564.6,344.8 L565.1,344.3 L565.6,343.7 L566.0,343.1 L566.3,342.4 L566.6,341.7 L566.8,341.0 L567.0,340.3 L567.2,339.6 L567.4,338.8 L567.5,338.1 L567.7,337.4 L567.8,336.6 L567.9,335.9 L568.1,335.2 L568.2,334.4 L568.3,333.7 L568.3,332.9 L568.4,332.2 L568.5,331.4 L568.6,330.7 L568.7,329.9 L568.7,329.2 L568.8,328.5 L568.9,327.7 L569.0,327.0 L569.1,326.2 L569.1,325.5 L569.2,324.7 L569.3,324.0 L569.4,323.2 L569.4,322.5 L569.5,321.7 L569.6,321.0 L569.6,320.2 L569.7,319.5 L569.8,318.8 L569.8,318.0 L569.9,317.3 L570.0,316.5 L570.1,315.8 L570.2,315.0 L570.2,314.3 L570.3,313.5 L570.4,312.8 L570.5,312.0 L570.6,311.3 L570.7,310.6 L570.8,309.8 L570.9,309.1 L571.0,308.3 L571.1,307.6 L571.2,306.8 L571.3,306.1 L571.4,305.4 L571.5,304.6 L571.6,303.9 L571.7,303.1 L571.8,302.4 L571.9,301.6 L571.9,300.9 L572.0,300.1 L572.1,299.4 L572.2,298.6 L572.2,297.9 L572.3,297.2 L572.4,296.4 L572.5,295.7 L572.5,294.9 L572.6,294.2 L572.7,293.4 L572.7,292.7 L572.8,291.9 L572.9,291.2 L572.9,290.4 L573.0,289.7 L573.1,288.9 L573.1,288.2 L573.2,287.4 L573.3,286.7 L573.3,286.0 L573.4,285.2 L573.4,284.5 L573.5,283.7 L573.5,283.0 L573.6,282.2 L573.7,281.5 L573.7,280.7 L573.8,280.0 L573.8,279.2 L573.9,278.5 L574.0,277.7 L574.0,277.0 L574.1,276.2 L574.2,275.5 L574.2,274.7 L574.3,274.0 L574.4,273.2 L574.5,272.5 L574.6,271.8 L574.7,271.0 L574.8,270.3 L574.9,269.5 L575.0,268.8 L575.0,268.0 L575.1,267.3 L575.2,266.5 L575.3,265.8 L575.4,265.1 L575.4,264.3 L575.5,263.6 L575.5,262.8 L575.6,262.1 L575.6,261.3 L575.7,260.6 L575.7,259.8 L575.8,259.1 L575.8,258.3 L575.9,257.6 L576.0,256.8 L576.0,256.1 L576.1,255.3 L576.1,254.6 L576.2,253.8 L576.3,253.1 L576.4,252.3 L576.5,251.6 L576.6,250.9 L576.7,250.1 L576.8,249.4 L576.9,248.6 L577.0,247.9 L577.1,247.1 L577.2,246.4 L577.3,245.7 L577.4,244.9 L577.5,244.2 L577.6,243.4 L577.7,242.7 L577.8,241.9 L577.9,241.2 L578.0,240.5 L578.1,239.7 L578.2,239.0 L578.4,238.2 L578.5,237.5 L578.6,236.8 L578.8,236.0 L579.0,235.3 L579.1,234.6 L579.3,233.9 L579.6,233.2 L579.9,232.5 L580.3,231.9 L580.7,231.5 L581.2,231.3 L581.6,231.5 L582.0,231.9 L582.4,232.5 L582.7,233.2 L583.0,233.9 L583.2,234.6 L583.5,235.3 L583.7,236.0 L583.9,236.7 L584.1,237.4 L584.2,238.2 L584.4,238.9 L584.6,239.6 L584.8,240.4 L584.9,241.1 L585.1,241.8 L585.2,242.6 L585.4,243.3 L585.5,244.0 L585.7,244.8 L585.8,245.5 L585.9,246.3 L586.0,247.0 L586.2,247.7 L586.3,248.5 L586.4,249.2 L586.5,250.0 L586.6,250.7 L586.7,251.4 L586.8,252.2 L586.8,252.9 L586.9,253.7 L587.0,254.4 L587.1,255.2 L587.1,255.9 L587.2,256.7 L587.3,257.4 L587.4,258.2 L587.5,258.9 L587.6,259.6 L587.7,260.4 L587.8,261.1 L587.9,261.9 L588.0,262.6 L588.1,263.4 L588.2,264.1 L588.3,264.8 L588.4,265.6 L588.5,266.3 L588.6,267.1 L588.7,267.8 L588.8,268.6 L588.9,269.3 L589.1,270.0 L589.2,270.8 L589.3,271.5 L589.4,272.3 L589.6,273.0 L589.7,273.7 L589.8,274.5 L589.9,275.2 L590.1,276.0 L590.2,276.7 L590.4,277.4 L590.5,278.2 L590.6,278.9 L590.8,279.6 L590.9,280.4 L591.1,281.1 L591.2,281.8 L591.4,282.6 L591.5,283.3 L591.6,284.1 L591.8,284.8 L591.9,285.5 L592.0,286.3 L592.1,287.0 L592.2,287.8 L592.3,288.5 L592.4,289.2 L592.5,290.0 L592.6,290.7 L592.7,291.5 L592.8,292.2 L592.9,293.0 L593.0,293.7 L593.1,294.4 L593.2,295.2 L593.3,295.9 L593.4,296.7 L593.5,297.4 L593.6,298.2 L593.7,298.9 L593.8,299.6 L594.0,300.4 L594.1,301.1 L594.2,301.9 L594.4,302.6 L594.5,303.3 L594.7,304.1 L594.8,304.8 L595.0,305.5 L595.1,306.3 L595.3,307.0 L595.4,307.7 L595.6,308.5 L595.7,309.2 L595.9,309.9 L596.0,310.7 L596.2,311.4 L596.3,312.2 L596.5,312.9 L596.6,313.6 L596.8,314.4 L596.9,315.1 L597.0,315.8 L597.2,316.6 L597.3,317.3 L597.4,318.0 L597.6,318.8 L597.7,319.5 L597.9,320.3 L598.0,321.0 L598.1,321.7 L598.3,322.5 L598.5,323.2 L598.6,323.9 L598.8,324.7 L599.0,325.4 L599.2,326.1 L599.4,326.8 L599.6,327.6 L599.8,328.3 L600.0,329.0 L600.2,329.7 L600.4,330.4 L600.6,331.2 L600.8,331.9 L601.1,332.6 L601.3,333.3 L601.6,334.0 L601.8,334.7 L602.1,335.4 L602.4,336.1 L602.8,336.7 L603.2,337.4 L603.6,338.0 L604.0,338.6 L604.4,339.3 L604.8,339.9 L605.3,340.5 L605.8,341.0 L606.3,341.6 L606.8,342.1 L607.3,342.7 L607.9,343.1 L608.5,343.6 L609.1,343.9 L609.8,344.3 L610.5,344.6 L611.2,344.9 L611.9,345.1 L612.6,345.4 L613.3,345.6 L614.0,345.9 L614.7,346.1 L615.5,346.3 L616.2,346.4 L616.9,346.6 L617.6,346.7 L618.4,346.9 L619.1,347.0 L619.9,347.1 L620.6,347.1 L621.4,347.2 L622.1,347.2 L622.9,347.3 L623.6,347.3 L624.4,347.3 L625.1,347.4 L625.9,347.4 L626.6,347.4 L627.4,347.5 L628.1,347.5 L628.9,347.5 L629.6,347.5 L630.4,347.5 L631.1,347.6 L631.9,347.6 L632.6,347.6 L633.4,347.6 L634.1,347.6 L634.9,347.6 L635.6,347.7 L636.4,347.7 L637.1,347.7 L637.9,347.7 L638.6,347.7 L639.4,347.7 L640.1,347.7 L640.9,347.7 L641.6,347.7 L642.4,347.7 L643.1,347.7 L643.9,347.7 L644.6,347.6 L645.4,347.6 L646.1,347.6 L646.9,347.6 L647.6,347.5 L648.4,347.5 L649.1,347.5 L649.9,347.4 L650.6,347.4 L651.3,347.3 L652.1,347.3 L652.8,347.2 L653.6,347.2 L654.3,347.1 L655.1,347.1 L655.8,347.0 L656.6,346.9 L657.3,346.9 L658.1,346.8 L658.8,346.7 L659.6,346.6 L660.3,346.4 L661.0,346.2 L661.7,346.1 L662.5,345.9 L663.2,345.7 L663.9,345.5 L664.6,345.3 L665.4,345.1 L666.1,344.9 L666.8,344.7 L667.6,344.6 L668.3,344.5 L669.0,344.4 L669.8,344.3 L670.5,344.2 L671.3,344.1 L672.0,344.1 L672.8,344.0 L673.5,343.9 L674.3,343.9 L675.0,343.8 L675.8,343.7 L676.5,343.7 L677.3,343.6 L678.0,343.6 L678.8,343.5 L679.5,343.5 L680.2,343.5 L681.0,343.4 L681.7,343.4 L682.5,343.4 L683.2,343.3 L684.0,343.3 L684.7,343.3 L685.2,343.3 L685.6,343.3 L685.6,343.3" fill="none" stroke="#ff8a3d" stroke-width="1.5" clip-path="url(#clip31)" stroke-linejoin="round"/>
<path d="M501.5,348.1 L501.9,348.1 L502.6,348.1 L503.3,348.1 L504.0,348.1 L504.8,348.1 L505.5,348.1 L506.2,348.1 L507.0,348.1 L507.7,348.1 L508.5,348.1 L509.2,348.1 L510.0,348.1 L510.7,348.1 L511.5,348.1 L512.2,348.1 L513.0,348.1 L513.7,348.1 L514.5,348.1 L515.2,348.1 L516.0,348.1 L516.7,348.0 L517.5,348.0 L518.2,348.0 L519.0,348.0 L519.7,348.0 L520.5,348.0 L521.2,348.0 L522.0,348.0 L522.7,348.0 L523.5,348.0 L524.2,348.0 L525.0,348.0 L525.7,348.0 L526.5,348.0 L527.2,348.0 L528.0,348.0 L528.7,347.9 L529.5,347.9 L530.2,347.9 L531.0,347.9 L531.7,347.9 L532.5,347.9 L533.2,347.9 L534.0,347.9 L534.7,347.9 L535.5,347.8 L536.2,347.8 L537.0,347.8 L537.7,347.8 L538.5,347.8 L539.2,347.8 L540.0,347.8 L540.7,347.8 L541.5,347.7 L542.2,347.7 L543.0,347.7 L543.7,347.7 L544.5,347.7 L545.2,347.7 L546.0,347.6 L546.7,347.6 L547.5,347.6 L548.2,347.6 L549.0,347.6 L549.7,347.5 L550.5,347.5 L551.2,347.5 L552.0,347.4 L552.7,347.4 L553.5,347.3 L554.2,347.2 L555.0,347.1 L555.7,346.9 L556.4,346.8 L557.2,346.6 L557.9,346.4 L558.6,346.2 L559.3,346.0 L560.0,345.7 L560.7,345.4 L561.4,345.1 L562.0,344.7 L562.6,344.3 L563.1,343.7 L563.6,343.2 L564.0,342.6 L564.3,341.9 L564.7,341.2 L564.9,340.5 L565.2,339.8 L565.4,339.1 L565.7,338.4 L565.9,337.7 L566.0,336.9 L566.2,336.2 L566.3,335.5 L566.4,334.7 L566.6,334.0 L566.7,333.3 L566.8,332.5 L566.9,331.8 L567.0,331.0 L567.1,330.3 L567.2,329.5 L567.2,328.8 L567.3,328.0 L567.4,327.3 L567.5,326.6 L567.6,325.8 L567.7,325.1 L567.8,324.3 L567.8,323.6 L567.9,322.8 L568.0,322.1 L568.0,321.3 L568.1,320.6 L568.2,319.8 L568.2,319.1 L568.3,318.3 L568.4,317.6 L568.5,316.9 L568.5,316.1 L568.6,315.4 L568.7,314.6 L568.8,313.9 L568.9,313.1 L569.0,312.4 L569.1,311.6 L569.2,310.9 L569.3,310.2 L569.4,309.4 L569.5,308.7 L569.6,307.9 L569.7,307.2 L569.8,306.4 L569.9,305.7 L570.0,305.0 L570.1,304.2 L570.2,303.5 L570.2,302.7 L570.3,302.0 L570.3,301.2 L570.4,300.5 L570.4,299.7 L570.5,299.0 L570.5,298.2 L570.6,297.5 L570.6,296.7 L570.7,296.0 L570.7,295.2 L570.7,294.5 L570.8,293.7 L570.8,293.0 L570.9,292.2 L570.9,291.5 L571.0,290.7 L571.0,290.0 L571.1,289.2 L571.1,288.5 L571.2,287.7 L571.2,287.0 L571.3,286.3 L571.4,285.5 L571.4,284.8 L571.5,284.0 L571.6,283.3 L571.6,282.5 L571.7,281.8 L571.8,281.0 L571.9,280.3 L571.9,279.5 L572.0,278.8 L572.1,278.0 L572.2,277.3 L572.3,276.6 L572.3,275.8 L572.4,275.1 L572.5,274.3 L572.6,273.6 L572.7,272.8 L572.8,272.1 L572.9,271.3 L573.0,270.6 L573.1,269.9 L573.2,269.1 L573.3,268.4 L573.4,267.6 L573.5,266.9 L573.6,266.1 L573.7,265.4 L573.8,264.7 L573.9,263.9 L574.0,263.2 L574.0,262.4 L574.1,261.7 L574.2,260.9 L574.3,260.2 L574.3,259.4 L574.4,258.7 L574.5,257.9 L574.6,257.2 L574.6,256.4 L574.7,255.7 L574.8,255.0 L574.9,254.2 L575.0,253.5 L575.1,252.7 L575.1,252.0 L575.2,251.2 L575.3,250.5 L575.4,249.7 L575.5,249.0 L575.6,248.3 L575.7,247.5 L575.8,246.8 L575.9,246.0 L576.0,245.3 L576.2,244.5 L576.3,243.8 L576.4,243.1 L576.6,242.3 L576.7,241.6 L576.9,240.9 L577.0,240.1 L577.2,239.4 L577.3,238.7 L577.4,237.9 L577.6,237.2 L577.7,236.5 L577.9,235.7 L578.2,235.0 L578.4,234.3 L578.7,233.6 L579.0,233.0 L579.4,232.3 L579.9,231.8 L580.4,231.4 L581.0,231.2 L581.6,231.2 L582.1,231.5 L582.6,232.0 L583.1,232.6 L583.5,233.2 L583.9,233.8 L584.2,234.5 L584.6,235.2 L584.9,235.9 L585.1,236.6 L585.4,237.3 L585.7,238.0 L585.9,238.7 L586.2,239.4 L586.4,240.1 L586.6,240.8 L586.9,241.5 L587.1,242.2 L587.3,242.9 L587.5,243.7 L587.7,244.4 L587.9,245.1 L588.2,245.8 L588.4,246.5 L588.6,247.3 L588.8,248.0 L589.0,248.7 L589.2,249.4 L589.4,250.1 L589.6,250.9 L589.8,251.6 L589.9,252.3 L590.1,253.1 L590.3,253.8 L590.4,254.5 L590.6,255.3 L590.7,256.0 L590.9,256.7 L591.0,257.5 L591.1,258.2 L591.3,258.9 L591.4,259.7 L591.6,260.4 L591.7,261.1 L591.9,261.9 L592.0,262.6 L592.2,263.4 L592.3,264.1 L592.4,264.8 L592.6,265.6 L592.7,266.3 L592.8,267.0 L593.0,267.8 L593.1,268.5 L593.3,269.3 L593.4,270.0 L593.5,270.7 L593.7,271.5 L593.8,272.2 L594.0,272.9 L594.1,273.7 L594.3,274.4 L594.4,275.1 L594.6,275.9 L594.8,276.6 L594.9,277.3 L595.1,278.1 L595.3,278.8 L595.4,279.5 L595.6,280.2 L595.8,281.0 L596.0,281.7 L596.2,282.4 L596.3,283.2 L596.5,283.9 L596.7,284.6 L596.9,285.3 L597.1,286.1 L597.2,286.8 L597.4,287.5 L597.6,288.3 L597.8,289.0 L597.9,289.7 L598.1,290.5 L598.3,291.2 L598.5,291.9 L598.6,292.6 L598.8,293.4 L599.0,294.1 L599.2,294.8 L599.3,295.6 L599.5,296.3 L599.7,297.0 L599.9,297.7 L600.1,298.5 L600.3,299.2 L600.5,299.9 L600.7,300.6 L600.9,301.4 L601.1,302.1 L601.3,302.8 L601.5,303.5 L601.7,304.2 L601.9,305.0 L602.2,305.7 L602.4,306.4 L602.6,307.1 L602.8,307.8 L603.1,308.5 L603.3,309.2 L603.5,310.0 L603.8,310.7 L604.0,311.4 L604.2,312.1 L604.5,312.8 L604.7,313.5 L605.0,314.2 L605.2,314.9 L605.4,315.6 L605.7,316.4 L605.9,317.1 L606.2,317.8 L606.4,318.5 L606.7,319.2 L607.0,319.9 L607.3,320.6 L607.6,321.3 L607.9,321.9 L608.2,322.6 L608.5,323.3 L608.8,324.0 L609.2,324.6 L609.5,325.3 L609.9,325.9 L610.3,326.6 L610.6,327.3 L611.0,327.9 L611.4,328.5 L611.8,329.2 L612.2,329.8 L612.7,330.4 L613.1,331.0 L613.6,331.6 L614.0,332.2 L614.5,332.8 L615.0,333.3 L615.5,333.9 L616.1,334.4 L616.6,334.9 L617.1,335.4 L617.7,335.9 L618.3,336.4 L618.8,336.9 L619.4,337.4 L620.0,337.8 L620.6,338.3 L621.2,338.7 L621.9,339.1 L622.5,339.5 L623.2,339.9 L623.8,340.2 L624.5,340.6 L625.2,340.9 L625.8,341.2 L626.5,341.5 L627.2,341.8 L627.9,342.1 L628.6,342.4 L629.3,342.7 L630.0,342.9 L630.7,343.2 L631.4,343.4 L632.1,343.7 L632.8,343.9 L633.6,344.1 L634.3,344.3 L635.0,344.5 L635.7,344.6 L636.5,344.8 L637.2,344.9 L637.9,345.1 L638.7,345.2 L639.4,345.3 L640.2,345.5 L640.9,345.6 L641.6,345.7 L642.4,345.8 L643.1,346.0 L643.9,346.1 L644.6,346.2 L645.3,346.3 L646.1,346.3 L646.8,346.4 L647.6,346.5 L648.3,346.5 L649.1,346.6 L649.8,346.6 L650.6,346.6 L651.3,346.6 L652.1,346.6 L652.8,346.6 L653.6,346.6 L654.3,346.7 L655.1,346.7 L655.8,346.7 L656.6,346.7 L657.3,346.7 L658.1,346.7 L658.8,346.7 L659.6,346.7 L660.3,346.7 L661.1,346.7 L661.8,346.7 L662.6,346.7 L663.3,346.7 L664.1,346.7 L664.8,346.6 L665.6,346.6 L666.3,346.5 L667.1,346.4 L667.8,346.3 L668.6,346.2 L669.3,346.1 L670.0,346.0 L670.8,345.9 L671.5,345.8 L672.3,345.7 L673.0,345.6 L673.8,345.5 L674.5,345.5 L675.3,345.4 L676.0,345.3 L676.7,345.3 L677.5,345.2 L678.2,345.2 L679.0,345.1 L679.7,345.1 L680.5,345.0 L681.2,345.0 L682.0,345.0 L682.7,344.9 L683.5,344.9 L684.2,344.9 L684.9,344.8 L685.4,344.8 L685.6,344.8" fill="none" stroke="#ff3d6e" stroke-width="1.5" clip-path="url(#clip31)" stroke-linejoin="round"/>
<path d="M497.4,348.1 L497.8,348.1 L498.5,348.1 L499.2,348.1 L499.9,348.1 L500.7,348.1 L501.4,348.1 L502.2,348.1 L502.9,348.1 L503.7,348.1 L504.4,348.1 L505.2,348.1 L505.9,348.1 L506.7,348.1 L507.4,348.1 L508.2,348.1 L508.9,348.1 L509.7,348.1 L510.4,348.1 L511.2,348.1 L511.9,348.1 L512.7,348.1 L513.4,348.1 L514.2,348.1 L514.9,348.1 L515.7,348.1 L516.4,348.1 L517.2,348.1 L517.9,348.1 L518.7,348.1 L519.4,348.1 L520.2,348.1 L520.9,348.1 L521.7,348.1 L522.4,348.1 L523.2,348.1 L523.9,348.1 L524.7,348.1 L525.4,348.1 L526.2,348.1 L526.9,348.1 L527.7,348.1 L528.4,348.1 L529.2,348.1 L529.9,348.1 L530.7,348.1 L531.4,348.1 L532.2,348.1 L532.9,348.1 L533.6,348.1 L534.4,348.1 L535.1,348.1 L535.9,348.1 L536.6,348.1 L537.4,348.1 L538.1,348.1 L538.9,348.0 L539.6,348.0 L540.4,347.9 L541.1,347.8 L541.9,347.7 L542.6,347.5 L543.3,347.4 L544.1,347.2 L544.8,347.0 L545.5,346.8 L546.2,346.6 L546.9,346.3 L547.6,345.9 L548.2,345.5 L548.8,345.1 L549.4,344.6 L549.9,344.1 L550.5,343.6 L551.0,343.1 L551.4,342.5 L551.8,341.8 L552.2,341.2 L552.5,340.5 L552.9,339.8 L553.2,339.2 L553.5,338.5 L553.7,337.8 L554.0,337.1 L554.2,336.4 L554.5,335.6 L554.7,334.9 L554.9,334.2 L555.0,333.5 L555.2,332.7 L555.4,332.0 L555.5,331.3 L555.7,330.5 L555.8,329.8 L556.0,329.1 L556.1,328.3 L556.2,327.6 L556.4,326.9 L556.5,326.1 L556.6,325.4 L556.7,324.6 L556.8,323.9 L556.9,323.2 L557.1,322.4 L557.2,321.7 L557.3,320.9 L557.3,320.2 L557.4,319.4 L557.5,318.7 L557.6,318.0 L557.8,317.2 L557.9,316.5 L558.0,315.7 L558.1,315.0 L558.2,314.2 L558.3,313.5 L558.5,312.8 L558.6,312.0 L558.7,311.3 L558.8,310.5 L559.0,309.8 L559.1,309.1 L559.2,308.3 L559.4,307.6 L559.5,306.9 L559.6,306.1 L559.8,305.4 L559.9,304.6 L560.0,303.9 L560.2,303.2 L560.3,302.4 L560.4,301.7 L560.6,301.0 L560.7,300.2 L560.8,299.5 L561.0,298.7 L561.1,298.0 L561.2,297.3 L561.4,296.5 L561.5,295.8 L561.6,295.0 L561.8,294.3 L561.9,293.6 L562.0,292.8 L562.2,292.1 L562.3,291.4 L562.4,290.6 L562.6,289.9 L562.7,289.1 L562.8,288.4 L563.0,287.7 L563.1,286.9 L563.2,286.2 L563.4,285.4 L563.5,284.7 L563.6,284.0 L563.7,283.2 L563.9,282.5 L564.0,281.8 L564.1,281.0 L564.2,280.3 L564.4,279.5 L564.5,278.8 L564.6,278.1 L564.8,277.3 L564.9,276.6 L565.1,275.9 L565.2,275.1 L565.3,274.4 L565.5,273.6 L565.6,272.9 L565.8,272.2 L565.9,271.4 L566.1,270.7 L566.3,270.0 L566.4,269.2 L566.6,268.5 L566.7,267.8 L566.9,267.0 L567.0,266.3 L567.2,265.6 L567.4,264.8 L567.5,264.1 L567.7,263.4 L567.8,262.6 L568.0,261.9 L568.1,261.2 L568.3,260.4 L568.4,259.7 L568.6,259.0 L568.8,258.2 L568.9,257.5 L569.1,256.8 L569.3,256.0 L569.4,255.3 L569.6,254.6 L569.8,253.9 L570.0,253.1 L570.1,252.4 L570.3,251.7 L570.5,250.9 L570.7,250.2 L570.9,249.5 L571.1,248.8 L571.4,248.1 L571.6,247.4 L571.9,246.7 L572.3,246.1 L572.7,245.4 L573.1,244.8 L573.4,244.2 L573.7,243.5 L574.0,242.8 L574.2,242.1 L574.5,241.4 L574.7,240.6 L575.0,239.9 L575.2,239.2 L575.5,238.5 L575.8,237.8 L576.0,237.1 L576.3,236.4 L576.6,235.7 L576.9,235.0 L577.2,234.4 L577.5,233.7 L577.9,233.1 L578.3,232.5 L578.8,232.0 L579.4,231.5 L580.1,231.2 L580.7,231.0 L581.4,231.0 L582.1,231.2 L582.7,231.5 L583.3,232.0 L583.8,232.5 L584.3,233.1 L584.7,233.7 L585.1,234.3 L585.5,234.9 L585.8,235.6 L586.2,236.3 L586.5,237.0 L586.8,237.6 L587.1,238.3 L587.4,239.0 L587.7,239.7 L587.9,240.4 L588.2,241.1 L588.5,241.8 L588.7,242.5 L589.0,243.2 L589.2,243.9 L589.5,244.6 L589.7,245.3 L590.0,246.0 L590.2,246.8 L590.5,247.5 L590.8,248.2 L591.0,248.9 L591.2,249.6 L591.5,250.3 L591.7,251.0 L591.9,251.7 L592.1,252.5 L592.3,253.2 L592.5,253.9 L592.7,254.6 L592.9,255.3 L593.1,256.1 L593.3,256.8 L593.5,257.5 L593.7,258.3 L593.8,259.0 L594.0,259.7 L594.2,260.4 L594.4,261.2 L594.6,261.9 L594.7,262.6 L594.9,263.3 L595.1,264.1 L595.3,264.8 L595.4,265.5 L595.6,266.3 L595.8,267.0 L595.9,267.7 L596.1,268.5 L596.3,269.2 L596.5,269.9 L596.6,270.6 L596.8,271.4 L597.0,272.1 L597.2,272.8 L597.3,273.6 L597.5,274.3 L597.7,275.0 L597.9,275.7 L598.1,276.5 L598.3,277.2 L598.5,277.9 L598.7,278.6 L598.9,279.4 L599.1,280.1 L599.3,280.8 L599.5,281.5 L599.7,282.2 L599.9,283.0 L600.1,283.7 L600.3,284.4 L600.5,285.1 L600.7,285.8 L601.0,286.6 L601.2,287.3 L601.4,288.0 L601.6,288.7 L601.8,289.4 L602.0,290.2 L602.2,290.9 L602.4,291.6 L602.7,292.3 L602.9,293.0 L603.1,293.8 L603.3,294.5 L603.5,295.2 L603.7,295.9 L603.9,296.6 L604.1,297.4 L604.4,298.1 L604.6,298.8 L604.8,299.5 L605.0,300.2 L605.2,301.0 L605.3,301.7 L605.5,302.4 L605.7,303.1 L605.9,303.9 L606.1,304.6 L606.2,305.3 L606.4,306.1 L606.6,306.8 L606.8,307.5 L607.0,308.2 L607.2,309.0 L607.4,309.7 L607.6,310.4 L607.8,311.1 L608.1,311.8 L608.3,312.5 L608.6,313.2 L608.9,313.9 L609.2,314.6 L609.5,315.3 L609.8,316.0 L610.1,316.7 L610.4,317.3 L610.8,318.0 L611.1,318.7 L611.5,319.3 L611.9,320.0 L612.3,320.6 L612.6,321.3 L613.0,321.9 L613.4,322.5 L613.8,323.2 L614.2,323.8 L614.6,324.4 L615.0,325.1 L615.5,325.7 L615.9,326.3 L616.3,326.9 L616.7,327.5 L617.2,328.1 L617.6,328.7 L618.1,329.3 L618.6,329.9 L619.0,330.5 L619.5,331.1 L620.0,331.6 L620.5,332.2 L621.0,332.7 L621.6,333.2 L622.1,333.8 L622.7,334.3 L623.2,334.8 L623.8,335.3 L624.3,335.8 L624.9,336.3 L625.5,336.7 L626.1,337.2 L626.7,337.7 L627.3,338.1 L627.9,338.6 L628.5,339.0 L629.1,339.4 L629.8,339.8 L630.4,340.2 L631.1,340.5 L631.7,340.8 L632.4,341.2 L633.1,341.5 L633.8,341.8 L634.5,342.1 L635.2,342.4 L635.8,342.7 L636.5,343.0 L637.2,343.2 L637.9,343.5 L638.7,343.7 L639.4,344.0 L640.1,344.2 L640.8,344.4 L641.5,344.6 L642.3,344.8 L643.0,344.9 L643.7,345.1 L644.5,345.2 L645.2,345.3 L645.9,345.4 L646.7,345.5 L647.4,345.6 L648.2,345.7 L648.9,345.8 L649.7,345.9 L650.4,346.0 L651.2,346.1 L651.9,346.1 L652.6,346.2 L653.4,346.3 L654.1,346.3 L654.9,346.4 L655.6,346.4 L656.4,346.5 L657.1,346.5 L657.9,346.5 L658.6,346.6 L659.4,346.6 L660.1,346.6 L660.9,346.6 L661.6,346.6 L662.4,346.6 L663.1,346.5 L663.9,346.5 L664.6,346.5 L665.4,346.4 L666.1,346.4 L666.9,346.4 L667.6,346.3 L668.4,346.3 L669.1,346.2 L669.9,346.1 L670.6,346.1 L671.4,346.0 L672.1,346.0 L672.9,345.9 L673.6,345.9 L674.4,345.8 L675.1,345.8 L675.9,345.7 L676.6,345.7 L677.4,345.6 L678.1,345.5 L678.8,345.5 L679.6,345.4 L680.3,345.3 L681.1,345.3 L681.8,345.2 L682.6,345.1 L683.3,345.1 L684.0,345.0 L684.7,344.9 L685.3,344.9 L685.6,344.8" fill="none" stroke="#b45cff" stroke-width="1.5" clip-path="url(#clip31)" stroke-linejoin="round"/>
<path d="M506.4,347.9 L506.8,347.9 L507.5,347.9 L508.2,347.9 L508.9,348.0 L509.6,348.0 L510.4,348.0 L511.1,348.0 L511.9,348.0 L512.6,348.0 L513.4,348.0 L514.1,348.0 L514.9,348.0 L515.6,348.0 L516.4,348.1 L517.1,348.1 L517.9,348.1 L518.6,348.1 L519.4,348.1 L520.1,348.1 L520.9,348.1 L521.6,348.1 L522.4,348.1 L523.1,348.1 L523.9,348.1 L524.6,348.1 L525.4,348.1 L526.1,348.1 L526.9,348.1 L527.6,348.1 L528.4,348.1 L529.1,348.1 L529.9,348.1 L530.6,348.0 L531.4,348.0 L532.1,347.9 L532.9,347.8 L533.6,347.7 L534.4,347.6 L535.1,347.5 L535.8,347.4 L536.6,347.2 L537.3,347.0 L538.0,346.8 L538.7,346.6 L539.4,346.3 L540.0,345.9 L540.7,345.5 L541.2,345.0 L541.8,344.5 L542.3,344.0 L542.8,343.4 L543.3,342.8 L543.7,342.2 L544.1,341.6 L544.5,341.0 L544.9,340.3 L545.2,339.6 L545.5,339.0 L545.8,338.3 L546.1,337.6 L546.4,336.9 L546.7,336.2 L547.0,335.5 L547.2,334.8 L547.5,334.1 L547.7,333.4 L547.9,332.7 L548.2,332.0 L548.4,331.2 L548.6,330.5 L548.8,329.8 L549.0,329.1 L549.2,328.3 L549.4,327.6 L549.5,326.9 L549.7,326.2 L549.9,325.4 L550.1,324.7 L550.3,324.0 L550.5,323.3 L550.7,322.6 L550.9,321.8 L551.1,321.1 L551.3,320.4 L551.5,319.7 L551.7,318.9 L551.9,318.2 L552.1,317.5 L552.3,316.8 L552.5,316.0 L552.6,315.3 L552.8,314.6 L553.0,313.8 L553.2,313.1 L553.3,312.4 L553.5,311.7 L553.7,310.9 L553.8,310.2 L554.0,309.5 L554.1,308.7 L554.3,308.0 L554.5,307.3 L554.6,306.5 L554.8,305.8 L554.9,305.1 L555.1,304.3 L555.3,303.6 L555.4,302.9 L555.6,302.1 L555.8,301.4 L555.9,300.7 L556.1,299.9 L556.3,299.2 L556.4,298.5 L556.6,297.7 L556.8,297.0 L557.0,296.3 L557.1,295.6 L557.3,294.8 L557.5,294.1 L557.6,293.4 L557.8,292.6 L558.0,291.9 L558.2,291.2 L558.3,290.4 L558.5,289.7 L558.7,289.0 L558.9,288.3 L559.1,287.5 L559.3,286.8 L559.5,286.1 L559.7,285.4 L559.8,284.6 L560.0,283.9 L560.2,283.2 L560.4,282.5 L560.6,281.7 L560.8,281.0 L561.0,280.3 L561.2,279.6 L561.4,278.9 L561.6,278.1 L561.8,277.4 L562.0,276.7 L562.2,276.0 L562.4,275.2 L562.6,274.5 L562.8,273.8 L563.0,273.1 L563.2,272.3 L563.4,271.6 L563.6,270.9 L563.8,270.2 L564.0,269.5 L564.2,268.7 L564.4,268.0 L564.6,267.3 L564.8,266.6 L565.0,265.8 L565.3,265.1 L565.5,264.4 L565.7,263.7 L565.9,263.0 L566.1,262.2 L566.3,261.5 L566.5,260.8 L566.8,260.1 L567.0,259.4 L567.2,258.7 L567.4,257.9 L567.6,257.2 L567.8,256.5 L568.1,255.8 L568.3,255.1 L568.5,254.4 L568.7,253.6 L568.9,252.9 L569.1,252.2 L569.3,251.5 L569.5,250.7 L569.7,250.0 L569.9,249.3 L570.2,248.6 L570.4,247.9 L570.6,247.1 L570.8,246.4 L571.0,245.7 L571.2,245.0 L571.4,244.3 L571.6,243.6 L571.9,242.8 L572.1,242.1 L572.3,241.4 L572.6,240.7 L572.9,240.0 L573.2,239.3 L573.5,238.6 L573.8,238.0 L574.1,237.3 L574.5,236.6 L574.8,236.0 L575.1,235.3 L575.5,234.6 L575.9,234.0 L576.4,233.4 L576.9,232.9 L577.5,232.4 L578.1,232.0 L578.7,231.6 L579.4,231.3 L580.1,231.1 L580.8,231.0 L581.5,231.0 L582.2,231.2 L582.9,231.4 L583.5,231.8 L584.2,232.2 L584.7,232.7 L585.3,233.2 L585.8,233.7 L586.2,234.3 L586.7,234.9 L587.0,235.6 L587.4,236.2 L587.8,236.9 L588.2,237.5 L588.5,238.2 L588.9,238.8 L589.2,239.5 L589.6,240.2 L589.9,240.8 L590.3,241.5 L590.6,242.2 L590.9,242.8 L591.3,243.5 L591.6,244.2 L591.9,244.9 L592.3,245.5 L592.6,246.2 L593.0,246.9 L593.3,247.5 L593.6,248.2 L594.0,248.9 L594.3,249.5 L594.6,250.2 L594.9,250.9 L595.2,251.6 L595.4,252.3 L595.7,253.0 L596.0,253.7 L596.3,254.4 L596.5,255.1 L596.8,255.8 L597.0,256.5 L597.3,257.2 L597.5,257.9 L597.8,258.6 L598.1,259.3 L598.3,260.0 L598.6,260.7 L598.8,261.5 L599.1,262.2 L599.3,262.9 L599.6,263.6 L599.8,264.3 L600.1,265.0 L600.3,265.7 L600.6,266.4 L600.8,267.1 L601.1,267.8 L601.3,268.5 L601.6,269.2 L601.8,269.9 L602.1,270.6 L602.3,271.4 L602.6,272.1 L602.8,272.8 L603.1,273.5 L603.4,274.2 L603.7,274.9 L603.9,275.6 L604.2,276.3 L604.5,276.9 L604.8,277.6 L605.1,278.3 L605.4,279.0 L605.7,279.7 L606.0,280.4 L606.3,281.1 L606.6,281.8 L606.9,282.5 L607.2,283.1 L607.5,283.8 L607.8,284.5 L608.1,285.2 L608.4,285.9 L608.7,286.6 L609.0,287.3 L609.3,288.0 L609.6,288.7 L609.8,289.3 L610.1,290.0 L610.4,290.7 L610.7,291.4 L611.0,292.1 L611.3,292.8 L611.6,293.5 L611.9,294.2 L612.2,294.9 L612.5,295.5 L612.8,296.2 L613.1,296.9 L613.4,297.6 L613.7,298.3 L614.0,299.0 L614.3,299.7 L614.7,300.3 L615.0,301.0 L615.3,301.7 L615.6,302.4 L615.9,303.0 L616.3,303.7 L616.6,304.4 L616.9,305.1 L617.2,305.8 L617.6,306.4 L617.9,307.1 L618.2,307.8 L618.6,308.4 L618.9,309.1 L619.3,309.8 L619.7,310.4 L620.0,311.1 L620.4,311.7 L620.8,312.3 L621.2,312.9 L621.7,313.6 L622.1,314.2 L622.5,314.8 L623.0,315.4 L623.5,316.0 L623.9,316.6 L624.4,317.1 L624.9,317.7 L625.4,318.3 L625.8,318.9 L626.3,319.4 L626.8,320.0 L627.3,320.6 L627.8,321.1 L628.3,321.7 L628.8,322.2 L629.3,322.8 L629.8,323.4 L630.3,323.9 L630.8,324.5 L631.3,325.0 L631.9,325.6 L632.4,326.1 L632.9,326.6 L633.4,327.2 L634.0,327.7 L634.5,328.2 L635.1,328.7 L635.6,329.2 L636.2,329.7 L636.8,330.2 L637.4,330.7 L637.9,331.1 L638.5,331.6 L639.2,332.0 L639.8,332.4 L640.4,332.9 L641.0,333.3 L641.6,333.7 L642.3,334.1 L642.9,334.5 L643.5,334.9 L644.2,335.3 L644.8,335.6 L645.5,336.0 L646.2,336.3 L646.8,336.6 L647.5,337.0 L648.2,337.3 L648.9,337.6 L649.6,337.9 L650.3,338.1 L651.0,338.4 L651.7,338.7 L652.4,339.0 L653.1,339.3 L653.8,339.5 L654.5,339.8 L655.2,340.0 L655.9,340.2 L656.6,340.4 L657.3,340.7 L658.1,340.8 L658.8,341.0 L659.5,341.2 L660.3,341.3 L661.0,341.4 L661.7,341.6 L662.5,341.7 L663.2,341.8 L664.0,341.9 L664.7,342.0 L665.5,342.0 L666.2,342.1 L667.0,342.1 L667.7,342.2 L668.5,342.2 L669.2,342.1 L669.9,342.1 L670.7,342.0 L671.4,341.9 L672.2,341.7 L672.9,341.5 L673.6,341.3 L674.3,341.0 L674.9,340.7 L675.5,340.2 L676.1,339.8 L676.7,339.3 L677.3,338.8 L677.8,338.3 L678.3,337.8 L678.9,337.2 L679.4,336.7 L679.9,336.1 L680.4,335.6 L680.9,335.0 L681.3,334.4 L681.8,333.8 L682.2,333.2 L682.6,332.6 L683.0,331.9 L683.5,331.3 L683.9,330.7 L684.2,330.0 L684.6,329.4 L685.0,328.8 L685.3,328.2 L685.6,327.7 L685.8,327.3 L685.8,327.3" fill="none" stroke="#5470ff" stroke-width="1.5" clip-path="url(#clip31)" stroke-linejoin="round"/>
<path d="M515.4,347.7 L515.8,347.7 L516.5,347.7 L517.2,347.7 L517.9,347.7 L518.7,347.7 L519.4,347.7 L520.1,347.7 L520.9,347.7 L521.6,347.7 L522.4,347.7 L523.1,347.6 L523.9,347.6 L524.6,347.6 L525.4,347.6 L526.1,347.6 L526.9,347.6 L527.6,347.6 L528.4,347.5 L529.1,347.5 L529.9,347.5 L530.6,347.4 L531.4,347.4 L532.1,347.3 L532.9,347.2 L533.6,347.2 L534.4,347.0 L535.1,346.9 L535.8,346.8 L536.6,346.6 L537.3,346.4 L538.0,346.2 L538.7,345.9 L539.4,345.7 L540.1,345.4 L540.8,345.2 L541.5,344.9 L542.2,344.5 L542.8,344.2 L543.5,343.7 L544.1,343.3 L544.7,342.9 L545.2,342.4 L545.8,341.9 L546.3,341.4 L546.8,340.8 L547.3,340.2 L547.8,339.6 L548.2,339.0 L548.6,338.4 L549.0,337.7 L549.3,337.1 L549.7,336.4 L550.0,335.8 L550.3,335.1 L550.7,334.4 L551.0,333.7 L551.3,333.0 L551.5,332.3 L551.8,331.6 L552.1,330.9 L552.3,330.2 L552.5,329.5 L552.7,328.8 L553.0,328.1 L553.2,327.3 L553.4,326.6 L553.6,325.9 L553.8,325.2 L554.0,324.5 L554.2,323.7 L554.4,323.0 L554.6,322.3 L554.8,321.6 L555.0,320.8 L555.2,320.1 L555.3,319.4 L555.5,318.7 L555.7,317.9 L555.9,317.2 L556.1,316.5 L556.2,315.7 L556.4,315.0 L556.6,314.3 L556.8,313.6 L556.9,312.8 L557.1,312.1 L557.3,311.4 L557.4,310.6 L557.6,309.9 L557.8,309.2 L557.9,308.4 L558.1,307.7 L558.3,307.0 L558.4,306.2 L558.6,305.5 L558.7,304.8 L558.9,304.0 L559.0,303.3 L559.2,302.6 L559.4,301.8 L559.5,301.1 L559.7,300.4 L559.8,299.6 L560.0,298.9 L560.1,298.2 L560.2,297.4 L560.4,296.7 L560.5,296.0 L560.7,295.2 L560.8,294.5 L561.0,293.7 L561.1,293.0 L561.3,292.3 L561.4,291.5 L561.6,290.8 L561.7,290.1 L561.9,289.3 L562.0,288.6 L562.2,287.9 L562.3,287.1 L562.5,286.4 L562.6,285.7 L562.8,284.9 L562.9,284.2 L563.1,283.5 L563.2,282.7 L563.4,282.0 L563.5,281.3 L563.7,280.5 L563.8,279.8 L564.0,279.1 L564.1,278.3 L564.3,277.6 L564.4,276.9 L564.6,276.1 L564.8,275.4 L564.9,274.7 L565.1,273.9 L565.3,273.2 L565.4,272.5 L565.6,271.7 L565.8,271.0 L565.9,270.3 L566.1,269.5 L566.3,268.8 L566.5,268.1 L566.6,267.4 L566.8,266.6 L567.0,265.9 L567.2,265.2 L567.3,264.4 L567.5,263.7 L567.7,263.0 L567.9,262.3 L568.1,261.5 L568.2,260.8 L568.4,260.1 L568.6,259.3 L568.8,258.6 L569.0,257.9 L569.2,257.2 L569.3,256.4 L569.5,255.7 L569.7,255.0 L569.9,254.2 L570.0,253.5 L570.2,252.8 L570.4,252.1 L570.6,251.3 L570.7,250.6 L570.9,249.9 L571.1,249.1 L571.2,248.4 L571.4,247.7 L571.6,246.9 L571.8,246.2 L572.0,245.5 L572.2,244.8 L572.4,244.1 L572.7,243.4 L572.9,242.7 L573.2,241.9 L573.5,241.3 L573.8,240.6 L574.0,239.9 L574.4,239.2 L574.7,238.5 L575.0,237.8 L575.3,237.1 L575.6,236.5 L575.9,235.8 L576.2,235.1 L576.6,234.4 L577.0,233.8 L577.4,233.2 L577.9,232.7 L578.5,232.2 L579.1,231.8 L579.7,231.4 L580.4,231.2 L581.1,231.1 L581.8,231.2 L582.5,231.4 L583.1,231.7 L583.8,232.1 L584.4,232.6 L584.9,233.0 L585.5,233.5 L586.0,234.1 L586.5,234.6 L586.9,235.2 L587.4,235.9 L587.8,236.5 L588.2,237.1 L588.6,237.8 L589.0,238.4 L589.3,239.0 L589.7,239.7 L590.1,240.4 L590.4,241.0 L590.7,241.7 L591.1,242.4 L591.4,243.0 L591.7,243.7 L592.0,244.4 L592.3,245.1 L592.7,245.8 L593.0,246.4 L593.3,247.1 L593.7,247.8 L594.0,248.4 L594.4,249.1 L594.7,249.8 L595.0,250.5 L595.3,251.1 L595.7,251.8 L596.0,252.5 L596.3,253.2 L596.6,253.8 L597.0,254.5 L597.3,255.2 L597.6,255.9 L597.9,256.6 L598.2,257.2 L598.5,257.9 L598.9,258.6 L599.2,259.3 L599.5,260.0 L599.8,260.6 L600.1,261.3 L600.4,262.0 L600.7,262.7 L601.0,263.4 L601.3,264.1 L601.6,264.8 L601.8,265.5 L602.1,266.2 L602.4,266.9 L602.7,267.5 L603.0,268.2 L603.3,268.9 L603.6,269.6 L603.9,270.3 L604.2,271.0 L604.5,271.7 L604.8,272.4 L605.1,273.1 L605.4,273.7 L605.7,274.4 L606.1,275.1 L606.4,275.8 L606.7,276.4 L607.1,277.1 L607.4,277.7 L607.8,278.4 L608.2,279.1 L608.5,279.7 L608.9,280.4 L609.3,281.0 L609.7,281.7 L610.0,282.3 L610.4,283.0 L610.8,283.6 L611.1,284.3 L611.5,285.0 L611.8,285.6 L612.2,286.3 L612.5,287.0 L612.8,287.6 L613.1,288.3 L613.5,289.0 L613.8,289.7 L614.1,290.3 L614.4,291.0 L614.8,291.7 L615.1,292.4 L615.4,293.0 L615.7,293.7 L616.0,294.4 L616.4,295.1 L616.7,295.7 L617.0,296.4 L617.4,297.1 L617.7,297.8 L618.1,298.4 L618.4,299.1 L618.8,299.7 L619.1,300.4 L619.5,301.1 L619.9,301.7 L620.3,302.4 L620.6,303.0 L621.0,303.6 L621.4,304.3 L621.8,304.9 L622.2,305.6 L622.6,306.2 L623.0,306.8 L623.4,307.5 L623.8,308.1 L624.2,308.7 L624.6,309.3 L625.0,310.0 L625.5,310.6 L625.9,311.2 L626.4,311.8 L626.8,312.4 L627.3,313.0 L627.7,313.6 L628.2,314.2 L628.6,314.8 L629.1,315.3 L629.6,315.9 L630.1,316.5 L630.6,317.1 L631.1,317.6 L631.6,318.2 L632.1,318.7 L632.6,319.3 L633.1,319.8 L633.6,320.4 L634.1,320.9 L634.7,321.5 L635.2,322.0 L635.7,322.5 L636.3,323.0 L636.8,323.6 L637.3,324.1 L637.9,324.6 L638.4,325.1 L639.0,325.6 L639.5,326.1 L640.1,326.6 L640.7,327.1 L641.2,327.6 L641.8,328.1 L642.4,328.5 L643.0,329.0 L643.6,329.4 L644.2,329.9 L644.8,330.3 L645.4,330.7 L646.1,331.2 L646.7,331.6 L647.3,332.0 L647.9,332.4 L648.6,332.8 L649.2,333.2 L649.9,333.5 L650.5,333.9 L651.2,334.3 L651.8,334.6 L652.5,335.0 L653.2,335.3 L653.8,335.7 L654.5,336.0 L655.2,336.3 L655.9,336.6 L656.6,336.9 L657.3,337.2 L658.0,337.5 L658.7,337.7 L659.4,338.0 L660.1,338.3 L660.8,338.6 L661.5,338.8 L662.2,339.1 L662.9,339.3 L663.6,339.6 L664.3,339.8 L665.0,340.0 L665.7,340.3 L666.4,340.5 L667.2,340.7 L667.9,340.9 L668.6,341.0 L669.3,341.2 L670.1,341.4 L670.8,341.5 L671.5,341.7 L672.3,341.8 L673.0,341.9 L673.8,342.0 L674.5,342.2 L675.2,342.3 L676.0,342.4 L676.7,342.5 L677.5,342.6 L678.2,342.7 L679.0,342.8 L679.7,342.9 L680.4,343.0 L681.2,343.1 L681.9,343.2 L682.7,343.2 L683.4,343.3 L684.1,343.3 L684.8,343.4 L685.3,343.4 L685.6,343.4" fill="none" stroke="#1ef0a8" stroke-width="1.5" clip-path="url(#clip31)" stroke-linejoin="round"/>
<path d="M515.5,347.3 L515.9,347.3 L516.6,347.3 L517.3,347.3 L518.0,347.3 L518.8,347.3 L519.5,347.3 L520.2,347.3 L521.0,347.3 L521.8,347.3 L522.5,347.3 L523.2,347.3 L524.0,347.3 L524.7,347.3 L525.5,347.3 L526.2,347.3 L527.0,347.3 L527.7,347.3 L528.5,347.3 L529.2,347.2 L530.0,347.2 L530.7,347.1 L531.5,347.0 L532.2,346.9 L533.0,346.8 L533.7,346.7 L534.5,346.6 L535.2,346.4 L535.9,346.2 L536.6,346.0 L537.3,345.8 L538.0,345.5 L538.7,345.2 L539.4,344.9 L540.0,344.5 L540.7,344.1 L541.3,343.7 L541.9,343.3 L542.4,342.8 L543.0,342.2 L543.5,341.7 L543.9,341.1 L544.4,340.5 L544.9,339.9 L545.3,339.3 L545.7,338.7 L546.1,338.1 L546.5,337.4 L546.9,336.8 L547.2,336.1 L547.6,335.4 L547.9,334.7 L548.2,334.1 L548.5,333.4 L548.8,332.7 L549.1,332.0 L549.4,331.3 L549.7,330.6 L550.0,329.9 L550.3,329.2 L550.5,328.5 L550.8,327.8 L551.0,327.1 L551.3,326.4 L551.5,325.7 L551.7,325.0 L551.9,324.3 L552.2,323.6 L552.4,322.8 L552.6,322.1 L552.8,321.4 L552.9,320.7 L553.1,319.9 L553.3,319.2 L553.5,318.5 L553.7,317.7 L553.8,317.0 L554.0,316.3 L554.2,315.6 L554.4,314.8 L554.5,314.1 L554.7,313.4 L554.9,312.6 L555.0,311.9 L555.2,311.2 L555.4,310.4 L555.5,309.7 L555.7,309.0 L555.9,308.2 L556.0,307.5 L556.2,306.8 L556.3,306.0 L556.5,305.3 L556.7,304.6 L556.8,303.8 L557.0,303.1 L557.1,302.4 L557.3,301.7 L557.5,300.9 L557.6,300.2 L557.8,299.5 L557.9,298.7 L558.1,298.0 L558.3,297.3 L558.4,296.5 L558.6,295.8 L558.7,295.1 L558.9,294.3 L559.0,293.6 L559.2,292.9 L559.4,292.1 L559.5,291.4 L559.7,290.7 L559.8,289.9 L560.0,289.2 L560.1,288.5 L560.3,287.7 L560.5,287.0 L560.6,286.3 L560.8,285.5 L560.9,284.8 L561.1,284.0 L561.2,283.3 L561.4,282.6 L561.5,281.8 L561.7,281.1 L561.9,280.4 L562.0,279.6 L562.2,278.9 L562.3,278.2 L562.5,277.5 L562.7,276.7 L562.8,276.0 L563.0,275.3 L563.2,274.5 L563.4,273.8 L563.5,273.1 L563.7,272.3 L563.9,271.6 L564.1,270.9 L564.2,270.2 L564.4,269.4 L564.6,268.7 L564.8,268.0 L565.0,267.3 L565.2,266.5 L565.4,265.8 L565.6,265.1 L565.8,264.4 L566.0,263.6 L566.2,262.9 L566.4,262.2 L566.6,261.5 L566.8,260.8 L567.0,260.0 L567.3,259.3 L567.5,258.6 L567.7,257.9 L567.9,257.2 L568.2,256.5 L568.4,255.7 L568.6,255.0 L568.8,254.3 L569.0,253.6 L569.2,252.9 L569.5,252.2 L569.7,251.4 L569.9,250.7 L570.1,250.0 L570.3,249.3 L570.6,248.6 L570.8,247.8 L571.0,247.1 L571.2,246.4 L571.4,245.7 L571.6,245.0 L571.8,244.2 L572.0,243.5 L572.2,242.8 L572.4,242.1 L572.6,241.4 L572.8,240.6 L573.1,239.9 L573.3,239.2 L573.6,238.5 L573.9,237.9 L574.3,237.2 L574.6,236.5 L575.0,235.9 L575.4,235.2 L575.8,234.6 L576.2,234.0 L576.7,233.4 L577.2,232.9 L577.7,232.4 L578.4,232.0 L579.0,231.6 L579.7,231.3 L580.4,231.2 L581.1,231.1 L581.8,231.1 L582.5,231.3 L583.2,231.6 L583.9,231.9 L584.5,232.3 L585.1,232.7 L585.7,233.2 L586.3,233.7 L586.8,234.2 L587.3,234.8 L587.7,235.4 L588.2,236.0 L588.6,236.6 L589.0,237.2 L589.4,237.9 L589.8,238.5 L590.1,239.2 L590.5,239.8 L590.8,240.5 L591.1,241.2 L591.4,241.9 L591.6,242.6 L591.9,243.3 L592.1,244.0 L592.4,244.7 L592.7,245.4 L593.0,246.1 L593.3,246.8 L593.6,247.5 L593.9,248.2 L594.2,248.8 L594.5,249.5 L594.8,250.2 L595.1,250.9 L595.5,251.5 L595.8,252.2 L596.2,252.9 L596.6,253.5 L596.9,254.2 L597.3,254.8 L597.7,255.5 L598.0,256.1 L598.4,256.8 L598.8,257.4 L599.2,258.1 L599.5,258.7 L599.9,259.4 L600.2,260.1 L600.6,260.7 L600.9,261.4 L601.2,262.1 L601.6,262.7 L601.9,263.4 L602.2,264.1 L602.5,264.8 L602.9,265.4 L603.2,266.1 L603.5,266.8 L603.8,267.5 L604.1,268.2 L604.5,268.8 L604.8,269.5 L605.1,270.2 L605.4,270.9 L605.8,271.5 L606.1,272.2 L606.4,272.9 L606.8,273.6 L607.1,274.2 L607.4,274.9 L607.8,275.5 L608.2,276.2 L608.5,276.9 L608.9,277.5 L609.3,278.2 L609.6,278.8 L610.0,279.5 L610.4,280.1 L610.8,280.8 L611.1,281.4 L611.5,282.1 L611.9,282.7 L612.3,283.4 L612.6,284.0 L613.0,284.7 L613.4,285.3 L613.7,286.0 L614.1,286.6 L614.5,287.3 L614.8,287.9 L615.2,288.6 L615.5,289.3 L615.9,289.9 L616.3,290.6 L616.6,291.2 L617.0,291.9 L617.3,292.6 L617.7,293.2 L618.0,293.9 L618.4,294.5 L618.8,295.2 L619.1,295.9 L619.5,296.5 L619.9,297.2 L620.2,297.8 L620.6,298.5 L621.0,299.1 L621.4,299.8 L621.7,300.4 L622.1,301.0 L622.5,301.7 L622.9,302.3 L623.3,303.0 L623.7,303.6 L624.0,304.3 L624.4,304.9 L624.8,305.6 L625.2,306.2 L625.6,306.8 L626.0,307.5 L626.4,308.1 L626.8,308.7 L627.2,309.3 L627.7,310.0 L628.1,310.6 L628.6,311.2 L629.0,311.8 L629.5,312.3 L630.0,312.9 L630.5,313.5 L631.0,314.0 L631.5,314.6 L632.0,315.1 L632.5,315.7 L633.0,316.2 L633.6,316.7 L634.1,317.3 L634.6,317.8 L635.2,318.3 L635.7,318.8 L636.3,319.3 L636.8,319.8 L637.4,320.3 L638.0,320.8 L638.5,321.3 L639.1,321.8 L639.7,322.3 L640.2,322.8 L640.8,323.3 L641.4,323.8 L641.9,324.3 L642.5,324.7 L643.1,325.2 L643.7,325.7 L644.3,326.2 L644.8,326.6 L645.4,327.1 L646.0,327.5 L646.6,328.0 L647.2,328.4 L647.9,328.8 L648.5,329.3 L649.1,329.7 L649.7,330.1 L650.4,330.5 L651.0,330.9 L651.7,331.3 L652.3,331.6 L652.9,332.0 L653.6,332.4 L654.3,332.8 L654.9,333.1 L655.6,333.5 L656.2,333.8 L656.9,334.1 L657.6,334.5 L658.3,334.8 L658.9,335.1 L659.6,335.4 L660.3,335.8 L661.0,336.0 L661.7,336.3 L662.4,336.6 L663.1,336.9 L663.8,337.2 L664.5,337.4 L665.2,337.7 L665.9,338.0 L666.6,338.2 L667.3,338.5 L668.0,338.7 L668.7,339.0 L669.4,339.2 L670.1,339.4 L670.9,339.6 L671.6,339.8 L672.3,340.0 L673.0,340.1 L673.8,340.3 L674.5,340.4 L675.3,340.6 L676.0,340.7 L676.7,340.8 L677.5,340.9 L678.2,341.0 L679.0,341.2 L679.7,341.3 L680.4,341.4 L681.2,341.4 L681.9,341.5 L682.7,341.6 L683.4,341.7 L684.1,341.7 L684.8,341.7 L685.3,341.8 L685.6,341.8" fill="none" stroke="#86e01e" stroke-width="1.5" clip-path="url(#clip31)" stroke-linejoin="round"/>
<rect x="0.5" y="0.5" width="165.40" height="164.90" fill="none" stroke="#000" stroke-width="1.1"/>
<rect x="0.5" y="201.5" width="165.40" height="164.75" fill="none" stroke="#000" stroke-width="1.1"/>
<rect x="173.5" y="0.5" width="165.10" height="164.90" fill="none" stroke="#000" stroke-width="1.1"/>
<rect x="173.5" y="201.5" width="165.10" height="164.75" fill="none" stroke="#000" stroke-width="1.1"/>
<rect x="346.5" y="0.5" width="165.00" height="164.90" fill="none" stroke="#000" stroke-width="1.1"/>
<rect x="346.5" y="201.5" width="165.00" height="164.75" fill="none" stroke="#000" stroke-width="1.1"/>
<rect x="519.0" y="0.5" width="165.50" height="164.90" fill="none" stroke="#000" stroke-width="1.1"/>
<rect x="519.0" y="201.5" width="165.50" height="164.75" fill="none" stroke="#000" stroke-width="1.1"/>
<text x="4.5" y="16.0" font-size="17.5" font-weight="bold">a</text>
<text x="176.9" y="16.0" font-size="17.5" font-weight="bold">c</text>
<text x="350.1" y="16.0" font-size="17.5" font-weight="bold">e</text>
<text x="522.8" y="16.0" font-size="17.5" font-weight="bold">g</text>
<text x="4.7" y="219.4" font-size="17.5" font-weight="bold">b</text>
<text x="177.6" y="219.5" font-size="17.5" font-weight="bold">d</text>
<text x="350.4" y="219.5" font-size="17.5" font-weight="bold">f</text>
<text x="523.1" y="219.5" font-size="17.5" font-weight="bold">h</text>
<line x1="274.6" y1="9.5" x2="297.1" y2="9.5" stroke="#c65cff" stroke-width="1.5"/>
<text x="298.9" y="12.3" font-size="9.6">EO<tspan font-size="6.29" dy="3.6">160</tspan><tspan font-size="6.34" dy="-7.05">4</tspan></text>
<text x="283.2" y="25.9" font-size="9.2"><tspan font-style="italic">Đ</tspan><tspan font-size="6.26" dy="2.4">M</tspan><tspan dy="-2.4">=1.74</tspan></text>
<line x1="274.5" y1="36.6" x2="293.0" y2="36.6" stroke="#000" stroke-width="1.6" stroke-dasharray="6,6.3"/>
<text x="298.9" y="39.8" font-size="9.2">modeled</text>
<text x="283.2" y="51.6" font-size="9.2"><tspan font-style="italic">Đ</tspan><tspan font-size="6.26" dy="2.4">M</tspan><tspan dy="-2.4">=1.67</tspan></text>
<line x1="446.8" y1="9.7" x2="468.5" y2="9.7" stroke="#c65cff" stroke-width="1.5"/>
<text x="470.9" y="12.3" font-size="9.6">PO<tspan font-size="6.29" dy="3.6">80</tspan><tspan font-size="6.34" dy="-7.05">4</tspan></text>
<text x="455.4" y="26.15" font-size="9.2"><tspan font-style="italic">Đ</tspan><tspan font-size="6.26" dy="2.4">M</tspan><tspan dy="-2.4">=1.69</tspan></text>
<line x1="446.4" y1="37.1" x2="465.0" y2="37.1" stroke="#000" stroke-width="1.6" stroke-dasharray="5.7,7.2"/>
<text x="471.1" y="39.8" font-size="9.2">modeled</text>
<text x="455.4" y="51.6" font-size="9.2"><tspan font-style="italic">Đ</tspan><tspan font-size="6.26" dy="2.4">M</tspan><tspan dy="-2.4">=1.64</tspan></text>
<line x1="274.8" y1="211.3" x2="296.5" y2="211.3" stroke="#c65cff" stroke-width="1.5"/>
<text x="298.7" y="214.7" font-size="9.6">AGE<tspan font-size="6.29" dy="3.6">60</tspan><tspan font-size="6.34" dy="-7.05">4</tspan></text>
<text x="283.0" y="228.15" font-size="9.2"><tspan font-style="italic">Đ</tspan><tspan font-size="6.26" dy="2.4">M</tspan><tspan dy="-2.4">=1.59</tspan></text>
<line x1="274.4" y1="238.4" x2="293.0" y2="238.4" stroke="#000" stroke-width="1.6" stroke-dasharray="5.7,7.2"/>
<text x="299.1" y="241.7" font-size="9.2">modeled</text>
<text x="283.0" y="253.15" font-size="9.2"><tspan font-style="italic">Đ</tspan><tspan font-size="6.26" dy="2.4">M</tspan><tspan dy="-2.4">=1.56</tspan></text>
<line x1="452.0" y1="211.6" x2="473.9" y2="211.6" stroke="#5470ff" stroke-width="1.5"/>
<text x="475.5" y="214.2" font-size="9.6">PO<tspan font-size="6.29" dy="3.6">80</tspan><tspan font-size="6.34" dy="-7.05">B4</tspan></text>
<text x="460.0" y="228.25" font-size="9.2"><tspan font-style="italic">Đ</tspan><tspan font-size="6.26" dy="2.4">M</tspan><tspan dy="-2.4">=1.60</tspan></text>
<line x1="452.0" y1="239.5" x2="473.9" y2="239.5" stroke="#c65cff" stroke-width="1.5"/>
<text x="475.5" y="242.2" font-size="9.6">PO<tspan font-size="6.29" dy="3.6">80</tspan><tspan font-size="6.34" dy="-7.05">4</tspan></text>
<text x="460.0" y="256.25" font-size="9.2"><tspan font-style="italic">Đ</tspan><tspan font-size="6.26" dy="2.4">M</tspan><tspan dy="-2.4">=1.69</tspan></text>
<text x="98.6" y="212.0" font-size="9.2"><tspan font-style="italic">M</tspan><tspan font-size="6.26" dy="2.4">n</tspan><tspan dy="-2.4">(kg mol</tspan><tspan font-size="6.26" dy="-3.2">-1</tspan><tspan dy="3.2">)/</tspan><tspan font-style="italic">Đ</tspan><tspan font-size="6.26" dy="2.4">M</tspan></text>
<line x1="98.1" y1="222.2" x2="119.4" y2="222.2" stroke="#1ef0a8" stroke-width="1.5"/>
<text x="121.8" y="225.5" font-size="9.2">7.5/1.60</text>
<line x1="98.1" y1="233.6" x2="119.4" y2="233.6" stroke="#5470ff" stroke-width="1.5"/>
<text x="121.8" y="236.9" font-size="9.2">7.6/1.69</text>
<line x1="98.1" y1="245.0" x2="119.4" y2="245.0" stroke="#6aa527" stroke-width="1.5"/>
<text x="121.8" y="248.3" font-size="9.2">8.6/1.88</text>
<text x="616.8" y="211.2" font-size="9.2"><tspan font-style="italic">M</tspan><tspan font-size="6.26" dy="2.4">n</tspan><tspan dy="-2.4">(kg mol</tspan><tspan font-size="6.26" dy="-3.2">-1</tspan><tspan dy="3.2">)/</tspan><tspan font-style="italic">Đ</tspan><tspan font-size="6.26" dy="2.4">M</tspan></text>
<line x1="616.6" y1="220.8" x2="637.4" y2="220.8" stroke="#ff8a3d" stroke-width="1.5"/>
<text x="640.0" y="224.0" font-size="9.2">8.2/1.06</text>
<line x1="616.6" y1="232.2" x2="637.4" y2="232.2" stroke="#ff3d6e" stroke-width="1.5"/>
<text x="640.0" y="235.4" font-size="9.2">8.4/1.19</text>
<line x1="616.6" y1="243.6" x2="637.4" y2="243.6" stroke="#b45cff" stroke-width="1.5"/>
<text x="640.0" y="246.8" font-size="9.2">7.7/1.30</text>
<line x1="616.6" y1="255.0" x2="637.4" y2="255.0" stroke="#5470ff" stroke-width="1.5"/>
<text x="640.0" y="258.2" font-size="9.2">7.9/1.60</text>
<line x1="616.6" y1="266.4" x2="637.4" y2="266.4" stroke="#1ef0a8" stroke-width="1.5"/>
<text x="640.0" y="269.6" font-size="9.2">8.1/1.80</text>
<line x1="616.6" y1="277.6" x2="637.4" y2="277.6" stroke="#86e01e" stroke-width="1.5"/>
<text x="640.0" y="280.8" font-size="9.2">8.0/2.00</text>
<path d="M111.2,11.2 L117.9,14.6" stroke="#000" stroke-width="1.0" fill="none" stroke-linecap="butt"/>
<ellipse cx="120.2" cy="15.8" rx="1.85" ry="2.05" fill="none" stroke="#000" stroke-width="0.95"/>
<path d="M122.4,15.2 L130.8,12.4 L138.5,17.2 L146.0,13.4" stroke="#000" stroke-width="1.0" fill="none" stroke-linecap="butt"/>
<path d="M138.5,17.2 L138.5,27.6" stroke="#000" stroke-width="1.0" fill="none" stroke-linecap="butt"/>
<ellipse cx="148.3" cy="12.3" rx="1.85" ry="2.05" fill="none" stroke="#000" stroke-width="0.95"/>
<path d="M150.5,13.5 L159.0,15.6" stroke="#000" stroke-width="1.0" fill="none" stroke-linecap="butt"/>
<path d="M128.9,8.2 Q125.4,15 128.9,21.8" stroke="#000" stroke-width="1.0" fill="none" stroke-linecap="butt"/>
<path d="M153.4,8.2 Q156.9,15 153.4,21.8" stroke="#000" stroke-width="1.0" fill="none" stroke-linecap="butt"/>
<text x="161.6" y="18.2" font-size="6.8" text-anchor="middle">H</text>
<text x="155.6" y="24.0" font-size="6.5" font-weight="bold" letter-spacing="-0.3">80</text>
<path d="M618.30,7.89 L625.92,12.24 L625.92,20.96 L618.30,25.31 L610.68,20.96 L610.68,12.24 Z" stroke="#000" stroke-width="1.0" fill="none" stroke-linecap="butt" stroke-linejoin="miter"/>
<path d="M618.77,10.57 L623.34,13.19" stroke="#000" stroke-width="1.0" fill="none" stroke-linecap="butt" stroke-linejoin="miter"/>
<path d="M623.34,20.01 L618.77,22.63" stroke="#000" stroke-width="1.0" fill="none" stroke-linecap="butt" stroke-linejoin="miter"/>
<path d="M612.78,19.21 L612.78,13.99" stroke="#000" stroke-width="1.0" fill="none" stroke-linecap="butt" stroke-linejoin="miter"/>
<path d="M625.92,12.24 L633.9,8.1 L639.4,11.0" stroke="#000" stroke-width="1.0" fill="none" stroke-linecap="butt" stroke-linejoin="miter"/>
<ellipse cx="641.5" cy="11.9" rx="1.85" ry="2.05" fill="none" stroke="#000" stroke-width="0.95"/>
<path d="M643.6,11.2 L650.5,9.0 L658.6,13.9 L665.6,10.2" stroke="#000" stroke-width="1.0" fill="none" stroke-linecap="butt" stroke-linejoin="miter"/>
<path d="M658.6,13.9 L658.6,22.8" stroke="#000" stroke-width="1.0" fill="none" stroke-linecap="butt" stroke-linejoin="miter"/>
<ellipse cx="668.3" cy="8.7" rx="1.85" ry="2.05" fill="none" stroke="#000" stroke-width="0.95"/>
<path d="M670.4,9.9 L677.4,11.4" stroke="#000" stroke-width="1.0" fill="none" stroke-linecap="butt" stroke-linejoin="miter"/>
<path d="M648.6,4.4 Q645.9,10.4 648.6,16.4" stroke="#000" stroke-width="1.0" fill="none" stroke-linecap="butt" stroke-linejoin="miter"/>
<path d="M672.6,4.4 Q675.3,10.4 672.6,16.4" stroke="#000" stroke-width="1.0" fill="none" stroke-linecap="butt" stroke-linejoin="miter"/>
<text x="680.0" y="13.8" font-size="6.8" text-anchor="middle">H</text>
<text x="673.6" y="19.9" font-size="6.5" font-weight="bold" letter-spacing="-0.3">80</text>
</svg>
</body></html>
